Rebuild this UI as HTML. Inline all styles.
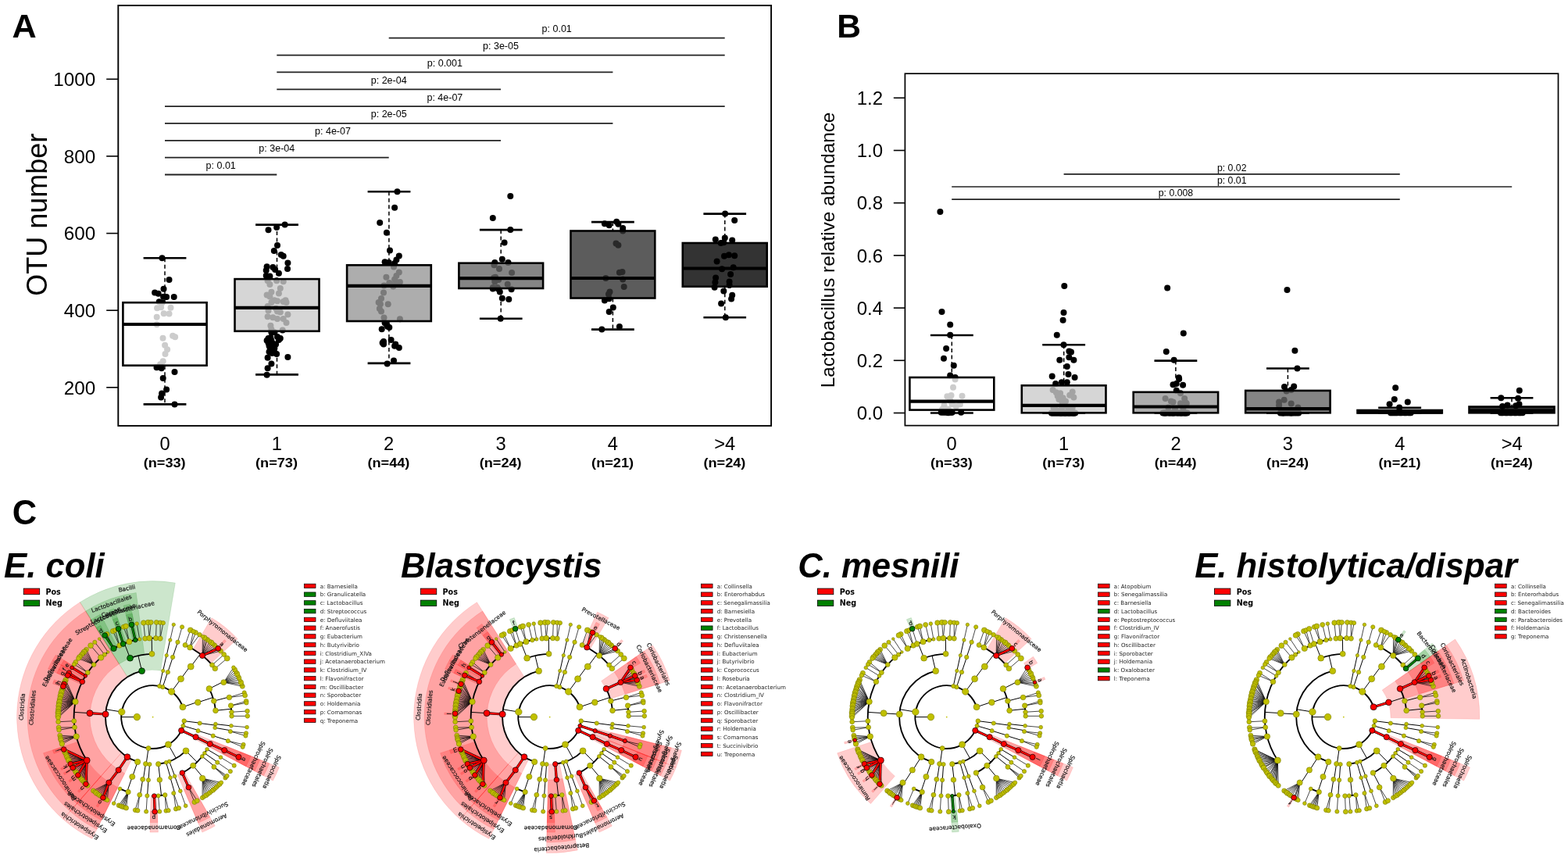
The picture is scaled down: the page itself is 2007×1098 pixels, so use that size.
<!DOCTYPE html>
<html><head><meta charset="utf-8"><title>Figure</title>
<style>
html,body{margin:0;padding:0;background:#fff;width:2007px;height:1098px;overflow:hidden}
svg{display:block}
svg text{font-family:"Liberation Sans",Arial,sans-serif}
svg text.dv{font-family:"DejaVu Sans",sans-serif}
</style></head><body>
<svg width="2007" height="1098" viewBox="0 0 2007 1098">
<rect width="2007" height="1098" fill="#fff"/>
<rect x="151.3" y="7" width="835.8" height="537.9" fill="none" stroke="#000" stroke-width="1.9"/>
<line x1="136.2" y1="495.8" x2="151.3" y2="495.8" stroke="#000" stroke-width="1.6"/>
<text x="122.3" y="504.5" font-size="24.3" text-anchor="end">200</text>
<line x1="136.2" y1="397.2" x2="151.3" y2="397.2" stroke="#000" stroke-width="1.6"/>
<text x="122.3" y="405.9" font-size="24.3" text-anchor="end">400</text>
<line x1="136.2" y1="298.6" x2="151.3" y2="298.6" stroke="#000" stroke-width="1.6"/>
<text x="122.3" y="307.3" font-size="24.3" text-anchor="end">600</text>
<line x1="136.2" y1="199.9" x2="151.3" y2="199.9" stroke="#000" stroke-width="1.6"/>
<text x="122.3" y="208.6" font-size="24.3" text-anchor="end">800</text>
<line x1="136.2" y1="101.3" x2="151.3" y2="101.3" stroke="#000" stroke-width="1.6"/>
<text x="122.3" y="110" font-size="24.3" text-anchor="end">1000</text>
<text transform="translate(59.8,274.8) rotate(-90)" font-size="36" text-anchor="middle">OTU number</text>
<text x="211" y="575.9" font-size="23.7" text-anchor="middle">0</text>
<text x="183.7" y="597.6" font-size="16.2" font-weight="bold" textLength="54" lengthAdjust="spacingAndGlyphs">(n=33)</text>
<text x="354.3" y="575.9" font-size="23.7" text-anchor="middle">1</text>
<text x="327" y="597.6" font-size="16.2" font-weight="bold" textLength="54" lengthAdjust="spacingAndGlyphs">(n=73)</text>
<text x="497.7" y="575.9" font-size="23.7" text-anchor="middle">2</text>
<text x="470.4" y="597.6" font-size="16.2" font-weight="bold" textLength="54" lengthAdjust="spacingAndGlyphs">(n=44)</text>
<text x="641" y="575.9" font-size="23.7" text-anchor="middle">3</text>
<text x="613.7" y="597.6" font-size="16.2" font-weight="bold" textLength="54" lengthAdjust="spacingAndGlyphs">(n=24)</text>
<text x="784.4" y="575.9" font-size="23.7" text-anchor="middle">4</text>
<text x="757.1" y="597.6" font-size="16.2" font-weight="bold" textLength="54" lengthAdjust="spacingAndGlyphs">(n=21)</text>
<text x="927.7" y="575.9" font-size="23.7" text-anchor="middle">&gt;4</text>
<text x="900.4" y="597.6" font-size="16.2" font-weight="bold" textLength="54" lengthAdjust="spacingAndGlyphs">(n=24)</text>
<circle cx="207.5" cy="330.2" r="4.0"/>
<circle cx="216.5" cy="358.1" r="4.0"/>
<circle cx="209.5" cy="369.7" r="4.0"/>
<circle cx="198.1" cy="374.5" r="4.0"/>
<circle cx="202.7" cy="375.7" r="4.0"/>
<circle cx="209.1" cy="379.7" r="4.0"/>
<circle cx="213.1" cy="380.1" r="4.0"/>
<circle cx="222.7" cy="380.1" r="4.0"/>
<circle cx="203.7" cy="386.2" r="4.0"/>
<circle cx="207.7" cy="387.2" r="4.0"/>
<circle cx="201.1" cy="394.2" r="4.0"/>
<circle cx="206.1" cy="393.2" r="4.0"/>
<circle cx="218.5" cy="393.8" r="4.0"/>
<circle cx="209.7" cy="401.2" r="4.0"/>
<circle cx="216.5" cy="401.6" r="4.0"/>
<circle cx="200.7" cy="405.8" r="4.0"/>
<circle cx="200.7" cy="415.2" r="4.0"/>
<circle cx="208.5" cy="432.8" r="4.0"/>
<circle cx="221.1" cy="429.8" r="4.0"/>
<circle cx="224.1" cy="431.2" r="4.0"/>
<circle cx="211.1" cy="441.7" r="4.0"/>
<circle cx="214.1" cy="447.3" r="4.0"/>
<circle cx="211.5" cy="452.9" r="4.0"/>
<circle cx="208.7" cy="462.3" r="4.0"/>
<circle cx="205.1" cy="466.3" r="4.0"/>
<circle cx="200.5" cy="470.3" r="4.0"/>
<circle cx="206.7" cy="471.3" r="4.0"/>
<circle cx="223.5" cy="475.9" r="4.0"/>
<circle cx="208.7" cy="483.9" r="4.0"/>
<circle cx="213.1" cy="498.4" r="4.0"/>
<circle cx="207.1" cy="503.4" r="4.0"/>
<circle cx="206.1" cy="508.4" r="4.0"/>
<circle cx="223.5" cy="517.4" r="4.0"/>
<circle cx="364.6" cy="287.6" r="4.0"/>
<circle cx="354.1" cy="291.1" r="4.0"/>
<circle cx="343.5" cy="294.3" r="4.0"/>
<circle cx="355" cy="314" r="4.0"/>
<circle cx="350.8" cy="321.1" r="4.0"/>
<circle cx="359.8" cy="325.9" r="4.0"/>
<circle cx="362.7" cy="327.8" r="4.0"/>
<circle cx="368.4" cy="336.4" r="4.0"/>
<circle cx="368" cy="344.1" r="4.0"/>
<circle cx="341.6" cy="341.2" r="4.0"/>
<circle cx="340.7" cy="346" r="4.0"/>
<circle cx="349.3" cy="342.1" r="4.0"/>
<circle cx="352.1" cy="345" r="4.0"/>
<circle cx="356.9" cy="349.8" r="4.0"/>
<circle cx="340.7" cy="352.7" r="4.0"/>
<circle cx="345.4" cy="353.6" r="4.0"/>
<circle cx="342.6" cy="359.3" r="4.0"/>
<circle cx="354.1" cy="359.3" r="4.0"/>
<circle cx="362.7" cy="360.3" r="4.0"/>
<circle cx="345.4" cy="364.1" r="4.0"/>
<circle cx="358.8" cy="368.9" r="4.0"/>
<circle cx="341.6" cy="377.5" r="4.0"/>
<circle cx="347.4" cy="373.7" r="4.0"/>
<circle cx="345.4" cy="379.4" r="4.0"/>
<circle cx="351.2" cy="384.2" r="4.0"/>
<circle cx="355" cy="385.2" r="4.0"/>
<circle cx="365.5" cy="384.2" r="4.0"/>
<circle cx="366.5" cy="387.1" r="4.0"/>
<circle cx="362.7" cy="386.1" r="4.0"/>
<circle cx="342.6" cy="391.9" r="4.0"/>
<circle cx="343.5" cy="397.6" r="4.0"/>
<circle cx="355" cy="398.5" r="4.0"/>
<circle cx="358.8" cy="399.5" r="4.0"/>
<circle cx="368.4" cy="402.4" r="4.0"/>
<circle cx="342.6" cy="405.2" r="4.0"/>
<circle cx="349.3" cy="406.2" r="4.0"/>
<circle cx="355" cy="408.1" r="4.0"/>
<circle cx="362.7" cy="408.1" r="4.0"/>
<circle cx="366.5" cy="412.9" r="4.0"/>
<circle cx="346.4" cy="416.7" r="4.0"/>
<circle cx="361.7" cy="422.4" r="4.0"/>
<circle cx="347.4" cy="421.5" r="4.0"/>
<circle cx="353.1" cy="394.7" r="4.0"/>
<circle cx="347.4" cy="387.1" r="4.0"/>
<circle cx="356.9" cy="375.6" r="4.0"/>
<circle cx="347.4" cy="425.3" r="4.0"/>
<circle cx="351.2" cy="425.3" r="4.0"/>
<circle cx="343.5" cy="433" r="4.0"/>
<circle cx="358.8" cy="433" r="4.0"/>
<circle cx="347.4" cy="435.8" r="4.0"/>
<circle cx="356.9" cy="434.9" r="4.0"/>
<circle cx="343.5" cy="438.7" r="4.0"/>
<circle cx="349.3" cy="439.7" r="4.0"/>
<circle cx="345.4" cy="444.4" r="4.0"/>
<circle cx="351.2" cy="446.3" r="4.0"/>
<circle cx="344.5" cy="450.2" r="4.0"/>
<circle cx="354.1" cy="453" r="4.0"/>
<circle cx="342.6" cy="457.8" r="4.0"/>
<circle cx="368.4" cy="456.9" r="4.0"/>
<circle cx="347.4" cy="465.5" r="4.0"/>
<circle cx="342.6" cy="471.2" r="4.0"/>
<circle cx="341.6" cy="479.8" r="4.0"/>
<circle cx="353.1" cy="440.6" r="4.0"/>
<circle cx="346.4" cy="432" r="4.0"/>
<circle cx="350.2" cy="448.3" r="4.0"/>
<circle cx="341.6" cy="435.8" r="4.0"/>
<circle cx="348.3" cy="452.1" r="4.0"/>
<circle cx="344.5" cy="442.5" r="4.0"/>
<circle cx="355" cy="431.1" r="4.0"/>
<circle cx="508.5" cy="245.3" r="4.0"/>
<circle cx="505.1" cy="265.7" r="4.0"/>
<circle cx="486.2" cy="285.1" r="4.0"/>
<circle cx="494.9" cy="297.8" r="4.0"/>
<circle cx="499" cy="320.6" r="4.0"/>
<circle cx="510.8" cy="327.4" r="4.0"/>
<circle cx="507.4" cy="332.4" r="4.0"/>
<circle cx="492.6" cy="335.2" r="4.0"/>
<circle cx="497.8" cy="335.9" r="4.0"/>
<circle cx="505.1" cy="337" r="4.0"/>
<circle cx="504" cy="341.5" r="4.0"/>
<circle cx="510.8" cy="348.4" r="4.0"/>
<circle cx="507.4" cy="352.9" r="4.0"/>
<circle cx="494.4" cy="354.7" r="4.0"/>
<circle cx="498.3" cy="362" r="4.0"/>
<circle cx="507.4" cy="360.9" r="4.0"/>
<circle cx="511.9" cy="360.9" r="4.0"/>
<circle cx="503.3" cy="366.6" r="4.0"/>
<circle cx="491.5" cy="365.4" r="4.0"/>
<circle cx="491" cy="374.5" r="4.0"/>
<circle cx="488" cy="382.1" r="4.0"/>
<circle cx="484.6" cy="387.1" r="4.0"/>
<circle cx="496.7" cy="389.3" r="4.0"/>
<circle cx="485.8" cy="395" r="4.0"/>
<circle cx="488" cy="398.4" r="4.0"/>
<circle cx="491.5" cy="406.4" r="4.0"/>
<circle cx="511.9" cy="408.2" r="4.0"/>
<circle cx="505.1" cy="357.5" r="4.0"/>
<circle cx="486.9" cy="389.3" r="4.0"/>
<circle cx="500.6" cy="364.3" r="4.0"/>
<circle cx="492.6" cy="413.2" r="4.0"/>
<circle cx="496" cy="417.8" r="4.0"/>
<circle cx="488.7" cy="421.2" r="4.0"/>
<circle cx="491" cy="437.1" r="4.0"/>
<circle cx="491" cy="440.6" r="4.0"/>
<circle cx="500.6" cy="434.9" r="4.0"/>
<circle cx="506.3" cy="440.6" r="4.0"/>
<circle cx="510.8" cy="445.1" r="4.0"/>
<circle cx="495.6" cy="465.6" r="4.0"/>
<circle cx="504" cy="461.5" r="4.0"/>
<circle cx="494.9" cy="415.5" r="4.0"/>
<circle cx="498.3" cy="418.9" r="4.0"/>
<circle cx="505.1" cy="442.8" r="4.0"/>
<circle cx="489.6" cy="438.7" r="4.0"/>
<circle cx="653.3" cy="251" r="4.0"/>
<circle cx="630.8" cy="279" r="4.0"/>
<circle cx="653.3" cy="294.1" r="4.0"/>
<circle cx="645.6" cy="310.5" r="4.0"/>
<circle cx="642.8" cy="331.8" r="4.0"/>
<circle cx="633.3" cy="335.9" r="4.0"/>
<circle cx="650.5" cy="335.9" r="4.0"/>
<circle cx="632.5" cy="339.2" r="4.0"/>
<circle cx="639" cy="344.1" r="4.0"/>
<circle cx="655.1" cy="349" r="4.0"/>
<circle cx="632.1" cy="355.6" r="4.0"/>
<circle cx="638.2" cy="358" r="4.0"/>
<circle cx="633.3" cy="360.5" r="4.0"/>
<circle cx="649.7" cy="363.8" r="4.0"/>
<circle cx="630.8" cy="367.9" r="4.0"/>
<circle cx="636.6" cy="367.9" r="4.0"/>
<circle cx="634.1" cy="354.8" r="4.0"/>
<circle cx="654.6" cy="370.3" r="4.0"/>
<circle cx="639.8" cy="373.6" r="4.0"/>
<circle cx="642.8" cy="381.8" r="4.0"/>
<circle cx="651.3" cy="383" r="4.0"/>
<circle cx="640.7" cy="407.7" r="4.0"/>
<circle cx="630.8" cy="369.5" r="4.0"/>
<circle cx="637.4" cy="369.5" r="4.0"/>
<circle cx="773.9" cy="286.3" r="4.0"/>
<circle cx="779.7" cy="288.2" r="4.0"/>
<circle cx="789.2" cy="283.8" r="4.0"/>
<circle cx="791.4" cy="286.8" r="4.0"/>
<circle cx="797.2" cy="291.9" r="4.0"/>
<circle cx="797.2" cy="295.5" r="4.0"/>
<circle cx="788.5" cy="311.5" r="4.0"/>
<circle cx="791.4" cy="313.7" r="4.0"/>
<circle cx="792.9" cy="348.7" r="4.0"/>
<circle cx="796.5" cy="348" r="4.0"/>
<circle cx="775.4" cy="356" r="4.0"/>
<circle cx="797.2" cy="357.4" r="4.0"/>
<circle cx="798.7" cy="366.9" r="4.0"/>
<circle cx="780.5" cy="373.5" r="4.0"/>
<circle cx="779" cy="376.4" r="4.0"/>
<circle cx="773.9" cy="384.4" r="4.0"/>
<circle cx="779.7" cy="382.2" r="4.0"/>
<circle cx="784.8" cy="393.6" r="4.0"/>
<circle cx="779.7" cy="399" r="4.0"/>
<circle cx="770.3" cy="421.6" r="4.0"/>
<circle cx="792.9" cy="417.9" r="4.0"/>
<circle cx="928.1" cy="273.6" r="4.0"/>
<circle cx="940.2" cy="281.9" r="4.0"/>
<circle cx="915.8" cy="306.6" r="4.0"/>
<circle cx="927.8" cy="304.4" r="4.0"/>
<circle cx="937.2" cy="307.4" r="4.0"/>
<circle cx="922.7" cy="311" r="4.0"/>
<circle cx="926.3" cy="310.3" r="4.0"/>
<circle cx="927" cy="327.8" r="4.0"/>
<circle cx="932.9" cy="326.3" r="4.0"/>
<circle cx="940.2" cy="327.3" r="4.0"/>
<circle cx="917.6" cy="334.6" r="4.0"/>
<circle cx="924.1" cy="344.2" r="4.0"/>
<circle cx="938.7" cy="342.3" r="4.0"/>
<circle cx="935.1" cy="351.1" r="4.0"/>
<circle cx="916.1" cy="355.5" r="4.0"/>
<circle cx="915.4" cy="361.3" r="4.0"/>
<circle cx="933.6" cy="360.6" r="4.0"/>
<circle cx="933.6" cy="364.9" r="4.0"/>
<circle cx="914.6" cy="367.8" r="4.0"/>
<circle cx="926.3" cy="372.6" r="4.0"/>
<circle cx="937.2" cy="377.7" r="4.0"/>
<circle cx="936.1" cy="382.4" r="4.0"/>
<circle cx="923.1" cy="388.5" r="4.0"/>
<circle cx="928.8" cy="406.2" r="4.0"/>
<line x1="211" y1="330.2" x2="211" y2="387.2" stroke="#000" stroke-width="1.5" stroke-dasharray="5,3.5"/>
<line x1="211" y1="467.7" x2="211" y2="517.4" stroke="#000" stroke-width="1.5" stroke-dasharray="5,3.5"/>
<line x1="183.6" y1="330.2" x2="238.4" y2="330.2" stroke="#000" stroke-width="2.6"/>
<line x1="183.6" y1="517.4" x2="238.4" y2="517.4" stroke="#000" stroke-width="2.6"/>
<rect x="157.4" y="387.2" width="107.2" height="80.5" fill="#ffffff" fill-opacity="0.8" stroke="#000" stroke-width="2.6"/>
<line x1="157.4" y1="415" x2="264.6" y2="415" stroke="#000" stroke-width="4.2"/>
<line x1="354.5" y1="287.6" x2="354.5" y2="357.1" stroke="#000" stroke-width="1.5" stroke-dasharray="5,3.5"/>
<line x1="354.5" y1="423.8" x2="354.5" y2="479.4" stroke="#000" stroke-width="1.5" stroke-dasharray="5,3.5"/>
<line x1="327.1" y1="287.6" x2="381.9" y2="287.6" stroke="#000" stroke-width="2.6"/>
<line x1="327.1" y1="479.4" x2="381.9" y2="479.4" stroke="#000" stroke-width="2.6"/>
<rect x="300.5" y="357.1" width="108" height="66.7" fill="#cccccc" fill-opacity="0.8" stroke="#000" stroke-width="2.6"/>
<line x1="300.5" y1="393.8" x2="408.5" y2="393.8" stroke="#000" stroke-width="4.2"/>
<line x1="497.9" y1="245.3" x2="497.9" y2="339.3" stroke="#000" stroke-width="1.5" stroke-dasharray="5,3.5"/>
<line x1="497.9" y1="411" x2="497.9" y2="464.9" stroke="#000" stroke-width="1.5" stroke-dasharray="5,3.5"/>
<line x1="470.6" y1="245.3" x2="525.4" y2="245.3" stroke="#000" stroke-width="2.6"/>
<line x1="470.6" y1="464.9" x2="525.4" y2="464.9" stroke="#000" stroke-width="2.6"/>
<rect x="444.1" y="339.3" width="107.7" height="71.7" fill="#999999" fill-opacity="0.8" stroke="#000" stroke-width="2.6"/>
<line x1="444.1" y1="365.9" x2="551.8" y2="365.9" stroke="#000" stroke-width="4.2"/>
<line x1="641.2" y1="294.1" x2="641.2" y2="336.7" stroke="#000" stroke-width="1.5" stroke-dasharray="5,3.5"/>
<line x1="641.2" y1="369" x2="641.2" y2="407.7" stroke="#000" stroke-width="1.5" stroke-dasharray="5,3.5"/>
<line x1="613.9" y1="294.1" x2="668.6" y2="294.1" stroke="#000" stroke-width="2.6"/>
<line x1="613.9" y1="407.7" x2="668.6" y2="407.7" stroke="#000" stroke-width="2.6"/>
<rect x="587.4" y="336.7" width="107.7" height="32.3" fill="#666666" fill-opacity="0.8" stroke="#000" stroke-width="2.6"/>
<line x1="587.4" y1="356.1" x2="695.1" y2="356.1" stroke="#000" stroke-width="4.2"/>
<line x1="784.4" y1="284.1" x2="784.4" y2="295.5" stroke="#000" stroke-width="1.5" stroke-dasharray="5,3.5"/>
<line x1="784.4" y1="381.5" x2="784.4" y2="421.6" stroke="#000" stroke-width="1.5" stroke-dasharray="5,3.5"/>
<line x1="757" y1="284.1" x2="811.8" y2="284.1" stroke="#000" stroke-width="2.6"/>
<line x1="757" y1="421.6" x2="811.8" y2="421.6" stroke="#000" stroke-width="2.6"/>
<rect x="730.5" y="295.5" width="107.8" height="86" fill="#333333" fill-opacity="0.8" stroke="#000" stroke-width="2.6"/>
<line x1="730.5" y1="356" x2="838.3" y2="356" stroke="#000" stroke-width="4.2"/>
<line x1="927.8" y1="273.6" x2="927.8" y2="311" stroke="#000" stroke-width="1.5" stroke-dasharray="5,3.5"/>
<line x1="927.8" y1="366.7" x2="927.8" y2="406.2" stroke="#000" stroke-width="1.5" stroke-dasharray="5,3.5"/>
<line x1="900.4" y1="273.6" x2="955.1" y2="273.6" stroke="#000" stroke-width="2.6"/>
<line x1="900.4" y1="406.2" x2="955.1" y2="406.2" stroke="#000" stroke-width="2.6"/>
<rect x="873.8" y="311" width="107.9" height="55.7" fill="#000000" fill-opacity="0.8" stroke="#000" stroke-width="2.6"/>
<line x1="873.8" y1="343.5" x2="981.7" y2="343.5" stroke="#000" stroke-width="4.2"/>
<line x1="497.7" y1="48.7" x2="927.7" y2="48.7" stroke="#222" stroke-width="1.8"/>
<text x="712.7" y="41.2" font-size="12.5" text-anchor="middle">p: 0.01</text>
<line x1="354.3" y1="70.6" x2="927.7" y2="70.6" stroke="#222" stroke-width="1.8"/>
<text x="641" y="63.1" font-size="12.5" text-anchor="middle">p: 3e-05</text>
<line x1="354.3" y1="92.4" x2="784.4" y2="92.4" stroke="#222" stroke-width="1.8"/>
<text x="569.4" y="84.9" font-size="12.5" text-anchor="middle">p: 0.001</text>
<line x1="354.3" y1="114.3" x2="641" y2="114.3" stroke="#222" stroke-width="1.8"/>
<text x="497.7" y="106.8" font-size="12.5" text-anchor="middle">p: 2e-04</text>
<line x1="211" y1="136.1" x2="927.7" y2="136.1" stroke="#222" stroke-width="1.8"/>
<text x="569.4" y="128.6" font-size="12.5" text-anchor="middle">p: 4e-07</text>
<line x1="211" y1="157.9" x2="784.4" y2="157.9" stroke="#222" stroke-width="1.8"/>
<text x="497.7" y="150.4" font-size="12.5" text-anchor="middle">p: 2e-05</text>
<line x1="211" y1="179.8" x2="641" y2="179.8" stroke="#222" stroke-width="1.8"/>
<text x="426" y="172.3" font-size="12.5" text-anchor="middle">p: 4e-07</text>
<line x1="211" y1="201.7" x2="497.7" y2="201.7" stroke="#222" stroke-width="1.8"/>
<text x="354.3" y="194.2" font-size="12.5" text-anchor="middle">p: 3e-04</text>
<line x1="211" y1="223.5" x2="354.3" y2="223.5" stroke="#222" stroke-width="1.8"/>
<text x="282.7" y="216" font-size="12.5" text-anchor="middle">p: 0.01</text>
<text x="15.4" y="47.9" font-size="42.5" font-weight="bold" textLength="31.2" lengthAdjust="spacingAndGlyphs">A</text>
<rect x="1158.4" y="94.2" width="836.1" height="450.4" fill="none" stroke="#000" stroke-width="1.7"/>
<line x1="1143.8" y1="528.5" x2="1158.4" y2="528.5" stroke="#000" stroke-width="1.6"/>
<text x="1130" y="537.1" font-size="24" text-anchor="end">0.0</text>
<line x1="1143.8" y1="461.3" x2="1158.4" y2="461.3" stroke="#000" stroke-width="1.6"/>
<text x="1130" y="469.9" font-size="24" text-anchor="end">0.2</text>
<line x1="1143.8" y1="394.1" x2="1158.4" y2="394.1" stroke="#000" stroke-width="1.6"/>
<text x="1130" y="402.7" font-size="24" text-anchor="end">0.4</text>
<line x1="1143.8" y1="326.9" x2="1158.4" y2="326.9" stroke="#000" stroke-width="1.6"/>
<text x="1130" y="335.5" font-size="24" text-anchor="end">0.6</text>
<line x1="1143.8" y1="259.7" x2="1158.4" y2="259.7" stroke="#000" stroke-width="1.6"/>
<text x="1130" y="268.3" font-size="24" text-anchor="end">0.8</text>
<line x1="1143.8" y1="192.5" x2="1158.4" y2="192.5" stroke="#000" stroke-width="1.6"/>
<text x="1130" y="201.1" font-size="24" text-anchor="end">1.0</text>
<line x1="1143.8" y1="125.3" x2="1158.4" y2="125.3" stroke="#000" stroke-width="1.6"/>
<text x="1130" y="133.9" font-size="24" text-anchor="end">1.2</text>
<text transform="translate(1068,319.9) rotate(-90)" font-size="24.3" text-anchor="middle">Lactobacillus relative abundance</text>
<text x="1218.2" y="575.9" font-size="23.7" text-anchor="middle">0</text>
<text x="1190.9" y="597.6" font-size="16.2" font-weight="bold" textLength="54" lengthAdjust="spacingAndGlyphs">(n=33)</text>
<text x="1361.6" y="575.9" font-size="23.7" text-anchor="middle">1</text>
<text x="1334.3" y="597.6" font-size="16.2" font-weight="bold" textLength="54" lengthAdjust="spacingAndGlyphs">(n=73)</text>
<text x="1505" y="575.9" font-size="23.7" text-anchor="middle">2</text>
<text x="1477.7" y="597.6" font-size="16.2" font-weight="bold" textLength="54" lengthAdjust="spacingAndGlyphs">(n=44)</text>
<text x="1648.4" y="575.9" font-size="23.7" text-anchor="middle">3</text>
<text x="1621.1" y="597.6" font-size="16.2" font-weight="bold" textLength="54" lengthAdjust="spacingAndGlyphs">(n=24)</text>
<text x="1791.8" y="575.9" font-size="23.7" text-anchor="middle">4</text>
<text x="1764.5" y="597.6" font-size="16.2" font-weight="bold" textLength="54" lengthAdjust="spacingAndGlyphs">(n=21)</text>
<text x="1935.2" y="575.9" font-size="23.7" text-anchor="middle">&gt;4</text>
<text x="1907.9" y="597.6" font-size="16.2" font-weight="bold" textLength="54" lengthAdjust="spacingAndGlyphs">(n=24)</text>
<circle cx="1203.4" cy="271" r="4.0"/>
<circle cx="1205.5" cy="398.9" r="4.0"/>
<circle cx="1216.2" cy="415.5" r="4.0"/>
<circle cx="1216.2" cy="428.7" r="4.0"/>
<circle cx="1211.1" cy="446.1" r="4.0"/>
<circle cx="1208" cy="458.8" r="4.0"/>
<circle cx="1220.8" cy="467.7" r="4.0"/>
<circle cx="1216.2" cy="480.5" r="4.0"/>
<circle cx="1222.6" cy="483" r="4.0"/>
<circle cx="1222.6" cy="485.6" r="4.0"/>
<circle cx="1220" cy="495.8" r="4.0"/>
<circle cx="1212.4" cy="507.3" r="4.0"/>
<circle cx="1217.5" cy="506" r="4.0"/>
<circle cx="1231.5" cy="506.7" r="4.0"/>
<circle cx="1208.5" cy="518.7" r="4.0"/>
<circle cx="1218.7" cy="517.5" r="4.0"/>
<circle cx="1228.9" cy="517.5" r="4.0"/>
<circle cx="1206" cy="523.8" r="4.0"/>
<circle cx="1213.6" cy="523.8" r="4.0"/>
<circle cx="1223.8" cy="520" r="4.0"/>
<circle cx="1216.2" cy="512.4" r="4.0"/>
<circle cx="1204.7" cy="527.7" r="4.0"/>
<circle cx="1207.3" cy="527.7" r="4.0"/>
<circle cx="1209.8" cy="527.7" r="4.0"/>
<circle cx="1212.4" cy="527.7" r="4.0"/>
<circle cx="1214.9" cy="527.7" r="4.0"/>
<circle cx="1217.5" cy="527.7" r="4.0"/>
<circle cx="1218.7" cy="527.7" r="4.0"/>
<circle cx="1230.2" cy="527.7" r="4.0"/>
<circle cx="1208.5" cy="526.4" r="4.0"/>
<circle cx="1216.2" cy="526.4" r="4.0"/>
<circle cx="1213.6" cy="528.2" r="4.0"/>
<circle cx="1211.1" cy="526.6" r="4.0"/>
<circle cx="1362.3" cy="366.1" r="4.0"/>
<circle cx="1361.5" cy="399.9" r="4.0"/>
<circle cx="1360.6" cy="409.7" r="4.0"/>
<circle cx="1352.8" cy="428.8" r="4.0"/>
<circle cx="1361.5" cy="441.2" r="4.0"/>
<circle cx="1368.4" cy="449.5" r="4.0"/>
<circle cx="1371" cy="450.4" r="4.0"/>
<circle cx="1368.4" cy="457.3" r="4.0"/>
<circle cx="1374.4" cy="460.8" r="4.0"/>
<circle cx="1356.3" cy="460.8" r="4.0"/>
<circle cx="1365.8" cy="469.1" r="4.0"/>
<circle cx="1367.5" cy="479" r="4.0"/>
<circle cx="1346.7" cy="481.6" r="4.0"/>
<circle cx="1375.6" cy="482.9" r="4.0"/>
<circle cx="1351.1" cy="491.1" r="4.0"/>
<circle cx="1358.9" cy="489.3" r="4.0"/>
<circle cx="1365.8" cy="489.3" r="4.0"/>
<circle cx="1347.6" cy="498.9" r="4.0"/>
<circle cx="1351.9" cy="502.3" r="4.0"/>
<circle cx="1357.1" cy="503.2" r="4.0"/>
<circle cx="1372.7" cy="501.5" r="4.0"/>
<circle cx="1360.6" cy="509.3" r="4.0"/>
<circle cx="1374.4" cy="508.4" r="4.0"/>
<circle cx="1355.4" cy="511" r="4.0"/>
<circle cx="1359.7" cy="515.3" r="4.0"/>
<circle cx="1364" cy="513.6" r="4.0"/>
<circle cx="1348.5" cy="521.4" r="4.0"/>
<circle cx="1358.9" cy="523.1" r="4.0"/>
<circle cx="1372.7" cy="521.4" r="4.0"/>
<circle cx="1353.7" cy="506.7" r="4.0"/>
<circle cx="1369.2" cy="505.8" r="4.0"/>
<circle cx="1362.3" cy="519.6" r="4.0"/>
<circle cx="1351.9" cy="524.8" r="4.0"/>
<circle cx="1367.5" cy="524.8" r="4.0"/>
<circle cx="1345.9" cy="528.5" r="4.0"/>
<circle cx="1348.5" cy="528.5" r="4.0"/>
<circle cx="1351.1" cy="528.5" r="4.0"/>
<circle cx="1353.7" cy="528.5" r="4.0"/>
<circle cx="1356.3" cy="528.5" r="4.0"/>
<circle cx="1358.9" cy="528.5" r="4.0"/>
<circle cx="1361.5" cy="528.5" r="4.0"/>
<circle cx="1364" cy="528.5" r="4.0"/>
<circle cx="1366.6" cy="528.5" r="4.0"/>
<circle cx="1369.2" cy="528.5" r="4.0"/>
<circle cx="1371.8" cy="528.5" r="4.0"/>
<circle cx="1374.4" cy="528.5" r="4.0"/>
<circle cx="1376.2" cy="528.5" r="4.0"/>
<circle cx="1346.7" cy="528.5" r="4.0"/>
<circle cx="1351.9" cy="528.5" r="4.0"/>
<circle cx="1357.1" cy="528.5" r="4.0"/>
<circle cx="1362.3" cy="528.5" r="4.0"/>
<circle cx="1367.5" cy="528.5" r="4.0"/>
<circle cx="1372.7" cy="528.5" r="4.0"/>
<circle cx="1375.3" cy="528.5" r="4.0"/>
<circle cx="1349.3" cy="528.5" r="4.0"/>
<circle cx="1354.5" cy="528.5" r="4.0"/>
<circle cx="1359.7" cy="528.5" r="4.0"/>
<circle cx="1364.9" cy="528.5" r="4.0"/>
<circle cx="1370.1" cy="528.5" r="4.0"/>
<circle cx="1373.6" cy="528.5" r="4.0"/>
<circle cx="1358" cy="528.5" r="4.0"/>
<circle cx="1363.2" cy="528.5" r="4.0"/>
<circle cx="1368.4" cy="528.5" r="4.0"/>
<circle cx="1494.2" cy="368.5" r="4.0"/>
<circle cx="1514.8" cy="426.5" r="4.0"/>
<circle cx="1492.8" cy="449.9" r="4.0"/>
<circle cx="1502.7" cy="460.8" r="4.0"/>
<circle cx="1508.9" cy="483.3" r="4.0"/>
<circle cx="1509.2" cy="485" r="4.0"/>
<circle cx="1501.5" cy="492.3" r="4.0"/>
<circle cx="1505.8" cy="491.1" r="4.0"/>
<circle cx="1514.1" cy="492.8" r="4.0"/>
<circle cx="1505.8" cy="499.7" r="4.0"/>
<circle cx="1511" cy="503.2" r="4.0"/>
<circle cx="1491.6" cy="510.1" r="4.0"/>
<circle cx="1498.9" cy="513.6" r="4.0"/>
<circle cx="1501.5" cy="514.4" r="4.0"/>
<circle cx="1516.2" cy="510.1" r="4.0"/>
<circle cx="1517" cy="514.4" r="4.0"/>
<circle cx="1518.8" cy="516.2" r="4.0"/>
<circle cx="1511" cy="516.2" r="4.0"/>
<circle cx="1495.4" cy="521.4" r="4.0"/>
<circle cx="1514.4" cy="522.2" r="4.0"/>
<circle cx="1504" cy="523.1" r="4.0"/>
<circle cx="1488.5" cy="528.5" r="4.0"/>
<circle cx="1491.1" cy="528.5" r="4.0"/>
<circle cx="1493.7" cy="528.5" r="4.0"/>
<circle cx="1496.3" cy="528.5" r="4.0"/>
<circle cx="1498.9" cy="528.5" r="4.0"/>
<circle cx="1501.5" cy="528.5" r="4.0"/>
<circle cx="1504" cy="528.5" r="4.0"/>
<circle cx="1506.6" cy="528.5" r="4.0"/>
<circle cx="1509.2" cy="528.5" r="4.0"/>
<circle cx="1511.8" cy="528.5" r="4.0"/>
<circle cx="1514.4" cy="528.5" r="4.0"/>
<circle cx="1517" cy="528.5" r="4.0"/>
<circle cx="1519.6" cy="528.5" r="4.0"/>
<circle cx="1491.9" cy="528.5" r="4.0"/>
<circle cx="1497.1" cy="528.5" r="4.0"/>
<circle cx="1502.3" cy="528.5" r="4.0"/>
<circle cx="1507.5" cy="528.5" r="4.0"/>
<circle cx="1512.7" cy="528.5" r="4.0"/>
<circle cx="1517.9" cy="528.5" r="4.0"/>
<circle cx="1490.2" cy="528.5" r="4.0"/>
<circle cx="1500.6" cy="528.5" r="4.0"/>
<circle cx="1511" cy="528.5" r="4.0"/>
<circle cx="1516.2" cy="528.5" r="4.0"/>
<circle cx="1647.5" cy="371.1" r="4.0"/>
<circle cx="1657.4" cy="448.7" r="4.0"/>
<circle cx="1660.5" cy="471.5" r="4.0"/>
<circle cx="1644" cy="495.1" r="4.0"/>
<circle cx="1656.2" cy="494.5" r="4.0"/>
<circle cx="1646.6" cy="500.6" r="4.0"/>
<circle cx="1652.7" cy="498.9" r="4.0"/>
<circle cx="1637.1" cy="514.4" r="4.0"/>
<circle cx="1643.7" cy="511.8" r="4.0"/>
<circle cx="1652.7" cy="516.5" r="4.0"/>
<circle cx="1661.4" cy="521.4" r="4.0"/>
<circle cx="1637.1" cy="518.8" r="4.0"/>
<circle cx="1638.9" cy="528.5" r="4.0"/>
<circle cx="1641.5" cy="528.5" r="4.0"/>
<circle cx="1644" cy="528.5" r="4.0"/>
<circle cx="1646.6" cy="528.5" r="4.0"/>
<circle cx="1649.2" cy="528.5" r="4.0"/>
<circle cx="1651.8" cy="528.5" r="4.0"/>
<circle cx="1654.4" cy="528.5" r="4.0"/>
<circle cx="1657" cy="528.5" r="4.0"/>
<circle cx="1659.6" cy="528.5" r="4.0"/>
<circle cx="1662.2" cy="528.5" r="4.0"/>
<circle cx="1642.3" cy="528.5" r="4.0"/>
<circle cx="1652.7" cy="528.5" r="4.0"/>
<circle cx="1786.2" cy="496.2" r="4.0"/>
<circle cx="1784.8" cy="511" r="4.0"/>
<circle cx="1778.6" cy="517.2" r="4.0"/>
<circle cx="1801.8" cy="514.6" r="4.0"/>
<circle cx="1791.1" cy="521.5" r="4.0"/>
<circle cx="1780.1" cy="528.3" r="4.0"/>
<circle cx="1782.9" cy="528.3" r="4.0"/>
<circle cx="1785.8" cy="528.3" r="4.0"/>
<circle cx="1788.6" cy="528.3" r="4.0"/>
<circle cx="1791.5" cy="528.3" r="4.0"/>
<circle cx="1794.4" cy="528.3" r="4.0"/>
<circle cx="1797.2" cy="528.3" r="4.0"/>
<circle cx="1800.1" cy="528.3" r="4.0"/>
<circle cx="1802.9" cy="528.3" r="4.0"/>
<circle cx="1805.8" cy="528.3" r="4.0"/>
<circle cx="1781.5" cy="528.3" r="4.0"/>
<circle cx="1787.2" cy="528.3" r="4.0"/>
<circle cx="1792.9" cy="528.3" r="4.0"/>
<circle cx="1798.7" cy="528.3" r="4.0"/>
<circle cx="1804.4" cy="528.3" r="4.0"/>
<circle cx="1784.4" cy="528.3" r="4.0"/>
<circle cx="1944.8" cy="499.7" r="4.0"/>
<circle cx="1921.3" cy="509.3" r="4.0"/>
<circle cx="1943.1" cy="509.8" r="4.0"/>
<circle cx="1923.1" cy="520.1" r="4.0"/>
<circle cx="1929.5" cy="518.6" r="4.0"/>
<circle cx="1940.2" cy="519.3" r="4.0"/>
<circle cx="1944.5" cy="517.2" r="4.0"/>
<circle cx="1920.9" cy="528.3" r="4.0"/>
<circle cx="1923.8" cy="528.3" r="4.0"/>
<circle cx="1926.6" cy="528.3" r="4.0"/>
<circle cx="1929.5" cy="528.3" r="4.0"/>
<circle cx="1932.4" cy="528.3" r="4.0"/>
<circle cx="1935.2" cy="528.3" r="4.0"/>
<circle cx="1938.1" cy="528.3" r="4.0"/>
<circle cx="1940.9" cy="528.3" r="4.0"/>
<circle cx="1943.8" cy="528.3" r="4.0"/>
<circle cx="1946.7" cy="528.3" r="4.0"/>
<circle cx="1948.8" cy="528.3" r="4.0"/>
<circle cx="1922.3" cy="528.3" r="4.0"/>
<circle cx="1928.1" cy="528.3" r="4.0"/>
<circle cx="1933.8" cy="528.3" r="4.0"/>
<circle cx="1939.5" cy="528.3" r="4.0"/>
<circle cx="1945.2" cy="528.3" r="4.0"/>
<line x1="1218.3" y1="429" x2="1218.3" y2="483" stroke="#000" stroke-width="1.5" stroke-dasharray="5,3.5"/>
<line x1="1218.3" y1="524.6" x2="1218.3" y2="528.5" stroke="#000" stroke-width="1.5" stroke-dasharray="5,3.5"/>
<line x1="1190.9" y1="429" x2="1245.8" y2="429" stroke="#000" stroke-width="2.6"/>
<line x1="1190.9" y1="528.5" x2="1245.8" y2="528.5" stroke="#000" stroke-width="2.6"/>
<rect x="1164.4" y="483" width="107.9" height="41.6" fill="#ffffff" fill-opacity="0.8" stroke="#000" stroke-width="2.6"/>
<line x1="1164.4" y1="513.6" x2="1272.3" y2="513.6" stroke="#000" stroke-width="4.2"/>
<line x1="1361.7" y1="441.2" x2="1361.7" y2="493.3" stroke="#000" stroke-width="1.5" stroke-dasharray="5,3.5"/>
<line x1="1361.7" y1="528.3" x2="1361.7" y2="528.5" stroke="#000" stroke-width="1.5" stroke-dasharray="5,3.5"/>
<line x1="1334.2" y1="441.2" x2="1389.1" y2="441.2" stroke="#000" stroke-width="2.6"/>
<line x1="1334.2" y1="528.5" x2="1389.1" y2="528.5" stroke="#000" stroke-width="2.6"/>
<rect x="1307.8" y="493.3" width="107.7" height="35" fill="#cccccc" fill-opacity="0.8" stroke="#000" stroke-width="2.6"/>
<line x1="1307.8" y1="518.8" x2="1415.5" y2="518.8" stroke="#000" stroke-width="4.2"/>
<line x1="1504.9" y1="461.6" x2="1504.9" y2="501.8" stroke="#000" stroke-width="1.5" stroke-dasharray="5,3.5"/>
<line x1="1504.9" y1="528.3" x2="1504.9" y2="528.5" stroke="#000" stroke-width="1.5" stroke-dasharray="5,3.5"/>
<line x1="1477.5" y1="461.6" x2="1532.3" y2="461.6" stroke="#000" stroke-width="2.6"/>
<line x1="1477.5" y1="528.5" x2="1532.3" y2="528.5" stroke="#000" stroke-width="2.6"/>
<rect x="1450.7" y="501.8" width="108.4" height="26.5" fill="#999999" fill-opacity="0.8" stroke="#000" stroke-width="2.6"/>
<line x1="1450.7" y1="520.5" x2="1559.1" y2="520.5" stroke="#000" stroke-width="4.2"/>
<line x1="1648.4" y1="471.5" x2="1648.4" y2="499.9" stroke="#000" stroke-width="1.5" stroke-dasharray="5,3.5"/>
<line x1="1648.4" y1="528.3" x2="1648.4" y2="528.5" stroke="#000" stroke-width="1.5" stroke-dasharray="5,3.5"/>
<line x1="1621" y1="471.5" x2="1675.8" y2="471.5" stroke="#000" stroke-width="2.6"/>
<line x1="1621" y1="528.5" x2="1675.8" y2="528.5" stroke="#000" stroke-width="2.6"/>
<rect x="1594.2" y="499.9" width="108.4" height="28.4" fill="#666666" fill-opacity="0.8" stroke="#000" stroke-width="2.6"/>
<line x1="1594.2" y1="523.1" x2="1702.6" y2="523.1" stroke="#000" stroke-width="4.2"/>
<line x1="1791.7" y1="521.8" x2="1791.7" y2="525" stroke="#000" stroke-width="1.5" stroke-dasharray="5,3.5"/>
<line x1="1791.7" y1="528.5" x2="1791.7" y2="528.5" stroke="#000" stroke-width="1.5" stroke-dasharray="5,3.5"/>
<line x1="1764.2" y1="521.8" x2="1819.1" y2="521.8" stroke="#000" stroke-width="2.6"/>
<line x1="1764.2" y1="528.5" x2="1819.1" y2="528.5" stroke="#000" stroke-width="2.6"/>
<rect x="1737.5" y="525" width="108.3" height="3.5" fill="#333333" fill-opacity="0.8" stroke="#000" stroke-width="2.6"/>
<line x1="1737.5" y1="527.5" x2="1845.8" y2="527.5" stroke="#000" stroke-width="4.2"/>
<line x1="1935" y1="509.3" x2="1935" y2="520.5" stroke="#000" stroke-width="1.5" stroke-dasharray="5,3.5"/>
<line x1="1935" y1="528.3" x2="1935" y2="528.5" stroke="#000" stroke-width="1.5" stroke-dasharray="5,3.5"/>
<line x1="1907.6" y1="509.3" x2="1962.4" y2="509.3" stroke="#000" stroke-width="2.6"/>
<line x1="1907.6" y1="528.5" x2="1962.4" y2="528.5" stroke="#000" stroke-width="2.6"/>
<rect x="1880.5" y="520.5" width="109" height="7.8" fill="#000000" fill-opacity="0.8" stroke="#000" stroke-width="2.6"/>
<line x1="1880.5" y1="525.5" x2="1989.5" y2="525.5" stroke="#000" stroke-width="4.2"/>
<line x1="1361.6" y1="222.8" x2="1791.8" y2="222.8" stroke="#222" stroke-width="1.7"/>
<text x="1576.7" y="218.6" font-size="12.3" text-anchor="middle">p: 0.02</text>
<line x1="1218.2" y1="239" x2="1935.2" y2="239" stroke="#222" stroke-width="1.7"/>
<text x="1576.7" y="234.8" font-size="12.3" text-anchor="middle">p: 0.01</text>
<line x1="1218.2" y1="255.1" x2="1791.8" y2="255.1" stroke="#222" stroke-width="1.7"/>
<text x="1505" y="250.9" font-size="12.3" text-anchor="middle">p: 0.008</text>
<text x="1071.2" y="47.9" font-size="42.5" font-weight="bold">B</text>
<text x="15.8" y="670.7" font-size="43.5" font-weight="bold">C</text>
<path d="M224.32 745.99A174 174 0 0 0 102.37 770.69L163.29 866.69A60.3 60.3 0 0 1 205.55 858.13Z" fill="#008000" fill-opacity="0.2" stroke="#008000" stroke-opacity="0.15" stroke-width="0.8"/>
<path d="M102.37 770.69A174 174 0 0 0 80.87 1048.42L155.84 962.94A60.3 60.3 0 0 1 163.29 866.69Z" fill="#ff0000" fill-opacity="0.2" stroke="#ff0000" stroke-opacity="0.15" stroke-width="0.8"/>
<path d="M80.87 1048.42A174 174 0 0 0 117.96 1073.32L168.69 971.56A60.3 60.3 0 0 1 155.84 962.94Z" fill="#ff0000" fill-opacity="0.2" stroke="#ff0000" stroke-opacity="0.15" stroke-width="0.8"/>
<path d="M349.38 999.02A174 174 0 0 0 357.27 981.94L251.63 939.9A60.3 60.3 0 0 1 248.89 945.82Z" fill="#ff0000" fill-opacity="0.2" stroke="#ff0000" stroke-opacity="0.15" stroke-width="0.8"/>
<path d="M174.23 758.53A160.5 160.5 0 0 0 109.6 782.09L152.47 849.63A80.5 80.5 0 0 1 184.88 837.82Z" fill="#008000" fill-opacity="0.2" stroke="#008000" stroke-opacity="0.15" stroke-width="0.8"/>
<path d="M109.6 782.09A160.5 160.5 0 0 0 89.77 1038.27L142.52 978.12A80.5 80.5 0 0 1 152.47 849.63Z" fill="#ff0000" fill-opacity="0.2" stroke="#ff0000" stroke-opacity="0.15" stroke-width="0.8"/>
<path d="M89.77 1038.27A160.5 160.5 0 0 0 123.99 1061.24L159.68 989.64A80.5 80.5 0 0 1 142.52 978.12Z" fill="#ff0000" fill-opacity="0.2" stroke="#ff0000" stroke-opacity="0.15" stroke-width="0.8"/>
<path d="M258.83 1065.12A160.5 160.5 0 0 0 275.24 1056.95L235.55 987.49A80.5 80.5 0 0 1 227.31 991.59Z" fill="#ff0000" fill-opacity="0.2" stroke="#ff0000" stroke-opacity="0.15" stroke-width="0.8"/>
<path d="M337.44 992.7A160.5 160.5 0 0 0 344.73 976.94L270.4 947.36A80.5 80.5 0 0 1 266.74 955.27Z" fill="#ff0000" fill-opacity="0.2" stroke="#ff0000" stroke-opacity="0.15" stroke-width="0.8"/>
<path d="M303.91 817.48A147.5 147.5 0 0 0 270.91 790.77L247.01 831.01A100.7 100.7 0 0 1 269.55 849.24Z" fill="#ff0000" fill-opacity="0.2" stroke="#ff0000" stroke-opacity="0.15" stroke-width="0.8"/>
<path d="M128.75 786.12A147.5 147.5 0 0 0 116.57 793.06L141.64 832.58A100.7 100.7 0 0 1 149.96 827.84Z" fill="#008000" fill-opacity="0.2" stroke="#008000" stroke-opacity="0.15" stroke-width="0.8"/>
<path d="M146 778.69A147.5 147.5 0 0 0 139.51 781.18L157.31 824.46A100.7 100.7 0 0 1 161.74 822.76Z" fill="#008000" fill-opacity="0.2" stroke="#008000" stroke-opacity="0.15" stroke-width="0.8"/>
<path d="M166.7 772.96A147.5 147.5 0 0 0 158.17 774.93L170.05 820.2A100.7 100.7 0 0 1 175.87 818.85Z" fill="#008000" fill-opacity="0.2" stroke="#008000" stroke-opacity="0.15" stroke-width="0.8"/>
<path d="M71.34 838.13A147.5 147.5 0 0 0 67.29 844.86L108 867.94A100.7 100.7 0 0 1 110.77 863.35Z" fill="#ff0000" fill-opacity="0.2" stroke="#ff0000" stroke-opacity="0.15" stroke-width="0.8"/>
<path d="M67.29 844.86A147.5 147.5 0 0 0 61.49 856.2L104.04 875.68A100.7 100.7 0 0 1 108 867.94Z" fill="#ff0000" fill-opacity="0.2" stroke="#ff0000" stroke-opacity="0.15" stroke-width="0.8"/>
<path d="M55.52 963.79A147.5 147.5 0 0 0 98.35 1028.5L129.2 993.31A100.7 100.7 0 0 1 99.97 949.14Z" fill="#ff0000" fill-opacity="0.2" stroke="#ff0000" stroke-opacity="0.15" stroke-width="0.8"/>
<path d="M98.35 1028.5A147.5 147.5 0 0 0 129.79 1049.6L150.67 1007.72A100.7 100.7 0 0 1 129.2 993.31Z" fill="#ff0000" fill-opacity="0.2" stroke="#ff0000" stroke-opacity="0.15" stroke-width="0.8"/>
<path d="M253.71 1053.17A147.5 147.5 0 0 0 268.79 1045.66L245.57 1005.03A100.7 100.7 0 0 1 235.27 1010.16Z" fill="#ff0000" fill-opacity="0.2" stroke="#ff0000" stroke-opacity="0.15" stroke-width="0.8"/>
<path d="M192 1065.06A147.5 147.5 0 0 0 202.42 1064.94L200.26 1018.19A100.7 100.7 0 0 1 193.14 1018.27Z" fill="#ff0000" fill-opacity="0.2" stroke="#ff0000" stroke-opacity="0.15" stroke-width="0.8"/>
<path d="M325.96 986.62A147.5 147.5 0 0 0 332.65 972.14L289.16 954.83A100.7 100.7 0 0 1 284.6 964.72Z" fill="#ff0000" fill-opacity="0.2" stroke="#ff0000" stroke-opacity="0.15" stroke-width="0.8"/>
<path d="M289.49 820.59A135 135 0 0 0 287.31 818.53L277.46 829.17A120.5 120.5 0 0 1 279.4 831.01Z" fill="#ff0000" fill-opacity="0.2" stroke="#ff0000" stroke-opacity="0.15" stroke-width="0.8"/>
<path d="M128.71 800.33A135 135 0 0 0 123.26 803.62L131.03 815.86A120.5 120.5 0 0 1 135.9 812.93Z" fill="#008000" fill-opacity="0.2" stroke="#008000" stroke-opacity="0.15" stroke-width="0.8"/>
<path d="M150.2 790.46A135 135 0 0 0 144.26 792.74L149.78 806.15A120.5 120.5 0 0 1 155.08 804.12Z" fill="#008000" fill-opacity="0.2" stroke="#008000" stroke-opacity="0.15" stroke-width="0.8"/>
<path d="M169.15 785.22A135 135 0 0 0 161.34 787.02L165.02 801.04A120.5 120.5 0 0 1 171.99 799.44Z" fill="#008000" fill-opacity="0.2" stroke="#008000" stroke-opacity="0.15" stroke-width="0.8"/>
<path d="M81.87 844.87A135 135 0 0 0 78.16 851.02L90.77 858.17A120.5 120.5 0 0 1 94.08 852.68Z" fill="#ff0000" fill-opacity="0.2" stroke="#ff0000" stroke-opacity="0.15" stroke-width="0.8"/>
<path d="M78.16 851.02A135 135 0 0 0 75.21 856.52L88.14 863.08A120.5 120.5 0 0 1 90.77 858.17Z" fill="#ff0000" fill-opacity="0.2" stroke="#ff0000" stroke-opacity="0.15" stroke-width="0.8"/>
<path d="M75.21 856.52A135 135 0 0 0 72.85 861.4L86.04 867.44A120.5 120.5 0 0 1 88.14 863.08Z" fill="#ff0000" fill-opacity="0.2" stroke="#ff0000" stroke-opacity="0.15" stroke-width="0.8"/>
<path d="M69.34 869.82A135 135 0 0 0 68.46 872.2L82.12 877.08A120.5 120.5 0 0 1 82.9 874.95Z" fill="#ff0000" fill-opacity="0.2" stroke="#ff0000" stroke-opacity="0.15" stroke-width="0.8"/>
<path d="M68.46 872.2A135 135 0 0 0 67.54 874.89L81.29 879.47A120.5 120.5 0 0 1 82.12 877.08Z" fill="#ff0000" fill-opacity="0.2" stroke="#ff0000" stroke-opacity="0.15" stroke-width="0.8"/>
<path d="M67.39 959.88A135 135 0 0 0 68.99 964.46L82.59 959.43A120.5 120.5 0 0 1 81.16 955.34Z" fill="#ff0000" fill-opacity="0.2" stroke="#ff0000" stroke-opacity="0.15" stroke-width="0.8"/>
<path d="M77.62 983.22A135 135 0 0 0 78.93 985.52L91.46 978.22A120.5 120.5 0 0 1 90.29 976.17Z" fill="#ff0000" fill-opacity="0.2" stroke="#ff0000" stroke-opacity="0.15" stroke-width="0.8"/>
<path d="M81.26 989.37A135 135 0 0 0 82.68 991.59L94.81 983.64A120.5 120.5 0 0 1 93.54 981.66Z" fill="#ff0000" fill-opacity="0.2" stroke="#ff0000" stroke-opacity="0.15" stroke-width="0.8"/>
<path d="M87.86 998.95A135 135 0 0 0 89.48 1001.04L100.87 992.08A120.5 120.5 0 0 1 99.44 990.21Z" fill="#ff0000" fill-opacity="0.2" stroke="#ff0000" stroke-opacity="0.15" stroke-width="0.8"/>
<path d="M99.44 1012.36A135 135 0 0 0 101.31 1014.22L111.44 1003.84A120.5 120.5 0 0 1 109.77 1002.18Z" fill="#ff0000" fill-opacity="0.2" stroke="#ff0000" stroke-opacity="0.15" stroke-width="0.8"/>
<path d="M123.13 1031.5A135 135 0 0 0 125.4 1032.91L132.94 1020.53A120.5 120.5 0 0 1 130.91 1019.27Z" fill="#ff0000" fill-opacity="0.2" stroke="#ff0000" stroke-opacity="0.15" stroke-width="0.8"/>
<path d="M192.3 1052.56A135 135 0 0 0 201.84 1052.46L201.17 1037.97A120.5 120.5 0 0 1 192.66 1038.06Z" fill="#ff0000" fill-opacity="0.2" stroke="#ff0000" stroke-opacity="0.15" stroke-width="0.8"/>
<path d="M314.91 980.77A135 135 0 0 0 321.03 967.52L307.56 962.15A120.5 120.5 0 0 1 302.09 973.99Z" fill="#ff0000" fill-opacity="0.2" stroke="#ff0000" stroke-opacity="0.15" stroke-width="0.8"/>
<path d="M286.3 873.17L310.27 878.34M286.3 873.17L309.28 875.57M286.3 873.17L308.37 873.18M286.3 873.17L307.17 870.24M286.3 873.17L305.93 867.42M286.3 873.17L304.72 864.85M286.3 873.17L303.37 862.14M286.3 873.17L301.99 859.54M286.3 873.17L300.55 856.98M286.3 873.17L298.94 854.27M293.43 892.48L312.72 886.44M293.43 892.48L313.6 889.92M295.54 903.02L315.1 897.39M295.54 903.02L315.44 899.48M296.4 911.26L316.56 909.99M296.59 916.37L316.79 916.33M237 825.48L243.73 806.37M243.17 828.51L255.47 812.22M243.17 828.51L250.44 809.51M243.17 828.51L247.4 808.03M259.02 839L282.49 833.1M259.02 839L280.59 831.19M259.02 839L276.67 827.51M259.02 839L274.65 825.73M259.02 839L272.59 823.99M259.02 839L270.49 822.31M259.02 839L268.36 820.67M259.02 839L265.64 818.68M259.02 839L263.98 817.53M259.02 839L261.74 816.04M259.02 839L259.47 814.59M271.59 851.07L286.65 837.61M275.3 855.56L290.71 842.48M227.48 821.76L233.05 802.33M217.8 819.07L222.25 799.37M145.56 829.87L136.84 811.6M152.92 826.06L144.57 807.67M152.92 826.06L147.47 806.37M165.4 821.22L158.15 802.33M165.4 821.22L161.18 801.39M178.76 818.01L175.18 798.13M185.74 817.08L183.77 796.98M191.19 816.7L189.47 796.56M191.19 816.7L193.27 796.42M199.48 816.67L200.25 796.49M205.1 817.05L205.11 796.77M205.1 817.05L208.9 797.13M138.25 834.46L127.13 817.6M133.84 837.69L121.32 821.83M129.21 841.49L116.09 826.13M120.07 850.54L110.5 831.3M120.07 850.54L108.96 832.84M120.07 850.54L107.46 834.41M120.07 850.54L105.98 836.01M120.07 850.54L104.53 837.63M120.07 850.54L103.11 839.28M120.07 850.54L101.71 840.95M120.07 850.54L100.35 842.65M112.16 860.68L96.81 847.39M112.16 860.68L94.88 850.18M96.52 897.98L84.12 870.05M96.52 897.98L83.29 872.04M96.52 897.98L82.49 874.05M96.52 897.98L82 875.35M96.52 897.98L80.93 878.34M96.52 897.98L80.33 880.16M96.52 897.98L79.68 882.23M96.52 897.98L79.1 884.19M96.52 897.98L78.49 886.38M96.52 897.98L77.95 888.48M96.52 897.98L77.45 890.58M96.52 897.98L76.99 892.69M96.52 897.98L76.56 894.81M96.52 897.98L76.17 896.93M96.52 897.98L75.83 899.07M96.52 897.98L75.51 901.21M96.52 897.98L75.24 903.35M96.52 897.98L75.01 905.5M96.52 897.98L74.81 907.65M96.52 897.98L74.65 909.81M96.52 897.98L74.53 911.96M96.52 897.98L74.48 913.16M96.52 897.98L74.41 916.28M96.52 897.98L74.4 918.45M94.73 922.71L74.56 923.73M95.46 930.78L75.16 931.11M95.46 930.78L75.55 934.26M97.73 942.55L76.71 941.14M97.73 942.55L77.16 943.34M97.73 942.55L77.66 945.52M97.73 942.55L78.05 947.13M97.73 942.55L78.77 949.87M97.73 942.55L79.39 952.02M111.18 973.05L82.17 960.28M111.18 973.05L83.02 962.5M111.18 973.05L83.92 964.69M111.18 973.05L84.86 966.86M111.18 973.05L85.85 969.02M111.18 973.05L86.88 971.16M111.18 973.05L87.94 973.27M111.18 973.05L89.05 975.37M111.18 973.05L91.39 979.49M111.18 973.05L92.63 981.52M111.18 973.05L95.2 985.5M111.18 973.05L96.55 987.45M111.18 973.05L97.94 989.37M111.18 973.05L100.82 993.14M111.18 973.05L102.32 994.98M111.18 973.05L103.85 996.79M111.18 973.05L105.41 998.57M111.18 973.05L107.01 1000.32M111.18 973.05L108.65 1002.03M111.18 973.05L112.02 1005.37M139.41 1001.53L119.49 1011.92M139.41 1001.53L121.37 1013.41M139.41 1001.53L123.28 1014.86M139.41 1001.53L125.22 1016.27M139.41 1001.53L127.18 1017.64M139.41 1001.53L129.18 1018.98M139.41 1001.53L133.24 1021.52M139.41 1001.53L135.31 1022.74M139.41 1001.53L137.4 1023.91M153.56 1009.43L145.72 1028.06M164.05 1013.55L151.97 1030.67M164.05 1013.55L153.87 1031.39M164.05 1013.55L155.78 1032.07M164.05 1013.55L157.7 1032.72M164.05 1013.55L159.64 1033.34M164.05 1013.55L161.58 1033.93M178.76 1017.19L173.1 1036.69M178.76 1017.19L176.22 1037.24M188.38 1018.34L187.15 1038.5M282.45 969.16L299.71 979.66M278.23 975.68L294.88 987.12M273.87 981.43L288.44 995.51M273.87 981.43L289.52 994.2M273.87 981.43L290.58 992.88M259.16 996.09L259.11 1020.83M259.16 996.09L261.48 1019.33M259.16 996.09L263.82 1017.78M259.16 996.09L266.12 1016.17M259.16 996.09L268.39 1014.51M259.16 996.09L270.61 1012.8M259.16 996.09L272.8 1011.04M259.16 996.09L274.94 1009.22M259.16 996.09L277.04 1007.36M259.16 996.09L279.1 1005.45M259.16 996.09L281.11 1003.49M259.16 996.09L283.08 1001.49M241.45 1007.59L248.92 1026.44M241.45 1007.59L252.31 1024.71M230.81 1012.27L237.65 1031.27M222.25 1015.02L225.13 1035.15M222.25 1015.02L228.8 1034.16M202.65 1018.35L204.27 1038.49M211.23 1017.38L212.47 1037.62M211.23 1017.38L215.6 1037.14M291.87 948.14L311.57 952.83M291.87 948.14L310.6 955.86M295.97 928.86L316.09 930.69M294.91 936.01L315.03 938.23M294.91 936.01L314.41 941.56" fill="none" stroke="#000" stroke-width="0.72"/>
<path d="M175.3 917.6L155.2 917.6M233.91 904.78L253.07 898.37M253.23 898.87L272.45 892.63M267.85 881.42L285.91 872.38M273.76 897.1L293.29 891.97M275.97 909.29L296.06 907.22M219.57 885.08L231.56 868.82M231.48 868.76L243.43 852.48M244.23 853.07L256.38 836.94M208.29 879.24L214.63 860.06M214.83 860.13L221.24 840.98M221.1 840.93L227.48 821.76M204.14 878.11L208.41 858.37M208.72 858.44L213.09 838.72M213.23 838.75L217.63 819.03M155.73 911.07L135.8 907.81M181.56 858.65L176.87 839M166.51 842.22L159.24 823.37M194.47 836.81L194.19 816.61M114.95 912.67L94.79 911.43M176.07 974.97L169.56 994.09M169.29 994L162.72 1013.1M189.98 957.61L187.17 977.61M186.43 977.5L183.38 997.47M182.68 997.36L179.45 1017.3M191.48 978.06L190.1 998.21M189.96 998.2L188.55 1018.35M215.43 952.8L225.35 970.4M238 960.9L252.13 975.33M265.08 958.85L282.45 969.16M261.87 963.83L278.44 975.39M258.75 968.01L274.53 980.61M247.21 979.77L260.12 995.31M216.72 974.4L223.76 993.33M223.63 993.38L230.64 1012.33M212.61 975.76L218.28 995.15M218.01 995.23L223.61 1014.64M202.67 977.79L205.03 997.85M204.33 997.93L206.51 1018.01M234.4 928.87L253.79 934.51M253.58 935.22L272.91 941.09M272.74 941.63L292.03 947.63M235.68 922.66L255.72 925.2M255.68 925.51L275.71 928.15M275.9 926.61L295.97 928.86M275.22 931.35L295.13 934.79" fill="none" stroke="#000" stroke-width="1.0"/>
<path d="M233.91 904.78A40.4 40.4 0 1 0 235.68 922.66M253.23 898.87A60.6 60.6 0 0 0 253.07 898.37M275.97 909.29A80.8 80.8 0 0 0 267.85 881.42M286.3 873.17A101 101 0 0 0 285.91 872.38M293.43 892.48A101 101 0 0 0 293.29 891.97M296.59 916.37A101 101 0 0 0 295.54 903.02M231.56 868.82A60.6 60.6 0 0 0 231.48 868.76M244.23 853.07A80.8 80.8 0 0 0 243.43 852.48M275.3 855.56A101 101 0 0 0 237 825.48M214.83 860.13A60.6 60.6 0 0 0 214.63 860.06M221.24 840.98A80.8 80.8 0 0 0 221.1 840.93M208.72 858.44A60.6 60.6 0 0 0 208.41 858.37M213.23 838.75A80.8 80.8 0 0 0 213.09 838.72M217.8 819.07A101 101 0 0 0 217.63 819.03M181.56 858.65A60.6 60.6 0 0 0 176.07 974.97M194.47 836.81A80.8 80.8 0 0 0 166.51 842.22M178.76 818.01A101 101 0 0 0 145.56 829.87M205.1 817.05A101 101 0 0 0 185.74 817.08M138.25 834.46A101 101 0 0 0 111.18 973.05M169.29 994A80.8 80.8 0 0 0 169.56 994.09M153.56 1009.43A101 101 0 0 0 164.05 1013.55M186.43 977.5A60.6 60.6 0 0 0 191.48 978.06M182.68 997.36A80.8 80.8 0 0 0 183.38 997.47M178.76 1017.19A101 101 0 0 0 179.45 1017.3M189.96 998.2A80.8 80.8 0 0 0 190.1 998.21M188.38 1018.34A101 101 0 0 0 188.55 1018.35M202.67 977.79A60.6 60.6 0 0 0 238 960.9M233.28 989.07A80.8 80.8 0 0 0 265.08 958.85M278.23 975.68A101 101 0 0 0 278.44 975.39M273.87 981.43A101 101 0 0 0 274.53 980.61M259.16 996.09A101 101 0 0 0 260.12 995.31M223.63 993.38A80.8 80.8 0 0 0 223.76 993.33M230.64 1012.33A101 101 0 0 0 230.81 1012.27M218.01 995.23A80.8 80.8 0 0 0 218.28 995.15M222.25 1015.02A101 101 0 0 0 223.61 1014.64M204.33 997.93A80.8 80.8 0 0 0 205.03 997.85M197.36 1018.58A101 101 0 0 0 211.23 1017.38M253.58 935.22A60.6 60.6 0 0 0 253.79 934.51M272.74 941.63A80.8 80.8 0 0 0 272.91 941.09M291.87 948.14A101 101 0 0 0 292.03 947.63M255.68 925.51A60.6 60.6 0 0 0 255.72 925.2M275.22 931.35A80.8 80.8 0 0 0 275.9 926.61M294.91 936.01A101 101 0 0 0 295.13 934.79" fill="none" stroke="#000" stroke-width="1.85"/>
<line x1="259.02" y1="839" x2="279.18" y2="829.83" stroke="#000" stroke-width="3.2"/>
<line x1="259.02" y1="839" x2="279.18" y2="829.83" stroke="#ff0000" stroke-width="2.2"/>
<line x1="145.56" y1="829.87" x2="134.27" y2="813.06" stroke="#000" stroke-width="3.2"/>
<line x1="145.56" y1="829.87" x2="134.27" y2="813.06" stroke="#008000" stroke-width="2.2"/>
<line x1="157.6" y1="824.02" x2="151.57" y2="804.68" stroke="#000" stroke-width="3.2"/>
<line x1="157.6" y1="824.02" x2="151.57" y2="804.68" stroke="#008000" stroke-width="2.2"/>
<line x1="173.22" y1="819.11" x2="168.54" y2="799.46" stroke="#000" stroke-width="3.2"/>
<line x1="173.22" y1="819.11" x2="168.54" y2="799.46" stroke="#008000" stroke-width="2.2"/>
<line x1="135.11" y1="914.01" x2="114.95" y2="912.67" stroke="#000" stroke-width="3.2"/>
<line x1="135.11" y1="914.01" x2="114.95" y2="912.67" stroke="#ff0000" stroke-width="2.2"/>
<line x1="109.39" y1="864.98" x2="92.15" y2="854.45" stroke="#000" stroke-width="3.2"/>
<line x1="109.39" y1="864.98" x2="92.15" y2="854.45" stroke="#ff0000" stroke-width="2.2"/>
<line x1="105.29" y1="872.38" x2="88.29" y2="861.26" stroke="#000" stroke-width="3.2"/>
<line x1="105.29" y1="872.38" x2="88.29" y2="861.26" stroke="#ff0000" stroke-width="2.2"/>
<line x1="105.29" y1="872.38" x2="86.76" y2="864.28" stroke="#000" stroke-width="3.2"/>
<line x1="105.29" y1="872.38" x2="86.76" y2="864.28" stroke="#ff0000" stroke-width="2.2"/>
<line x1="111.18" y1="973.05" x2="81.71" y2="959.05" stroke="#000" stroke-width="3.2"/>
<line x1="111.18" y1="973.05" x2="81.71" y2="959.05" stroke="#ff0000" stroke-width="2.2"/>
<line x1="111.18" y1="973.05" x2="90.32" y2="977.65" stroke="#000" stroke-width="3.2"/>
<line x1="111.18" y1="973.05" x2="90.32" y2="977.65" stroke="#ff0000" stroke-width="2.2"/>
<line x1="111.18" y1="973.05" x2="93.27" y2="982.54" stroke="#000" stroke-width="3.2"/>
<line x1="111.18" y1="973.05" x2="93.27" y2="982.54" stroke="#ff0000" stroke-width="2.2"/>
<line x1="111.18" y1="973.05" x2="99.83" y2="991.88" stroke="#000" stroke-width="3.2"/>
<line x1="111.18" y1="973.05" x2="99.83" y2="991.88" stroke="#ff0000" stroke-width="2.2"/>
<line x1="111.18" y1="973.05" x2="109.9" y2="1003.3" stroke="#000" stroke-width="3.2"/>
<line x1="111.18" y1="973.05" x2="109.9" y2="1003.3" stroke="#ff0000" stroke-width="2.2"/>
<line x1="162.95" y1="968.65" x2="151.71" y2="985.44" stroke="#000" stroke-width="3.2"/>
<line x1="162.95" y1="968.65" x2="151.71" y2="985.44" stroke="#ff0000" stroke-width="2.2"/>
<line x1="151.71" y1="985.44" x2="139.41" y2="1001.53" stroke="#000" stroke-width="3.2"/>
<line x1="151.71" y1="985.44" x2="139.41" y2="1001.53" stroke="#ff0000" stroke-width="2.2"/>
<line x1="139.41" y1="1001.53" x2="131.91" y2="1020.72" stroke="#000" stroke-width="3.2"/>
<line x1="139.41" y1="1001.53" x2="131.91" y2="1020.72" stroke="#ff0000" stroke-width="2.2"/>
<line x1="233.28" y1="989.07" x2="241.45" y2="1007.59" stroke="#000" stroke-width="3.2"/>
<line x1="233.28" y1="989.07" x2="241.45" y2="1007.59" stroke="#ff0000" stroke-width="2.2"/>
<line x1="197.36" y1="1018.58" x2="198.14" y2="1038.77" stroke="#000" stroke-width="3.2"/>
<line x1="197.36" y1="1018.58" x2="198.14" y2="1038.77" stroke="#ff0000" stroke-width="2.2"/>
<line x1="232.16" y1="934.8" x2="250.52" y2="943.21" stroke="#000" stroke-width="3.2"/>
<line x1="232.16" y1="934.8" x2="250.52" y2="943.21" stroke="#ff0000" stroke-width="2.2"/>
<line x1="250.52" y1="943.21" x2="268.71" y2="952" stroke="#000" stroke-width="3.2"/>
<line x1="250.52" y1="943.21" x2="268.71" y2="952" stroke="#ff0000" stroke-width="2.2"/>
<line x1="268.71" y1="952" x2="287.21" y2="960.12" stroke="#000" stroke-width="3.2"/>
<line x1="268.71" y1="952" x2="287.21" y2="960.12" stroke="#ff0000" stroke-width="2.2"/>
<line x1="287.21" y1="960.12" x2="305.44" y2="968.82" stroke="#000" stroke-width="3.2"/>
<line x1="287.21" y1="960.12" x2="305.44" y2="968.82" stroke="#ff0000" stroke-width="2.2"/>
<circle cx="195.6" cy="917.6" r="0.9" fill="#c0c000"/>
<circle cx="310.27" cy="878.34" r="3" fill="#c0c000" stroke="#747400" stroke-width="0.55"/>
<circle cx="309.28" cy="875.57" r="2.4" fill="#c0c000" stroke="#747400" stroke-width="0.55"/>
<circle cx="308.37" cy="873.18" r="3.2" fill="#c0c000" stroke="#747400" stroke-width="0.55"/>
<circle cx="307.17" cy="870.24" r="2.2" fill="#c0c000" stroke="#747400" stroke-width="0.55"/>
<circle cx="305.93" cy="867.42" r="2.9" fill="#c0c000" stroke="#747400" stroke-width="0.55"/>
<circle cx="304.72" cy="864.85" r="2.6" fill="#c0c000" stroke="#747400" stroke-width="0.55"/>
<circle cx="303.37" cy="862.14" r="3.3" fill="#c0c000" stroke="#747400" stroke-width="0.55"/>
<circle cx="301.99" cy="859.54" r="2.5" fill="#c0c000" stroke="#747400" stroke-width="0.55"/>
<circle cx="300.55" cy="856.98" r="3" fill="#c0c000" stroke="#747400" stroke-width="0.55"/>
<circle cx="298.94" cy="854.27" r="2.4" fill="#c0c000" stroke="#747400" stroke-width="0.55"/>
<circle cx="312.72" cy="886.44" r="2.6" fill="#c0c000" stroke="#747400" stroke-width="0.55"/>
<circle cx="313.6" cy="889.92" r="3" fill="#c0c000" stroke="#747400" stroke-width="0.55"/>
<circle cx="315.1" cy="897.39" r="3" fill="#c0c000" stroke="#747400" stroke-width="0.55"/>
<circle cx="315.44" cy="899.48" r="2.6" fill="#c0c000" stroke="#747400" stroke-width="0.55"/>
<circle cx="316.56" cy="909.99" r="2.8" fill="#c0c000" stroke="#747400" stroke-width="0.55"/>
<circle cx="316.79" cy="916.33" r="2.8" fill="#c0c000" stroke="#747400" stroke-width="0.55"/>
<circle cx="243.73" cy="806.37" r="3.4" fill="#c0c000" stroke="#747400" stroke-width="0.55"/>
<circle cx="255.47" cy="812.22" r="2.8" fill="#c0c000" stroke="#747400" stroke-width="0.55"/>
<circle cx="250.44" cy="809.51" r="3" fill="#c0c000" stroke="#747400" stroke-width="0.55"/>
<circle cx="247.4" cy="808.03" r="2.8" fill="#c0c000" stroke="#747400" stroke-width="0.55"/>
<circle cx="282.49" cy="833.1" r="3" fill="#c0c000" stroke="#747400" stroke-width="0.55"/>
<circle cx="280.59" cy="831.19" r="2.4" fill="#c0c000" stroke="#747400" stroke-width="0.55"/>
<circle cx="276.67" cy="827.51" r="2.2" fill="#c0c000" stroke="#747400" stroke-width="0.55"/>
<circle cx="274.65" cy="825.73" r="2.9" fill="#c0c000" stroke="#747400" stroke-width="0.55"/>
<circle cx="272.59" cy="823.99" r="2.6" fill="#c0c000" stroke="#747400" stroke-width="0.55"/>
<circle cx="270.49" cy="822.31" r="3.3" fill="#c0c000" stroke="#747400" stroke-width="0.55"/>
<circle cx="268.36" cy="820.67" r="2.5" fill="#c0c000" stroke="#747400" stroke-width="0.55"/>
<circle cx="265.64" cy="818.68" r="3" fill="#c0c000" stroke="#747400" stroke-width="0.55"/>
<circle cx="263.98" cy="817.53" r="2.4" fill="#c0c000" stroke="#747400" stroke-width="0.55"/>
<circle cx="261.74" cy="816.04" r="3.2" fill="#c0c000" stroke="#747400" stroke-width="0.55"/>
<circle cx="259.47" cy="814.59" r="2.2" fill="#c0c000" stroke="#747400" stroke-width="0.55"/>
<circle cx="286.65" cy="837.61" r="3" fill="#c0c000" stroke="#747400" stroke-width="0.55"/>
<circle cx="290.71" cy="842.48" r="3.5" fill="#c0c000" stroke="#747400" stroke-width="0.55"/>
<circle cx="233.05" cy="802.33" r="2.6" fill="#c0c000" stroke="#747400" stroke-width="0.55"/>
<circle cx="222.25" cy="799.37" r="2.2" fill="#c0c000" stroke="#747400" stroke-width="0.55"/>
<circle cx="136.84" cy="811.6" r="3.2" fill="#c0c000" stroke="#747400" stroke-width="0.55"/>
<circle cx="144.57" cy="807.67" r="3.2" fill="#c0c000" stroke="#747400" stroke-width="0.55"/>
<circle cx="147.47" cy="806.37" r="2.8" fill="#c0c000" stroke="#747400" stroke-width="0.55"/>
<circle cx="158.15" cy="802.33" r="3" fill="#c0c000" stroke="#747400" stroke-width="0.55"/>
<circle cx="161.18" cy="801.39" r="3.3" fill="#c0c000" stroke="#747400" stroke-width="0.55"/>
<circle cx="175.18" cy="798.13" r="2.3" fill="#c0c000" stroke="#747400" stroke-width="0.55"/>
<circle cx="183.77" cy="796.98" r="3.2" fill="#c0c000" stroke="#747400" stroke-width="0.55"/>
<circle cx="189.47" cy="796.56" r="3.3" fill="#c0c000" stroke="#747400" stroke-width="0.55"/>
<circle cx="193.27" cy="796.42" r="3" fill="#c0c000" stroke="#747400" stroke-width="0.55"/>
<circle cx="200.25" cy="796.49" r="3" fill="#c0c000" stroke="#747400" stroke-width="0.55"/>
<circle cx="205.11" cy="796.77" r="2.8" fill="#c0c000" stroke="#747400" stroke-width="0.55"/>
<circle cx="208.9" cy="797.13" r="2.6" fill="#c0c000" stroke="#747400" stroke-width="0.55"/>
<circle cx="127.13" cy="817.6" r="1.8" fill="#c0c000" stroke="#747400" stroke-width="0.55"/>
<circle cx="121.32" cy="821.83" r="2.6" fill="#c0c000" stroke="#747400" stroke-width="0.55"/>
<circle cx="116.09" cy="826.13" r="3.4" fill="#c0c000" stroke="#747400" stroke-width="0.55"/>
<circle cx="110.5" cy="831.3" r="3" fill="#c0c000" stroke="#747400" stroke-width="0.55"/>
<circle cx="108.96" cy="832.84" r="2.6" fill="#c0c000" stroke="#747400" stroke-width="0.55"/>
<circle cx="107.46" cy="834.41" r="3.3" fill="#c0c000" stroke="#747400" stroke-width="0.55"/>
<circle cx="105.98" cy="836.01" r="2.8" fill="#c0c000" stroke="#747400" stroke-width="0.55"/>
<circle cx="104.53" cy="837.63" r="3" fill="#c0c000" stroke="#747400" stroke-width="0.55"/>
<circle cx="103.11" cy="839.28" r="2.6" fill="#c0c000" stroke="#747400" stroke-width="0.55"/>
<circle cx="101.71" cy="840.95" r="3.3" fill="#c0c000" stroke="#747400" stroke-width="0.55"/>
<circle cx="100.35" cy="842.65" r="2.8" fill="#c0c000" stroke="#747400" stroke-width="0.55"/>
<circle cx="96.81" cy="847.39" r="2.9" fill="#c0c000" stroke="#747400" stroke-width="0.55"/>
<circle cx="94.88" cy="850.18" r="2.6" fill="#c0c000" stroke="#747400" stroke-width="0.55"/>
<circle cx="84.12" cy="870.05" r="3.3" fill="#c0c000" stroke="#747400" stroke-width="0.55"/>
<circle cx="83.29" cy="872.04" r="2.9" fill="#c0c000" stroke="#747400" stroke-width="0.55"/>
<circle cx="82.49" cy="874.05" r="3.6" fill="#c0c000" stroke="#747400" stroke-width="0.55"/>
<circle cx="80.33" cy="880.16" r="2.8" fill="#c0c000" stroke="#747400" stroke-width="0.55"/>
<circle cx="79.68" cy="882.23" r="3.3" fill="#c0c000" stroke="#747400" stroke-width="0.55"/>
<circle cx="79.1" cy="884.19" r="2.9" fill="#c0c000" stroke="#747400" stroke-width="0.55"/>
<circle cx="78.49" cy="886.38" r="3.6" fill="#c0c000" stroke="#747400" stroke-width="0.55"/>
<circle cx="77.95" cy="888.48" r="3" fill="#c0c000" stroke="#747400" stroke-width="0.55"/>
<circle cx="77.45" cy="890.58" r="3.5" fill="#c0c000" stroke="#747400" stroke-width="0.55"/>
<circle cx="76.99" cy="892.69" r="2.8" fill="#c0c000" stroke="#747400" stroke-width="0.55"/>
<circle cx="76.56" cy="894.81" r="3.3" fill="#c0c000" stroke="#747400" stroke-width="0.55"/>
<circle cx="76.17" cy="896.93" r="2.9" fill="#c0c000" stroke="#747400" stroke-width="0.55"/>
<circle cx="75.83" cy="899.07" r="3.6" fill="#c0c000" stroke="#747400" stroke-width="0.55"/>
<circle cx="75.51" cy="901.21" r="3" fill="#c0c000" stroke="#747400" stroke-width="0.55"/>
<circle cx="75.24" cy="903.35" r="3.5" fill="#c0c000" stroke="#747400" stroke-width="0.55"/>
<circle cx="75.01" cy="905.5" r="2.8" fill="#c0c000" stroke="#747400" stroke-width="0.55"/>
<circle cx="74.81" cy="907.65" r="3.3" fill="#c0c000" stroke="#747400" stroke-width="0.55"/>
<circle cx="74.65" cy="909.81" r="2.9" fill="#c0c000" stroke="#747400" stroke-width="0.55"/>
<circle cx="74.53" cy="911.96" r="3.6" fill="#c0c000" stroke="#747400" stroke-width="0.55"/>
<circle cx="74.48" cy="913.16" r="3" fill="#c0c000" stroke="#747400" stroke-width="0.55"/>
<circle cx="74.41" cy="916.28" r="3.5" fill="#c0c000" stroke="#747400" stroke-width="0.55"/>
<circle cx="74.4" cy="918.45" r="2.8" fill="#c0c000" stroke="#747400" stroke-width="0.55"/>
<circle cx="74.56" cy="923.73" r="2.9" fill="#c0c000" stroke="#747400" stroke-width="0.55"/>
<circle cx="75.16" cy="931.11" r="3" fill="#c0c000" stroke="#747400" stroke-width="0.55"/>
<circle cx="75.55" cy="934.26" r="2.8" fill="#c0c000" stroke="#747400" stroke-width="0.55"/>
<circle cx="76.71" cy="941.14" r="3" fill="#c0c000" stroke="#747400" stroke-width="0.55"/>
<circle cx="77.16" cy="943.34" r="2.6" fill="#c0c000" stroke="#747400" stroke-width="0.55"/>
<circle cx="77.66" cy="945.52" r="3.2" fill="#c0c000" stroke="#747400" stroke-width="0.55"/>
<circle cx="78.05" cy="947.13" r="3" fill="#c0c000" stroke="#747400" stroke-width="0.55"/>
<circle cx="78.77" cy="949.87" r="2.6" fill="#c0c000" stroke="#747400" stroke-width="0.55"/>
<circle cx="79.39" cy="952.02" r="3.2" fill="#c0c000" stroke="#747400" stroke-width="0.55"/>
<circle cx="82.17" cy="960.28" r="2.8" fill="#c0c000" stroke="#747400" stroke-width="0.55"/>
<circle cx="83.02" cy="962.5" r="3.4" fill="#c0c000" stroke="#747400" stroke-width="0.55"/>
<circle cx="83.92" cy="964.69" r="2.6" fill="#c0c000" stroke="#747400" stroke-width="0.55"/>
<circle cx="84.86" cy="966.86" r="3" fill="#c0c000" stroke="#747400" stroke-width="0.55"/>
<circle cx="85.85" cy="969.02" r="3.2" fill="#c0c000" stroke="#747400" stroke-width="0.55"/>
<circle cx="86.88" cy="971.16" r="2.8" fill="#c0c000" stroke="#747400" stroke-width="0.55"/>
<circle cx="87.94" cy="973.27" r="3.4" fill="#c0c000" stroke="#747400" stroke-width="0.55"/>
<circle cx="89.05" cy="975.37" r="2.6" fill="#c0c000" stroke="#747400" stroke-width="0.55"/>
<circle cx="91.39" cy="979.49" r="3.2" fill="#c0c000" stroke="#747400" stroke-width="0.55"/>
<circle cx="92.63" cy="981.52" r="2.8" fill="#c0c000" stroke="#747400" stroke-width="0.55"/>
<circle cx="95.2" cy="985.5" r="2.6" fill="#c0c000" stroke="#747400" stroke-width="0.55"/>
<circle cx="96.55" cy="987.45" r="3" fill="#c0c000" stroke="#747400" stroke-width="0.55"/>
<circle cx="97.94" cy="989.37" r="3.2" fill="#c0c000" stroke="#747400" stroke-width="0.55"/>
<circle cx="100.82" cy="993.14" r="3.4" fill="#c0c000" stroke="#747400" stroke-width="0.55"/>
<circle cx="102.32" cy="994.98" r="2.6" fill="#c0c000" stroke="#747400" stroke-width="0.55"/>
<circle cx="103.85" cy="996.79" r="3" fill="#c0c000" stroke="#747400" stroke-width="0.55"/>
<circle cx="105.41" cy="998.57" r="3.2" fill="#c0c000" stroke="#747400" stroke-width="0.55"/>
<circle cx="107.01" cy="1000.32" r="2.8" fill="#c0c000" stroke="#747400" stroke-width="0.55"/>
<circle cx="108.65" cy="1002.03" r="3.4" fill="#c0c000" stroke="#747400" stroke-width="0.55"/>
<circle cx="112.02" cy="1005.37" r="3" fill="#c0c000" stroke="#747400" stroke-width="0.55"/>
<circle cx="119.49" cy="1011.92" r="3" fill="#c0c000" stroke="#747400" stroke-width="0.55"/>
<circle cx="121.37" cy="1013.41" r="2.6" fill="#c0c000" stroke="#747400" stroke-width="0.55"/>
<circle cx="123.28" cy="1014.86" r="3.3" fill="#c0c000" stroke="#747400" stroke-width="0.55"/>
<circle cx="125.22" cy="1016.27" r="2.8" fill="#c0c000" stroke="#747400" stroke-width="0.55"/>
<circle cx="127.18" cy="1017.64" r="3" fill="#c0c000" stroke="#747400" stroke-width="0.55"/>
<circle cx="129.18" cy="1018.98" r="2.6" fill="#c0c000" stroke="#747400" stroke-width="0.55"/>
<circle cx="133.24" cy="1021.52" r="2.8" fill="#c0c000" stroke="#747400" stroke-width="0.55"/>
<circle cx="135.31" cy="1022.74" r="3" fill="#c0c000" stroke="#747400" stroke-width="0.55"/>
<circle cx="137.4" cy="1023.91" r="2.6" fill="#c0c000" stroke="#747400" stroke-width="0.55"/>
<circle cx="145.72" cy="1028.06" r="2.4" fill="#c0c000" stroke="#747400" stroke-width="0.55"/>
<circle cx="151.97" cy="1030.67" r="2.8" fill="#c0c000" stroke="#747400" stroke-width="0.55"/>
<circle cx="153.87" cy="1031.39" r="2.5" fill="#c0c000" stroke="#747400" stroke-width="0.55"/>
<circle cx="155.78" cy="1032.07" r="3" fill="#c0c000" stroke="#747400" stroke-width="0.55"/>
<circle cx="157.7" cy="1032.72" r="2.8" fill="#c0c000" stroke="#747400" stroke-width="0.55"/>
<circle cx="159.64" cy="1033.34" r="2.5" fill="#c0c000" stroke="#747400" stroke-width="0.55"/>
<circle cx="161.58" cy="1033.93" r="3" fill="#c0c000" stroke="#747400" stroke-width="0.55"/>
<circle cx="173.1" cy="1036.69" r="2.8" fill="#c0c000" stroke="#747400" stroke-width="0.55"/>
<circle cx="176.22" cy="1037.24" r="2.8" fill="#c0c000" stroke="#747400" stroke-width="0.55"/>
<circle cx="187.15" cy="1038.5" r="2.6" fill="#c0c000" stroke="#747400" stroke-width="0.55"/>
<circle cx="299.71" cy="979.66" r="2.6" fill="#c0c000" stroke="#747400" stroke-width="0.55"/>
<circle cx="294.88" cy="987.12" r="2.6" fill="#c0c000" stroke="#747400" stroke-width="0.55"/>
<circle cx="288.44" cy="995.51" r="2.6" fill="#c0c000" stroke="#747400" stroke-width="0.55"/>
<circle cx="289.52" cy="994.2" r="2.4" fill="#c0c000" stroke="#747400" stroke-width="0.55"/>
<circle cx="290.58" cy="992.88" r="2.6" fill="#c0c000" stroke="#747400" stroke-width="0.55"/>
<circle cx="259.11" cy="1020.83" r="2.8" fill="#c0c000" stroke="#747400" stroke-width="0.55"/>
<circle cx="261.48" cy="1019.33" r="2.5" fill="#c0c000" stroke="#747400" stroke-width="0.55"/>
<circle cx="263.82" cy="1017.78" r="3" fill="#c0c000" stroke="#747400" stroke-width="0.55"/>
<circle cx="266.12" cy="1016.17" r="2.6" fill="#c0c000" stroke="#747400" stroke-width="0.55"/>
<circle cx="268.39" cy="1014.51" r="2.8" fill="#c0c000" stroke="#747400" stroke-width="0.55"/>
<circle cx="270.61" cy="1012.8" r="2.5" fill="#c0c000" stroke="#747400" stroke-width="0.55"/>
<circle cx="272.8" cy="1011.04" r="3" fill="#c0c000" stroke="#747400" stroke-width="0.55"/>
<circle cx="274.94" cy="1009.22" r="2.6" fill="#c0c000" stroke="#747400" stroke-width="0.55"/>
<circle cx="277.04" cy="1007.36" r="2.8" fill="#c0c000" stroke="#747400" stroke-width="0.55"/>
<circle cx="279.1" cy="1005.45" r="2.5" fill="#c0c000" stroke="#747400" stroke-width="0.55"/>
<circle cx="281.11" cy="1003.49" r="3" fill="#c0c000" stroke="#747400" stroke-width="0.55"/>
<circle cx="283.08" cy="1001.49" r="2.6" fill="#c0c000" stroke="#747400" stroke-width="0.55"/>
<circle cx="248.92" cy="1026.44" r="3" fill="#c0c000" stroke="#747400" stroke-width="0.55"/>
<circle cx="252.31" cy="1024.71" r="3" fill="#c0c000" stroke="#747400" stroke-width="0.55"/>
<circle cx="237.65" cy="1031.27" r="2.4" fill="#c0c000" stroke="#747400" stroke-width="0.55"/>
<circle cx="225.13" cy="1035.15" r="2.8" fill="#c0c000" stroke="#747400" stroke-width="0.55"/>
<circle cx="228.8" cy="1034.16" r="2.8" fill="#c0c000" stroke="#747400" stroke-width="0.55"/>
<circle cx="204.27" cy="1038.49" r="2.6" fill="#c0c000" stroke="#747400" stroke-width="0.55"/>
<circle cx="212.47" cy="1037.62" r="2.6" fill="#c0c000" stroke="#747400" stroke-width="0.55"/>
<circle cx="215.6" cy="1037.14" r="2.6" fill="#c0c000" stroke="#747400" stroke-width="0.55"/>
<circle cx="311.57" cy="952.83" r="2.6" fill="#c0c000" stroke="#747400" stroke-width="0.55"/>
<circle cx="310.6" cy="955.86" r="2.6" fill="#c0c000" stroke="#747400" stroke-width="0.55"/>
<circle cx="316.09" cy="930.69" r="2.4" fill="#c0c000" stroke="#747400" stroke-width="0.55"/>
<circle cx="315.03" cy="938.23" r="2.6" fill="#c0c000" stroke="#747400" stroke-width="0.55"/>
<circle cx="314.41" cy="941.56" r="2.6" fill="#c0c000" stroke="#747400" stroke-width="0.55"/>
<circle cx="279.18" cy="829.83" r="3.35" fill="#ff0000" stroke="#000" stroke-width="0.7"/>
<circle cx="134.27" cy="813.06" r="3.35" fill="#008000" stroke="#000" stroke-width="0.7"/>
<circle cx="151.57" cy="804.68" r="3.35" fill="#008000" stroke="#000" stroke-width="0.7"/>
<circle cx="168.54" cy="799.46" r="3.35" fill="#008000" stroke="#000" stroke-width="0.7"/>
<circle cx="92.15" cy="854.45" r="2.4" fill="#ff0000" stroke="#000" stroke-width="0.7"/>
<circle cx="88.29" cy="861.26" r="3.35" fill="#ff0000" stroke="#000" stroke-width="0.7"/>
<circle cx="86.76" cy="864.28" r="3.35" fill="#ff0000" stroke="#000" stroke-width="0.7"/>
<circle cx="82" cy="875.35" r="3.35" fill="#ff0000" stroke="#000" stroke-width="0.7"/>
<circle cx="80.93" cy="878.34" r="3.5" fill="#ff0000" stroke="#000" stroke-width="0.7"/>
<circle cx="81.71" cy="959.05" r="3.35" fill="#ff0000" stroke="#000" stroke-width="0.7"/>
<circle cx="90.32" cy="977.65" r="3.35" fill="#ff0000" stroke="#000" stroke-width="0.7"/>
<circle cx="93.27" cy="982.54" r="3.4" fill="#ff0000" stroke="#000" stroke-width="0.7"/>
<circle cx="99.83" cy="991.88" r="3.35" fill="#ff0000" stroke="#000" stroke-width="0.7"/>
<circle cx="109.9" cy="1003.3" r="3.35" fill="#ff0000" stroke="#000" stroke-width="0.7"/>
<circle cx="131.91" cy="1020.72" r="3.35" fill="#ff0000" stroke="#000" stroke-width="0.7"/>
<circle cx="198.14" cy="1038.77" r="3.35" fill="#ff0000" stroke="#000" stroke-width="0.7"/>
<circle cx="305.44" cy="968.82" r="3.6" fill="#ff0000" stroke="#000" stroke-width="0.7"/>
<circle cx="286.3" cy="873.17" r="3.5" fill="#c0c000" stroke="#747400" stroke-width="0.55"/>
<circle cx="293.43" cy="892.48" r="3.3" fill="#c0c000" stroke="#747400" stroke-width="0.55"/>
<circle cx="295.54" cy="903.02" r="3.2" fill="#c0c000" stroke="#747400" stroke-width="0.55"/>
<circle cx="296.4" cy="911.26" r="2.8" fill="#c0c000" stroke="#747400" stroke-width="0.55"/>
<circle cx="296.59" cy="916.37" r="2.8" fill="#c0c000" stroke="#747400" stroke-width="0.55"/>
<circle cx="237" cy="825.48" r="3" fill="#c0c000" stroke="#747400" stroke-width="0.55"/>
<circle cx="243.17" cy="828.51" r="3.5" fill="#c0c000" stroke="#747400" stroke-width="0.55"/>
<circle cx="271.59" cy="851.07" r="3" fill="#c0c000" stroke="#747400" stroke-width="0.55"/>
<circle cx="275.3" cy="855.56" r="3.3" fill="#c0c000" stroke="#747400" stroke-width="0.55"/>
<circle cx="227.48" cy="821.76" r="2.7" fill="#c0c000" stroke="#747400" stroke-width="0.55"/>
<circle cx="217.8" cy="819.07" r="2.2" fill="#c0c000" stroke="#747400" stroke-width="0.55"/>
<circle cx="152.92" cy="826.06" r="3.2" fill="#c0c000" stroke="#747400" stroke-width="0.55"/>
<circle cx="165.4" cy="821.22" r="3.6" fill="#c0c000" stroke="#747400" stroke-width="0.55"/>
<circle cx="178.76" cy="818.01" r="2.2" fill="#c0c000" stroke="#747400" stroke-width="0.55"/>
<circle cx="185.74" cy="817.08" r="3.1" fill="#c0c000" stroke="#747400" stroke-width="0.55"/>
<circle cx="191.19" cy="816.7" r="3.4" fill="#c0c000" stroke="#747400" stroke-width="0.55"/>
<circle cx="199.48" cy="816.67" r="3.1" fill="#c0c000" stroke="#747400" stroke-width="0.55"/>
<circle cx="205.1" cy="817.05" r="3.1" fill="#c0c000" stroke="#747400" stroke-width="0.55"/>
<circle cx="138.25" cy="834.46" r="1.8" fill="#c0c000" stroke="#747400" stroke-width="0.55"/>
<circle cx="133.84" cy="837.69" r="2.6" fill="#c0c000" stroke="#747400" stroke-width="0.55"/>
<circle cx="129.21" cy="841.49" r="3.7" fill="#c0c000" stroke="#747400" stroke-width="0.55"/>
<circle cx="120.07" cy="850.54" r="2.9" fill="#c0c000" stroke="#747400" stroke-width="0.55"/>
<circle cx="112.16" cy="860.68" r="3" fill="#c0c000" stroke="#747400" stroke-width="0.55"/>
<circle cx="96.52" cy="897.98" r="3.7" fill="#c0c000" stroke="#747400" stroke-width="0.55"/>
<circle cx="94.73" cy="922.71" r="3" fill="#c0c000" stroke="#747400" stroke-width="0.55"/>
<circle cx="95.46" cy="930.78" r="3" fill="#c0c000" stroke="#747400" stroke-width="0.55"/>
<circle cx="97.73" cy="942.55" r="3.7" fill="#c0c000" stroke="#747400" stroke-width="0.55"/>
<circle cx="153.56" cy="1009.43" r="2.4" fill="#c0c000" stroke="#747400" stroke-width="0.55"/>
<circle cx="164.05" cy="1013.55" r="3.2" fill="#c0c000" stroke="#747400" stroke-width="0.55"/>
<circle cx="178.76" cy="1017.19" r="3" fill="#c0c000" stroke="#747400" stroke-width="0.55"/>
<circle cx="188.38" cy="1018.34" r="2.6" fill="#c0c000" stroke="#747400" stroke-width="0.55"/>
<circle cx="282.45" cy="969.16" r="2.4" fill="#c0c000" stroke="#747400" stroke-width="0.55"/>
<circle cx="278.23" cy="975.68" r="2.6" fill="#c0c000" stroke="#747400" stroke-width="0.55"/>
<circle cx="273.87" cy="981.43" r="3" fill="#c0c000" stroke="#747400" stroke-width="0.55"/>
<circle cx="259.16" cy="996.09" r="3.8" fill="#c0c000" stroke="#747400" stroke-width="0.55"/>
<circle cx="230.81" cy="1012.27" r="2.4" fill="#c0c000" stroke="#747400" stroke-width="0.55"/>
<circle cx="222.25" cy="1015.02" r="2.6" fill="#c0c000" stroke="#747400" stroke-width="0.55"/>
<circle cx="202.65" cy="1018.35" r="2.6" fill="#c0c000" stroke="#747400" stroke-width="0.55"/>
<circle cx="211.23" cy="1017.38" r="2.8" fill="#c0c000" stroke="#747400" stroke-width="0.55"/>
<circle cx="291.87" cy="948.14" r="2.6" fill="#c0c000" stroke="#747400" stroke-width="0.55"/>
<circle cx="295.97" cy="928.86" r="2.4" fill="#c0c000" stroke="#747400" stroke-width="0.55"/>
<circle cx="294.91" cy="936.01" r="2.6" fill="#c0c000" stroke="#747400" stroke-width="0.55"/>
<circle cx="259.02" cy="839" r="3.6" fill="#ff0000" stroke="#000" stroke-width="0.7"/>
<circle cx="145.56" cy="829.87" r="3.7" fill="#008000" stroke="#000" stroke-width="0.7"/>
<circle cx="157.6" cy="824.02" r="3.4" fill="#008000" stroke="#000" stroke-width="0.7"/>
<circle cx="173.22" cy="819.11" r="2.8" fill="#008000" stroke="#000" stroke-width="0.7"/>
<circle cx="109.39" cy="864.98" r="2.2" fill="#ff0000" stroke="#000" stroke-width="0.7"/>
<circle cx="105.29" cy="872.38" r="3.3" fill="#ff0000" stroke="#000" stroke-width="0.7"/>
<circle cx="111.18" cy="973.05" r="4" fill="#ff0000" stroke="#000" stroke-width="0.7"/>
<circle cx="139.41" cy="1001.53" r="3.6" fill="#ff0000" stroke="#000" stroke-width="0.7"/>
<circle cx="241.45" cy="1007.59" r="3.4" fill="#ff0000" stroke="#000" stroke-width="0.7"/>
<circle cx="197.36" cy="1018.58" r="2.9" fill="#ff0000" stroke="#000" stroke-width="0.7"/>
<circle cx="287.21" cy="960.12" r="3.6" fill="#ff0000" stroke="#000" stroke-width="0.7"/>
<circle cx="267.85" cy="881.42" r="3.8" fill="#c0c000" stroke="#747400" stroke-width="0.55"/>
<circle cx="273.76" cy="897.1" r="3.3" fill="#c0c000" stroke="#747400" stroke-width="0.55"/>
<circle cx="275.97" cy="909.29" r="3.4" fill="#c0c000" stroke="#747400" stroke-width="0.55"/>
<circle cx="244.23" cy="853.07" r="4" fill="#c0c000" stroke="#747400" stroke-width="0.55"/>
<circle cx="221.1" cy="840.93" r="2.7" fill="#c0c000" stroke="#747400" stroke-width="0.55"/>
<circle cx="213.23" cy="838.75" r="2.2" fill="#c0c000" stroke="#747400" stroke-width="0.55"/>
<circle cx="194.47" cy="836.81" r="3.5" fill="#c0c000" stroke="#747400" stroke-width="0.55"/>
<circle cx="169.29" cy="994" r="3.6" fill="#c0c000" stroke="#747400" stroke-width="0.55"/>
<circle cx="182.68" cy="997.36" r="3" fill="#c0c000" stroke="#747400" stroke-width="0.55"/>
<circle cx="189.96" cy="998.2" r="2.6" fill="#c0c000" stroke="#747400" stroke-width="0.55"/>
<circle cx="265.08" cy="958.85" r="2.4" fill="#c0c000" stroke="#747400" stroke-width="0.55"/>
<circle cx="261.87" cy="963.83" r="2.4" fill="#c0c000" stroke="#747400" stroke-width="0.55"/>
<circle cx="258.75" cy="968.01" r="2.4" fill="#c0c000" stroke="#747400" stroke-width="0.55"/>
<circle cx="247.21" cy="979.77" r="3.6" fill="#c0c000" stroke="#747400" stroke-width="0.55"/>
<circle cx="223.63" cy="993.38" r="2.4" fill="#c0c000" stroke="#747400" stroke-width="0.55"/>
<circle cx="218.01" cy="995.23" r="2.4" fill="#c0c000" stroke="#747400" stroke-width="0.55"/>
<circle cx="204.33" cy="997.93" r="3.3" fill="#c0c000" stroke="#747400" stroke-width="0.55"/>
<circle cx="272.74" cy="941.63" r="2.6" fill="#c0c000" stroke="#747400" stroke-width="0.55"/>
<circle cx="275.9" cy="926.61" r="2.4" fill="#c0c000" stroke="#747400" stroke-width="0.55"/>
<circle cx="275.22" cy="931.35" r="2.4" fill="#c0c000" stroke="#747400" stroke-width="0.55"/>
<circle cx="166.51" cy="842.22" r="3.9" fill="#008000" stroke="#000" stroke-width="0.7"/>
<circle cx="114.95" cy="912.67" r="4" fill="#ff0000" stroke="#000" stroke-width="0.7"/>
<circle cx="151.71" cy="985.44" r="3.6" fill="#ff0000" stroke="#000" stroke-width="0.7"/>
<circle cx="233.28" cy="989.07" r="3.3" fill="#ff0000" stroke="#000" stroke-width="0.7"/>
<circle cx="268.71" cy="952" r="3.6" fill="#ff0000" stroke="#000" stroke-width="0.7"/>
<circle cx="253.23" cy="898.87" r="3.8" fill="#c0c000" stroke="#747400" stroke-width="0.55"/>
<circle cx="231.48" cy="868.76" r="4" fill="#c0c000" stroke="#747400" stroke-width="0.55"/>
<circle cx="214.83" cy="860.13" r="2.7" fill="#c0c000" stroke="#747400" stroke-width="0.55"/>
<circle cx="208.72" cy="858.44" r="2.2" fill="#c0c000" stroke="#747400" stroke-width="0.55"/>
<circle cx="176.07" cy="974.97" r="3.7" fill="#c0c000" stroke="#747400" stroke-width="0.55"/>
<circle cx="186.43" cy="977.5" r="3" fill="#c0c000" stroke="#747400" stroke-width="0.55"/>
<circle cx="191.48" cy="978.06" r="2.6" fill="#c0c000" stroke="#747400" stroke-width="0.55"/>
<circle cx="238" cy="960.9" r="4" fill="#c0c000" stroke="#747400" stroke-width="0.55"/>
<circle cx="216.72" cy="974.4" r="2.4" fill="#c0c000" stroke="#747400" stroke-width="0.55"/>
<circle cx="212.61" cy="975.76" r="2.4" fill="#c0c000" stroke="#747400" stroke-width="0.55"/>
<circle cx="202.67" cy="977.79" r="3.2" fill="#c0c000" stroke="#747400" stroke-width="0.55"/>
<circle cx="253.58" cy="935.22" r="2.6" fill="#c0c000" stroke="#747400" stroke-width="0.55"/>
<circle cx="255.68" cy="925.51" r="2.6" fill="#c0c000" stroke="#747400" stroke-width="0.55"/>
<circle cx="181.56" cy="858.65" r="3.9" fill="#008000" stroke="#000" stroke-width="0.7"/>
<circle cx="135.11" cy="914.01" r="4" fill="#ff0000" stroke="#000" stroke-width="0.7"/>
<circle cx="162.95" cy="968.65" r="3.9" fill="#ff0000" stroke="#000" stroke-width="0.7"/>
<circle cx="250.52" cy="943.21" r="3.6" fill="#ff0000" stroke="#000" stroke-width="0.7"/>
<circle cx="233.91" cy="904.78" r="4" fill="#c0c000" stroke="#747400" stroke-width="0.55"/>
<circle cx="219.57" cy="885.08" r="4.2" fill="#c0c000" stroke="#747400" stroke-width="0.55"/>
<circle cx="208.29" cy="879.24" r="2.7" fill="#c0c000" stroke="#747400" stroke-width="0.55"/>
<circle cx="204.14" cy="878.11" r="2.6" fill="#c0c000" stroke="#747400" stroke-width="0.55"/>
<circle cx="155.73" cy="911.07" r="4.3" fill="#c0c000" stroke="#747400" stroke-width="0.55"/>
<circle cx="189.98" cy="957.61" r="3" fill="#c0c000" stroke="#747400" stroke-width="0.55"/>
<circle cx="215.43" cy="952.8" r="4" fill="#c0c000" stroke="#747400" stroke-width="0.55"/>
<circle cx="234.4" cy="928.87" r="2.6" fill="#c0c000" stroke="#747400" stroke-width="0.55"/>
<circle cx="235.68" cy="922.66" r="2.8" fill="#c0c000" stroke="#747400" stroke-width="0.55"/>
<circle cx="232.16" cy="934.8" r="3.6" fill="#ff0000" stroke="#000" stroke-width="0.7"/>
<circle cx="175.3" cy="917.6" r="4.3" fill="#c0c000" stroke="#747400" stroke-width="0.55"/>
<text transform="translate(162.29,753.14) rotate(-11.45)" class="dv" font-size="7.35" fill="#111" stroke="#111" stroke-width="0.18" text-anchor="middle" dominant-baseline="central">Bacilli</text>
<text transform="translate(28.3,904.65) rotate(-85.57)" class="dv" font-size="7.35" fill="#111" stroke="#111" stroke-width="0.18" text-anchor="middle" dominant-baseline="central">Clostridia</text>
<text transform="translate(102.07,1056.92) rotate(-146.12)" class="dv" font-size="7.35" fill="#111" stroke="#111" stroke-width="0.18" text-anchor="middle" dominant-baseline="central">Erysipelotrichia</text>
<text transform="translate(347.93,987.98) rotate(-245.2)" class="dv" font-size="7.35" fill="#111" stroke="#111" stroke-width="0.18" text-anchor="middle" dominant-baseline="central">Spirochaetia</text>
<text transform="translate(142.66,772.35) rotate(-20.03)" class="dv" font-size="7.35" fill="#111" stroke="#111" stroke-width="0.18" text-anchor="middle" dominant-baseline="central">Lactobacillales</text>
<text transform="translate(41.46,905.67) rotate(-85.57)" class="dv" font-size="7.35" fill="#111" stroke="#111" stroke-width="0.18" text-anchor="middle" dominant-baseline="central">Clostridiales</text>
<text transform="translate(109.43,1045.96) rotate(-146.12)" class="dv" font-size="7.35" fill="#111" stroke="#111" stroke-width="0.18" text-anchor="middle" dominant-baseline="central">Erysipelotrichales</text>
<text transform="translate(264.52,1055.99) rotate(-206.48)" class="dv" font-size="7.35" fill="#111" stroke="#111" stroke-width="0.18" text-anchor="middle" dominant-baseline="central">Aeromonadales</text>
<text transform="translate(335.94,982.45) rotate(-245.2)" class="dv" font-size="7.35" fill="#111" stroke="#111" stroke-width="0.18" text-anchor="middle" dominant-baseline="central">Spirochaetales</text>
<text transform="translate(284.79,807.36) rotate(38.98)" class="dv" font-size="7.35" fill="#111" stroke="#111" stroke-width="0.18" text-anchor="middle" dominant-baseline="central">Porphyromonadaceae</text>
<text transform="translate(125.4,794.4) rotate(-29.68)" class="dv" font-size="7.35" fill="#111" stroke="#111" stroke-width="0.18" text-anchor="middle" dominant-baseline="central">Streptococcaceae</text>
<text transform="translate(144.78,785.22) rotate(-21)" class="dv" font-size="7.35" fill="#111" stroke="#111" stroke-width="0.18" text-anchor="middle" dominant-baseline="central">Lactobacillaceae</text>
<text transform="translate(163.7,779.43) rotate(-13)" class="dv" font-size="7.35" fill="#111" stroke="#111" stroke-width="0.18" text-anchor="middle" dominant-baseline="central">Carnobacteriaceae</text>
<text transform="translate(74.15,844.41) rotate(-58.92)" class="dv" font-size="7.35" fill="#111" stroke="#111" stroke-width="0.18" text-anchor="middle" dominant-baseline="central">Defluviitaleaceae</text>
<text transform="translate(69.34,853.06) rotate(-62.93)" class="dv" font-size="7.35" fill="#111" stroke="#111" stroke-width="0.18" text-anchor="middle" dominant-baseline="central">Eubacteriaceae</text>
<text transform="translate(77.35,995.86) rotate(-123.5)" class="dv" font-size="7.35" fill="#111" stroke="#111" stroke-width="0.18" text-anchor="middle" dominant-baseline="central">Ruminococcaceae</text>
<text transform="translate(116.56,1035.33) rotate(-146.12)" class="dv" font-size="7.35" fill="#111" stroke="#111" stroke-width="0.18" text-anchor="middle" dominant-baseline="central">Erysipelotrichaceae</text>
<text transform="translate(258.82,1044.53) rotate(-206.48)" class="dv" font-size="7.35" fill="#111" stroke="#111" stroke-width="0.18" text-anchor="middle" dominant-baseline="central">Succinivibrionaceae</text>
<text transform="translate(197.15,1059.39) rotate(-180.62)" class="dv" font-size="7.35" fill="#111" stroke="#111" stroke-width="0.18" text-anchor="middle" dominant-baseline="central">Comamonadaceae</text>
<text transform="translate(324.32,977.08) rotate(-245.2)" class="dv" font-size="7.35" fill="#111" stroke="#111" stroke-width="0.18" text-anchor="middle" dominant-baseline="central">Spirochaetaceae</text>
<text transform="translate(284,824.2) rotate(43.43)" class="dv" font-size="7.35" fill="#111" stroke="#111" stroke-width="0.18" text-anchor="middle" dominant-baseline="central">a</text>
<text transform="translate(129.27,807.43) rotate(-31.05)" class="dv" font-size="7.35" fill="#111" stroke="#111" stroke-width="0.18" text-anchor="middle" dominant-baseline="central">d</text>
<text transform="translate(149.51,797.54) rotate(-21)" class="dv" font-size="7.35" fill="#111" stroke="#111" stroke-width="0.18" text-anchor="middle" dominant-baseline="central">c</text>
<text transform="translate(166.67,792.3) rotate(-13)" class="dv" font-size="7.35" fill="#111" stroke="#111" stroke-width="0.18" text-anchor="middle" dominant-baseline="central">b</text>
<text transform="translate(85.46,851.22) rotate(-58.92)" class="dv" font-size="7.35" fill="#111" stroke="#111" stroke-width="0.18" text-anchor="middle" dominant-baseline="central">e</text>
<text transform="translate(82.29,856.78) rotate(-61.78)" class="dv" font-size="7.35" fill="#111" stroke="#111" stroke-width="0.18" text-anchor="middle" dominant-baseline="central">f</text>
<text transform="translate(79.77,861.73) rotate(-64.25)" class="dv" font-size="7.35" fill="#111" stroke="#111" stroke-width="0.18" text-anchor="middle" dominant-baseline="central">g</text>
<text transform="translate(74.9,873.22) rotate(-69.81)" class="dv" font-size="7.35" fill="#111" stroke="#111" stroke-width="0.18" text-anchor="middle" dominant-baseline="central">h</text>
<text transform="translate(74.04,875.63) rotate(-70.95)" class="dv" font-size="7.35" fill="#111" stroke="#111" stroke-width="0.18" text-anchor="middle" dominant-baseline="central">i</text>
<text transform="translate(74.21,960.06) rotate(-109.28)" class="dv" font-size="7.35" fill="#111" stroke="#111" stroke-width="0.18" text-anchor="middle" dominant-baseline="central">j</text>
<text transform="translate(83.83,981.21) rotate(-119.64)" class="dv" font-size="7.35" fill="#111" stroke="#111" stroke-width="0.18" text-anchor="middle" dominant-baseline="central">k</text>
<text transform="translate(87.35,987.03) rotate(-122.68)" class="dv" font-size="7.35" fill="#111" stroke="#111" stroke-width="0.18" text-anchor="middle" dominant-baseline="central">l</text>
<text transform="translate(93.73,996.09) rotate(-127.62)" class="dv" font-size="7.35" fill="#111" stroke="#111" stroke-width="0.18" text-anchor="middle" dominant-baseline="central">m</text>
<text transform="translate(104.89,1008.76) rotate(-135.14)" class="dv" font-size="7.35" fill="#111" stroke="#111" stroke-width="0.18" text-anchor="middle" dominant-baseline="central">n</text>
<text transform="translate(127.64,1026.78) rotate(-148.1)" class="dv" font-size="7.35" fill="#111" stroke="#111" stroke-width="0.18" text-anchor="middle" dominant-baseline="central">o</text>
<text transform="translate(197,1046.19) rotate(-180.62)" class="dv" font-size="7.35" fill="#111" stroke="#111" stroke-width="0.18" text-anchor="middle" dominant-baseline="central">p</text>
<text transform="translate(312.34,971.54) rotate(-245.2)" class="dv" font-size="7.35" fill="#111" stroke="#111" stroke-width="0.18" text-anchor="middle" dominant-baseline="central">q</text>
<text x="5" y="739.3" font-size="43.7" font-weight="bold" font-style="italic">E. coli</text>
<rect x="30.2" y="753.1" width="20.5" height="7.6" fill="#ff0000" stroke="#000" stroke-width="0.8"/>
<rect x="30.2" y="768.1" width="20.5" height="7.4" fill="#008000" stroke="#000" stroke-width="0.8"/>
<text x="58.5" y="760.7" class="dv" font-size="9.6" font-weight="bold">Pos</text>
<text x="58.5" y="775.3" class="dv" font-size="9.6" font-weight="bold">Neg</text>
<rect x="389.3" y="747.2" width="14.7" height="5.4" fill="#ff0000" stroke="#000" stroke-width="0.7"/>
<text x="409.7" y="752.6" class="dv" font-size="7.1" fill="#1a1a1a">a: Barnesiella</text>
<rect x="389.3" y="757.95" width="14.7" height="5.4" fill="#008000" stroke="#000" stroke-width="0.7"/>
<text x="409.7" y="763.35" class="dv" font-size="7.1" fill="#1a1a1a">b: Granulicatella</text>
<rect x="389.3" y="768.7" width="14.7" height="5.4" fill="#008000" stroke="#000" stroke-width="0.7"/>
<text x="409.7" y="774.1" class="dv" font-size="7.1" fill="#1a1a1a">c: Lactobacillus</text>
<rect x="389.3" y="779.45" width="14.7" height="5.4" fill="#008000" stroke="#000" stroke-width="0.7"/>
<text x="409.7" y="784.85" class="dv" font-size="7.1" fill="#1a1a1a">d: Streptococcus</text>
<rect x="389.3" y="790.2" width="14.7" height="5.4" fill="#ff0000" stroke="#000" stroke-width="0.7"/>
<text x="409.7" y="795.6" class="dv" font-size="7.1" fill="#1a1a1a">e: Defluviitalea</text>
<rect x="389.3" y="800.95" width="14.7" height="5.4" fill="#ff0000" stroke="#000" stroke-width="0.7"/>
<text x="409.7" y="806.35" class="dv" font-size="7.1" fill="#1a1a1a">f: Anaerofustis</text>
<rect x="389.3" y="811.7" width="14.7" height="5.4" fill="#ff0000" stroke="#000" stroke-width="0.7"/>
<text x="409.7" y="817.1" class="dv" font-size="7.1" fill="#1a1a1a">g: Eubacterium</text>
<rect x="389.3" y="822.45" width="14.7" height="5.4" fill="#ff0000" stroke="#000" stroke-width="0.7"/>
<text x="409.7" y="827.85" class="dv" font-size="7.1" fill="#1a1a1a">h: Butyrivibrio</text>
<rect x="389.3" y="833.2" width="14.7" height="5.4" fill="#ff0000" stroke="#000" stroke-width="0.7"/>
<text x="409.7" y="838.6" class="dv" font-size="7.1" fill="#1a1a1a">i: Clostridium_XlVa</text>
<rect x="389.3" y="843.95" width="14.7" height="5.4" fill="#ff0000" stroke="#000" stroke-width="0.7"/>
<text x="409.7" y="849.35" class="dv" font-size="7.1" fill="#1a1a1a">j: Acetanaerobacterium</text>
<rect x="389.3" y="854.7" width="14.7" height="5.4" fill="#ff0000" stroke="#000" stroke-width="0.7"/>
<text x="409.7" y="860.1" class="dv" font-size="7.1" fill="#1a1a1a">k: Clostridium_IV</text>
<rect x="389.3" y="865.45" width="14.7" height="5.4" fill="#ff0000" stroke="#000" stroke-width="0.7"/>
<text x="409.7" y="870.85" class="dv" font-size="7.1" fill="#1a1a1a">l: Flavonifractor</text>
<rect x="389.3" y="876.2" width="14.7" height="5.4" fill="#ff0000" stroke="#000" stroke-width="0.7"/>
<text x="409.7" y="881.6" class="dv" font-size="7.1" fill="#1a1a1a">m: Oscillibacter</text>
<rect x="389.3" y="886.95" width="14.7" height="5.4" fill="#ff0000" stroke="#000" stroke-width="0.7"/>
<text x="409.7" y="892.35" class="dv" font-size="7.1" fill="#1a1a1a">n: Sporobacter</text>
<rect x="389.3" y="897.7" width="14.7" height="5.4" fill="#ff0000" stroke="#000" stroke-width="0.7"/>
<text x="409.7" y="903.1" class="dv" font-size="7.1" fill="#1a1a1a">o: Holdemania</text>
<rect x="389.3" y="908.45" width="14.7" height="5.4" fill="#ff0000" stroke="#000" stroke-width="0.7"/>
<text x="409.7" y="913.85" class="dv" font-size="7.1" fill="#1a1a1a">p: Comamonas</text>
<rect x="389.3" y="919.2" width="14.7" height="5.4" fill="#ff0000" stroke="#000" stroke-width="0.7"/>
<text x="409.7" y="924.6" class="dv" font-size="7.1" fill="#1a1a1a">q: Treponema</text>
<path d="M610.44 770.69A174 174 0 0 0 588.94 1048.42L663.91 962.94A60.3 60.3 0 0 1 671.36 866.69Z" fill="#ff0000" fill-opacity="0.2" stroke="#ff0000" stroke-opacity="0.15" stroke-width="0.8"/>
<path d="M588.94 1048.42A174 174 0 0 0 626.03 1073.32L676.76 971.56A60.3 60.3 0 0 1 663.91 962.94Z" fill="#ff0000" fill-opacity="0.2" stroke="#ff0000" stroke-opacity="0.15" stroke-width="0.8"/>
<path d="M699.42 1091.55A174 174 0 0 0 739.25 1087.92L716 976.63A60.3 60.3 0 0 1 702.2 977.88Z" fill="#ff0000" fill-opacity="0.2" stroke="#ff0000" stroke-opacity="0.15" stroke-width="0.8"/>
<path d="M857.45 999.02A174 174 0 0 0 865.34 981.94L759.7 939.9A60.3 60.3 0 0 1 756.96 945.82Z" fill="#ff0000" fill-opacity="0.2" stroke="#ff0000" stroke-opacity="0.15" stroke-width="0.8"/>
<path d="M865.34 981.94A174 174 0 0 0 872.39 960.14L762.14 932.34A60.3 60.3 0 0 1 759.7 939.9Z" fill="#ff0000" fill-opacity="0.2" stroke="#ff0000" stroke-opacity="0.15" stroke-width="0.8"/>
<path d="M857.24 870.94A160.5 160.5 0 0 0 835.3 825.77L769.69 871.54A80.5 80.5 0 0 1 780.69 894.2Z" fill="#ff0000" fill-opacity="0.2" stroke="#ff0000" stroke-opacity="0.15" stroke-width="0.8"/>
<path d="M617.67 782.09A160.5 160.5 0 0 0 597.84 1038.27L650.59 978.12A80.5 80.5 0 0 1 660.54 849.63Z" fill="#ff0000" fill-opacity="0.2" stroke="#ff0000" stroke-opacity="0.15" stroke-width="0.8"/>
<path d="M597.84 1038.27A160.5 160.5 0 0 0 632.06 1061.24L667.75 989.64A80.5 80.5 0 0 1 650.59 978.12Z" fill="#ff0000" fill-opacity="0.2" stroke="#ff0000" stroke-opacity="0.15" stroke-width="0.8"/>
<path d="M766.9 1065.12A160.5 160.5 0 0 0 783.31 1056.95L743.62 987.49A80.5 80.5 0 0 1 735.38 991.59Z" fill="#ff0000" fill-opacity="0.2" stroke="#ff0000" stroke-opacity="0.15" stroke-width="0.8"/>
<path d="M699.75 1078.05A160.5 160.5 0 0 0 736.49 1074.71L720.13 996.4A80.5 80.5 0 0 1 701.7 998.08Z" fill="#ff0000" fill-opacity="0.2" stroke="#ff0000" stroke-opacity="0.15" stroke-width="0.8"/>
<path d="M845.51 992.7A160.5 160.5 0 0 0 852.8 976.94L778.47 947.36A80.5 80.5 0 0 1 774.81 955.27Z" fill="#ff0000" fill-opacity="0.2" stroke="#ff0000" stroke-opacity="0.15" stroke-width="0.8"/>
<path d="M852.8 976.94A160.5 160.5 0 0 0 859.3 956.84L781.73 937.28A80.5 80.5 0 0 1 778.47 947.36Z" fill="#ff0000" fill-opacity="0.2" stroke="#ff0000" stroke-opacity="0.15" stroke-width="0.8"/>
<path d="M844.8 874.72A147.5 147.5 0 0 0 824.64 833.21L786.26 859.98A100.7 100.7 0 0 1 800.02 888.33Z" fill="#ff0000" fill-opacity="0.2" stroke="#ff0000" stroke-opacity="0.15" stroke-width="0.8"/>
<path d="M778.98 790.77A147.5 147.5 0 0 0 764.49 783.22L745.19 825.86A100.7 100.7 0 0 1 755.08 831.01Z" fill="#ff0000" fill-opacity="0.2" stroke="#ff0000" stroke-opacity="0.15" stroke-width="0.8"/>
<path d="M616.76 798.42A147.5 147.5 0 0 0 610.05 803.62L639.75 839.79A100.7 100.7 0 0 1 644.34 836.24Z" fill="#ff0000" fill-opacity="0.2" stroke="#ff0000" stroke-opacity="0.15" stroke-width="0.8"/>
<path d="M579.41 838.13A147.5 147.5 0 0 0 575.36 844.86L616.07 867.94A100.7 100.7 0 0 1 618.84 863.35Z" fill="#ff0000" fill-opacity="0.2" stroke="#ff0000" stroke-opacity="0.15" stroke-width="0.8"/>
<path d="M575.36 844.86A147.5 147.5 0 0 0 569.56 856.2L612.11 875.68A100.7 100.7 0 0 1 616.07 867.94Z" fill="#ff0000" fill-opacity="0.2" stroke="#ff0000" stroke-opacity="0.15" stroke-width="0.8"/>
<path d="M563.59 963.79A147.5 147.5 0 0 0 606.42 1028.5L637.27 993.31A100.7 100.7 0 0 1 608.04 949.14Z" fill="#ff0000" fill-opacity="0.2" stroke="#ff0000" stroke-opacity="0.15" stroke-width="0.8"/>
<path d="M606.42 1028.5A147.5 147.5 0 0 0 637.86 1049.6L658.74 1007.72A100.7 100.7 0 0 1 637.27 993.31Z" fill="#ff0000" fill-opacity="0.2" stroke="#ff0000" stroke-opacity="0.15" stroke-width="0.8"/>
<path d="M761.78 1053.17A147.5 147.5 0 0 0 776.86 1045.66L753.64 1005.03A100.7 100.7 0 0 1 743.34 1010.16Z" fill="#ff0000" fill-opacity="0.2" stroke="#ff0000" stroke-opacity="0.15" stroke-width="0.8"/>
<path d="M700.07 1065.06A147.5 147.5 0 0 0 710.49 1064.94L708.33 1018.19A100.7 100.7 0 0 1 701.21 1018.27Z" fill="#ff0000" fill-opacity="0.2" stroke="#ff0000" stroke-opacity="0.15" stroke-width="0.8"/>
<path d="M834.03 986.62A147.5 147.5 0 0 0 840.72 972.14L797.23 954.83A100.7 100.7 0 0 1 792.67 964.72Z" fill="#ff0000" fill-opacity="0.2" stroke="#ff0000" stroke-opacity="0.15" stroke-width="0.8"/>
<path d="M840.72 972.14A147.5 147.5 0 0 0 846.69 953.66L801.31 942.22A100.7 100.7 0 0 1 797.23 954.83Z" fill="#ff0000" fill-opacity="0.2" stroke="#ff0000" stroke-opacity="0.15" stroke-width="0.8"/>
<path d="M828.62 866.48A135 135 0 0 0 827.26 863.28L813.98 869.11A120.5 120.5 0 0 1 815.2 871.97Z" fill="#ff0000" fill-opacity="0.2" stroke="#ff0000" stroke-opacity="0.15" stroke-width="0.8"/>
<path d="M825.89 860.27A135 135 0 0 0 824.47 857.33L811.49 863.8A120.5 120.5 0 0 1 812.77 866.43Z" fill="#ff0000" fill-opacity="0.2" stroke="#ff0000" stroke-opacity="0.15" stroke-width="0.8"/>
<path d="M819.68 848.56A135 135 0 0 0 814.39 840.36L802.5 848.66A120.5 120.5 0 0 1 807.22 855.98Z" fill="#ff0000" fill-opacity="0.2" stroke="#ff0000" stroke-opacity="0.15" stroke-width="0.8"/>
<path d="M767.57 798.68A135 135 0 0 0 763.06 796.37L756.68 809.39A120.5 120.5 0 0 1 760.71 811.45Z" fill="#ff0000" fill-opacity="0.2" stroke="#ff0000" stroke-opacity="0.15" stroke-width="0.8"/>
<path d="M797.56 820.59A135 135 0 0 0 795.38 818.53L785.53 829.17A120.5 120.5 0 0 1 787.47 831.01Z" fill="#ff0000" fill-opacity="0.2" stroke="#ff0000" stroke-opacity="0.15" stroke-width="0.8"/>
<path d="M658.27 790.46A135 135 0 0 0 652.33 792.74L657.85 806.15A120.5 120.5 0 0 1 663.15 804.12Z" fill="#008000" fill-opacity="0.2" stroke="#008000" stroke-opacity="0.15" stroke-width="0.8"/>
<path d="M624.13 808.52A135 135 0 0 0 617.98 813.28L627.18 824.49A120.5 120.5 0 0 1 632.67 820.24Z" fill="#ff0000" fill-opacity="0.2" stroke="#ff0000" stroke-opacity="0.15" stroke-width="0.8"/>
<path d="M589.94 844.87A135 135 0 0 0 586.23 851.02L598.84 858.17A120.5 120.5 0 0 1 602.15 852.68Z" fill="#ff0000" fill-opacity="0.2" stroke="#ff0000" stroke-opacity="0.15" stroke-width="0.8"/>
<path d="M583.28 856.52A135 135 0 0 0 580.92 861.4L594.11 867.44A120.5 120.5 0 0 1 596.21 863.08Z" fill="#ff0000" fill-opacity="0.2" stroke="#ff0000" stroke-opacity="0.15" stroke-width="0.8"/>
<path d="M577.41 869.82A135 135 0 0 0 576.53 872.2L590.19 877.08A120.5 120.5 0 0 1 590.97 874.95Z" fill="#ff0000" fill-opacity="0.2" stroke="#ff0000" stroke-opacity="0.15" stroke-width="0.8"/>
<path d="M574.22 879.29A135 135 0 0 0 573.56 881.61L587.53 885.47A120.5 120.5 0 0 1 588.12 883.41Z" fill="#ff0000" fill-opacity="0.2" stroke="#ff0000" stroke-opacity="0.15" stroke-width="0.8"/>
<path d="M568.79 911.99A135 135 0 0 0 568.71 914.39L583.2 914.74A120.5 120.5 0 0 1 583.27 912.59Z" fill="#ff0000" fill-opacity="0.2" stroke="#ff0000" stroke-opacity="0.15" stroke-width="0.8"/>
<path d="M575.46 959.88A135 135 0 0 0 577.06 964.46L590.66 959.43A120.5 120.5 0 0 1 589.23 955.34Z" fill="#ff0000" fill-opacity="0.2" stroke="#ff0000" stroke-opacity="0.15" stroke-width="0.8"/>
<path d="M585.69 983.22A135 135 0 0 0 587 985.52L599.53 978.22A120.5 120.5 0 0 1 598.36 976.17Z" fill="#ff0000" fill-opacity="0.2" stroke="#ff0000" stroke-opacity="0.15" stroke-width="0.8"/>
<path d="M589.33 989.37A135 135 0 0 0 590.75 991.59L602.88 983.64A120.5 120.5 0 0 1 601.61 981.66Z" fill="#ff0000" fill-opacity="0.2" stroke="#ff0000" stroke-opacity="0.15" stroke-width="0.8"/>
<path d="M595.93 998.95A135 135 0 0 0 597.55 1001.04L608.94 992.08A120.5 120.5 0 0 1 607.51 990.21Z" fill="#ff0000" fill-opacity="0.2" stroke="#ff0000" stroke-opacity="0.15" stroke-width="0.8"/>
<path d="M607.51 1012.36A135 135 0 0 0 609.38 1014.22L619.51 1003.84A120.5 120.5 0 0 1 617.84 1002.18Z" fill="#ff0000" fill-opacity="0.2" stroke="#ff0000" stroke-opacity="0.15" stroke-width="0.8"/>
<path d="M631.2 1031.5A135 135 0 0 0 633.47 1032.91L641.01 1020.53A120.5 120.5 0 0 1 638.98 1019.27Z" fill="#ff0000" fill-opacity="0.2" stroke="#ff0000" stroke-opacity="0.15" stroke-width="0.8"/>
<path d="M764.96 1037.89A135 135 0 0 0 770.66 1034.81L763.46 1022.22A120.5 120.5 0 0 1 758.38 1024.97Z" fill="#ff0000" fill-opacity="0.2" stroke="#ff0000" stroke-opacity="0.15" stroke-width="0.8"/>
<path d="M700.37 1052.56A135 135 0 0 0 709.91 1052.46L709.24 1037.97A120.5 120.5 0 0 1 700.73 1038.06Z" fill="#ff0000" fill-opacity="0.2" stroke="#ff0000" stroke-opacity="0.15" stroke-width="0.8"/>
<path d="M822.98 980.77A135 135 0 0 0 829.1 967.52L815.63 962.15A120.5 120.5 0 0 1 810.16 973.99Z" fill="#ff0000" fill-opacity="0.2" stroke="#ff0000" stroke-opacity="0.15" stroke-width="0.8"/>
<path d="M794.37 873.17L818.34 878.34M794.37 873.17L817.35 875.57M794.37 873.17L816.44 873.18M794.37 873.17L814 867.42M794.37 873.17L811.44 862.14M794.37 873.17L810.06 859.54M794.37 873.17L808.62 856.98M801.5 892.48L820.79 886.44M801.5 892.48L821.67 889.92M803.61 903.02L823.17 897.39M803.61 903.02L823.51 899.48M804.47 911.26L824.63 909.99M804.66 916.37L824.86 916.33M745.07 825.48L751.8 806.37M751.24 828.51L763.54 812.22M751.24 828.51L755.47 808.03M767.09 839L790.56 833.1M767.09 839L788.66 831.19M767.09 839L787.25 829.83M767.09 839L784.74 827.51M767.09 839L782.72 825.73M767.09 839L780.66 823.99M767.09 839L778.56 822.31M767.09 839L776.43 820.67M767.09 839L773.71 818.68M767.09 839L772.05 817.53M767.09 839L769.81 816.04M767.09 839L767.54 814.59M779.66 851.07L794.72 837.61M783.37 855.56L798.78 842.48M735.55 821.76L741.12 802.33M725.87 819.07L730.32 799.37M653.63 829.87L644.91 811.6M653.63 829.87L642.34 813.06M660.99 826.06L652.64 807.67M660.99 826.06L655.54 806.37M665.67 824.02L659.64 804.68M673.47 821.22L666.22 802.33M673.47 821.22L669.25 801.39M681.29 819.11L676.61 799.46M686.83 818.01L683.25 798.13M693.81 817.08L691.84 796.98M699.26 816.7L697.54 796.56M699.26 816.7L701.34 796.42M707.55 816.67L708.32 796.49M713.17 817.05L713.18 796.77M713.17 817.05L716.97 797.13M646.32 834.46L635.2 817.6M637.28 841.49L624.16 826.13M628.14 850.54L618.57 831.3M628.14 850.54L617.03 832.84M628.14 850.54L615.53 834.41M628.14 850.54L614.05 836.01M628.14 850.54L612.6 837.63M628.14 850.54L611.18 839.28M628.14 850.54L609.78 840.95M628.14 850.54L608.42 842.65M620.23 860.68L604.88 847.39M620.23 860.68L602.95 850.18M613.36 872.38L596.36 861.26M604.59 897.98L592.19 870.05M604.59 897.98L591.36 872.04M604.59 897.98L590.56 874.05M604.59 897.98L590.07 875.35M604.59 897.98L589 878.34M604.59 897.98L588.4 880.16M604.59 897.98L587.75 882.23M604.59 897.98L587.17 884.19M604.59 897.98L586.56 886.38M604.59 897.98L586.02 888.48M604.59 897.98L585.52 890.58M604.59 897.98L585.06 892.69M604.59 897.98L584.63 894.81M604.59 897.98L584.24 896.93M604.59 897.98L583.9 899.07M604.59 897.98L583.58 901.21M604.59 897.98L583.31 903.35M604.59 897.98L583.08 905.5M604.59 897.98L582.88 907.65M604.59 897.98L582.72 909.81M604.59 897.98L582.6 911.96M604.59 897.98L582.55 913.16M604.59 897.98L582.48 916.28M604.59 897.98L582.47 918.45M602.8 922.71L582.63 923.73M603.53 930.78L583.23 931.11M603.53 930.78L583.62 934.26M605.8 942.55L584.78 941.14M605.8 942.55L585.23 943.34M605.8 942.55L585.73 945.52M605.8 942.55L586.12 947.13M605.8 942.55L586.84 949.87M605.8 942.55L587.46 952.02M619.25 973.05L590.24 960.28M619.25 973.05L591.09 962.5M619.25 973.05L591.99 964.69M619.25 973.05L592.93 966.86M619.25 973.05L593.92 969.02M619.25 973.05L594.95 971.16M619.25 973.05L596.01 973.27M619.25 973.05L597.12 975.37M619.25 973.05L599.46 979.49M619.25 973.05L600.7 981.52M619.25 973.05L603.27 985.5M619.25 973.05L604.62 987.45M619.25 973.05L606.01 989.37M619.25 973.05L608.89 993.14M619.25 973.05L610.39 994.98M619.25 973.05L611.92 996.79M619.25 973.05L613.48 998.57M619.25 973.05L615.08 1000.32M619.25 973.05L616.72 1002.03M619.25 973.05L620.09 1005.37M647.48 1001.53L627.56 1011.92M647.48 1001.53L629.44 1013.41M647.48 1001.53L631.35 1014.86M647.48 1001.53L633.29 1016.27M647.48 1001.53L635.25 1017.64M647.48 1001.53L637.25 1018.98M647.48 1001.53L641.31 1021.52M647.48 1001.53L643.38 1022.74M647.48 1001.53L645.47 1023.91M661.63 1009.43L653.79 1028.06M672.12 1013.55L660.04 1030.67M672.12 1013.55L661.94 1031.39M672.12 1013.55L663.85 1032.07M672.12 1013.55L665.77 1032.72M672.12 1013.55L667.71 1033.34M672.12 1013.55L669.65 1033.93M686.83 1017.19L681.17 1036.69M686.83 1017.19L684.29 1037.24M696.45 1018.34L695.22 1038.5M790.52 969.16L807.78 979.66M786.3 975.68L802.95 987.12M781.94 981.43L796.51 995.51M781.94 981.43L797.59 994.2M781.94 981.43L798.65 992.88M767.23 996.09L767.18 1020.83M767.23 996.09L769.55 1019.33M767.23 996.09L771.89 1017.78M767.23 996.09L774.19 1016.17M767.23 996.09L776.46 1014.51M767.23 996.09L778.68 1012.8M767.23 996.09L780.87 1011.04M767.23 996.09L783.01 1009.22M767.23 996.09L785.11 1007.36M767.23 996.09L787.17 1005.45M767.23 996.09L789.18 1003.49M767.23 996.09L791.15 1001.49M749.52 1007.59L756.99 1026.44M738.88 1012.27L745.72 1031.27M730.32 1015.02L733.2 1035.15M730.32 1015.02L736.87 1034.16M710.72 1018.35L712.34 1038.49M719.3 1017.38L720.54 1037.62M719.3 1017.38L723.67 1037.14M799.94 948.14L819.64 952.83M799.94 948.14L818.67 955.86M804.04 928.86L824.16 930.69M802.98 936.01L823.1 938.23M802.98 936.01L822.48 941.56" fill="none" stroke="#000" stroke-width="0.72"/>
<path d="M683.37 917.6L663.27 917.6M741.98 904.78L761.14 898.37M761.3 898.87L780.52 892.63M781.83 897.1L801.36 891.97M784.04 909.29L804.13 907.22M727.64 885.08L739.63 868.82M739.55 868.76L751.5 852.48M752.3 853.07L764.45 836.94M716.36 879.24L722.7 860.06M722.9 860.13L729.31 840.98M729.17 840.93L735.55 821.76M712.21 878.11L716.48 858.37M716.79 858.44L721.16 838.72M721.3 838.75L725.7 819.03M663.8 911.07L643.87 907.81M689.63 858.65L684.94 839M674.58 842.22L667.31 823.37M702.54 836.81L702.26 816.61M623.02 912.67L602.86 911.43M684.14 974.97L677.63 994.09M677.36 994L670.79 1013.1M698.05 957.61L695.24 977.61M694.5 977.5L691.45 997.47M690.75 997.36L687.52 1017.3M699.55 978.06L698.17 998.21M698.03 998.2L696.62 1018.35M723.5 952.8L733.42 970.4M746.07 960.9L760.2 975.33M773.15 958.85L790.52 969.16M769.94 963.83L786.51 975.39M766.82 968.01L782.6 980.61M755.28 979.77L768.19 995.31M724.79 974.4L731.83 993.33M731.7 993.38L738.71 1012.33M720.68 975.76L726.35 995.15M726.08 995.23L731.68 1014.64M712.4 997.93L714.58 1018.01M743.75 922.66L763.79 925.2M763.75 925.51L783.78 928.15M783.97 926.61L804.04 928.86M783.29 931.35L803.2 934.79" fill="none" stroke="#000" stroke-width="1.0"/>
<path d="M741.98 904.78A40.4 40.4 0 1 0 743.75 922.66M761.3 898.87A60.6 60.6 0 0 0 761.14 898.37M784.04 909.29A80.8 80.8 0 0 0 775.92 881.42M801.5 892.48A101 101 0 0 0 801.36 891.97M804.66 916.37A101 101 0 0 0 803.61 903.02M739.63 868.82A60.6 60.6 0 0 0 739.55 868.76M752.3 853.07A80.8 80.8 0 0 0 751.5 852.48M783.37 855.56A101 101 0 0 0 745.07 825.48M722.9 860.13A60.6 60.6 0 0 0 722.7 860.06M729.31 840.98A80.8 80.8 0 0 0 729.17 840.93M716.79 858.44A60.6 60.6 0 0 0 716.48 858.37M721.3 838.75A80.8 80.8 0 0 0 721.16 838.72M725.87 819.07A101 101 0 0 0 725.7 819.03M689.63 858.65A60.6 60.6 0 0 0 684.14 974.97M702.54 836.81A80.8 80.8 0 0 0 674.58 842.22M686.83 818.01A101 101 0 0 0 653.63 829.87M713.17 817.05A101 101 0 0 0 693.81 817.08M646.32 834.46A101 101 0 0 0 619.25 973.05M677.36 994A80.8 80.8 0 0 0 677.63 994.09M661.63 1009.43A101 101 0 0 0 672.12 1013.55M694.5 977.5A60.6 60.6 0 0 0 699.55 978.06M690.75 997.36A80.8 80.8 0 0 0 691.45 997.47M686.83 1017.19A101 101 0 0 0 687.52 1017.3M698.03 998.2A80.8 80.8 0 0 0 698.17 998.21M696.45 1018.34A101 101 0 0 0 696.62 1018.35M710.74 977.79A60.6 60.6 0 0 0 746.07 960.9M741.35 989.07A80.8 80.8 0 0 0 773.15 958.85M786.3 975.68A101 101 0 0 0 786.51 975.39M781.94 981.43A101 101 0 0 0 782.6 980.61M767.23 996.09A101 101 0 0 0 768.19 995.31M731.7 993.38A80.8 80.8 0 0 0 731.83 993.33M738.71 1012.33A101 101 0 0 0 738.88 1012.27M726.08 995.23A80.8 80.8 0 0 0 726.35 995.15M730.32 1015.02A101 101 0 0 0 731.68 1014.64M705.43 1018.58A101 101 0 0 0 719.3 1017.38M763.75 925.51A60.6 60.6 0 0 0 763.79 925.2M783.29 931.35A80.8 80.8 0 0 0 783.97 926.61M802.98 936.01A101 101 0 0 0 803.2 934.79" fill="none" stroke="#000" stroke-width="1.85"/>
<line x1="775.92" y1="881.42" x2="794.37" y2="873.17" stroke="#000" stroke-width="3.2"/>
<line x1="775.92" y1="881.42" x2="794.37" y2="873.17" stroke="#ff0000" stroke-width="2.2"/>
<line x1="794.37" y1="873.17" x2="815.24" y2="870.24" stroke="#000" stroke-width="3.2"/>
<line x1="794.37" y1="873.17" x2="815.24" y2="870.24" stroke="#ff0000" stroke-width="2.2"/>
<line x1="794.37" y1="873.17" x2="812.79" y2="864.85" stroke="#000" stroke-width="3.2"/>
<line x1="794.37" y1="873.17" x2="812.79" y2="864.85" stroke="#ff0000" stroke-width="2.2"/>
<line x1="794.37" y1="873.17" x2="807.01" y2="854.27" stroke="#000" stroke-width="3.2"/>
<line x1="794.37" y1="873.17" x2="807.01" y2="854.27" stroke="#ff0000" stroke-width="2.2"/>
<line x1="751.24" y1="828.51" x2="758.51" y2="809.51" stroke="#000" stroke-width="3.2"/>
<line x1="751.24" y1="828.51" x2="758.51" y2="809.51" stroke="#ff0000" stroke-width="2.2"/>
<line x1="643.18" y1="914.01" x2="623.02" y2="912.67" stroke="#000" stroke-width="3.2"/>
<line x1="643.18" y1="914.01" x2="623.02" y2="912.67" stroke="#ff0000" stroke-width="2.2"/>
<line x1="641.91" y1="837.69" x2="629.39" y2="821.83" stroke="#000" stroke-width="3.2"/>
<line x1="641.91" y1="837.69" x2="629.39" y2="821.83" stroke="#ff0000" stroke-width="2.2"/>
<line x1="617.46" y1="864.98" x2="600.22" y2="854.45" stroke="#000" stroke-width="3.2"/>
<line x1="617.46" y1="864.98" x2="600.22" y2="854.45" stroke="#ff0000" stroke-width="2.2"/>
<line x1="613.36" y1="872.38" x2="594.83" y2="864.28" stroke="#000" stroke-width="3.2"/>
<line x1="613.36" y1="872.38" x2="594.83" y2="864.28" stroke="#ff0000" stroke-width="2.2"/>
<line x1="619.25" y1="973.05" x2="589.78" y2="959.05" stroke="#000" stroke-width="3.2"/>
<line x1="619.25" y1="973.05" x2="589.78" y2="959.05" stroke="#ff0000" stroke-width="2.2"/>
<line x1="619.25" y1="973.05" x2="598.39" y2="977.65" stroke="#000" stroke-width="3.2"/>
<line x1="619.25" y1="973.05" x2="598.39" y2="977.65" stroke="#ff0000" stroke-width="2.2"/>
<line x1="619.25" y1="973.05" x2="601.34" y2="982.54" stroke="#000" stroke-width="3.2"/>
<line x1="619.25" y1="973.05" x2="601.34" y2="982.54" stroke="#ff0000" stroke-width="2.2"/>
<line x1="619.25" y1="973.05" x2="607.9" y2="991.88" stroke="#000" stroke-width="3.2"/>
<line x1="619.25" y1="973.05" x2="607.9" y2="991.88" stroke="#ff0000" stroke-width="2.2"/>
<line x1="619.25" y1="973.05" x2="617.97" y2="1003.3" stroke="#000" stroke-width="3.2"/>
<line x1="619.25" y1="973.05" x2="617.97" y2="1003.3" stroke="#ff0000" stroke-width="2.2"/>
<line x1="671.02" y1="968.65" x2="659.78" y2="985.44" stroke="#000" stroke-width="3.2"/>
<line x1="671.02" y1="968.65" x2="659.78" y2="985.44" stroke="#ff0000" stroke-width="2.2"/>
<line x1="659.78" y1="985.44" x2="647.48" y2="1001.53" stroke="#000" stroke-width="3.2"/>
<line x1="659.78" y1="985.44" x2="647.48" y2="1001.53" stroke="#ff0000" stroke-width="2.2"/>
<line x1="647.48" y1="1001.53" x2="639.98" y2="1020.72" stroke="#000" stroke-width="3.2"/>
<line x1="647.48" y1="1001.53" x2="639.98" y2="1020.72" stroke="#ff0000" stroke-width="2.2"/>
<line x1="741.35" y1="989.07" x2="749.52" y2="1007.59" stroke="#000" stroke-width="3.2"/>
<line x1="741.35" y1="989.07" x2="749.52" y2="1007.59" stroke="#ff0000" stroke-width="2.2"/>
<line x1="749.52" y1="1007.59" x2="760.38" y2="1024.71" stroke="#000" stroke-width="3.2"/>
<line x1="749.52" y1="1007.59" x2="760.38" y2="1024.71" stroke="#ff0000" stroke-width="2.2"/>
<line x1="710.74" y1="977.79" x2="712.4" y2="997.93" stroke="#000" stroke-width="3.2"/>
<line x1="710.74" y1="977.79" x2="712.4" y2="997.93" stroke="#ff0000" stroke-width="2.2"/>
<line x1="705.43" y1="1018.58" x2="706.21" y2="1038.77" stroke="#000" stroke-width="3.2"/>
<line x1="705.43" y1="1018.58" x2="706.21" y2="1038.77" stroke="#ff0000" stroke-width="2.2"/>
<line x1="740.23" y1="934.8" x2="758.59" y2="943.21" stroke="#000" stroke-width="3.2"/>
<line x1="740.23" y1="934.8" x2="758.59" y2="943.21" stroke="#ff0000" stroke-width="2.2"/>
<line x1="758.59" y1="943.21" x2="776.78" y2="952" stroke="#000" stroke-width="3.2"/>
<line x1="758.59" y1="943.21" x2="776.78" y2="952" stroke="#ff0000" stroke-width="2.2"/>
<line x1="776.78" y1="952" x2="795.28" y2="960.12" stroke="#000" stroke-width="3.2"/>
<line x1="776.78" y1="952" x2="795.28" y2="960.12" stroke="#ff0000" stroke-width="2.2"/>
<line x1="795.28" y1="960.12" x2="813.51" y2="968.82" stroke="#000" stroke-width="3.2"/>
<line x1="795.28" y1="960.12" x2="813.51" y2="968.82" stroke="#ff0000" stroke-width="2.2"/>
<line x1="742.47" y1="928.87" x2="761.65" y2="935.22" stroke="#000" stroke-width="3.2"/>
<line x1="742.47" y1="928.87" x2="761.65" y2="935.22" stroke="#ff0000" stroke-width="2.2"/>
<line x1="761.65" y1="935.22" x2="780.81" y2="941.63" stroke="#000" stroke-width="3.2"/>
<line x1="761.65" y1="935.22" x2="780.81" y2="941.63" stroke="#ff0000" stroke-width="2.2"/>
<line x1="780.81" y1="941.63" x2="799.94" y2="948.14" stroke="#000" stroke-width="3.2"/>
<line x1="780.81" y1="941.63" x2="799.94" y2="948.14" stroke="#ff0000" stroke-width="2.2"/>
<circle cx="703.67" cy="917.6" r="0.9" fill="#c0c000"/>
<circle cx="818.34" cy="878.34" r="3" fill="#c0c000" stroke="#747400" stroke-width="0.55"/>
<circle cx="817.35" cy="875.57" r="2.4" fill="#c0c000" stroke="#747400" stroke-width="0.55"/>
<circle cx="816.44" cy="873.18" r="3.2" fill="#c0c000" stroke="#747400" stroke-width="0.55"/>
<circle cx="814" cy="867.42" r="2.9" fill="#c0c000" stroke="#747400" stroke-width="0.55"/>
<circle cx="811.44" cy="862.14" r="3.3" fill="#c0c000" stroke="#747400" stroke-width="0.55"/>
<circle cx="810.06" cy="859.54" r="2.5" fill="#c0c000" stroke="#747400" stroke-width="0.55"/>
<circle cx="808.62" cy="856.98" r="3" fill="#c0c000" stroke="#747400" stroke-width="0.55"/>
<circle cx="820.79" cy="886.44" r="2.6" fill="#c0c000" stroke="#747400" stroke-width="0.55"/>
<circle cx="821.67" cy="889.92" r="3" fill="#c0c000" stroke="#747400" stroke-width="0.55"/>
<circle cx="823.17" cy="897.39" r="3" fill="#c0c000" stroke="#747400" stroke-width="0.55"/>
<circle cx="823.51" cy="899.48" r="2.6" fill="#c0c000" stroke="#747400" stroke-width="0.55"/>
<circle cx="824.63" cy="909.99" r="2.8" fill="#c0c000" stroke="#747400" stroke-width="0.55"/>
<circle cx="824.86" cy="916.33" r="2.8" fill="#c0c000" stroke="#747400" stroke-width="0.55"/>
<circle cx="751.8" cy="806.37" r="3.4" fill="#c0c000" stroke="#747400" stroke-width="0.55"/>
<circle cx="763.54" cy="812.22" r="2.8" fill="#c0c000" stroke="#747400" stroke-width="0.55"/>
<circle cx="755.47" cy="808.03" r="2.8" fill="#c0c000" stroke="#747400" stroke-width="0.55"/>
<circle cx="790.56" cy="833.1" r="3" fill="#c0c000" stroke="#747400" stroke-width="0.55"/>
<circle cx="788.66" cy="831.19" r="2.4" fill="#c0c000" stroke="#747400" stroke-width="0.55"/>
<circle cx="784.74" cy="827.51" r="2.2" fill="#c0c000" stroke="#747400" stroke-width="0.55"/>
<circle cx="782.72" cy="825.73" r="2.9" fill="#c0c000" stroke="#747400" stroke-width="0.55"/>
<circle cx="780.66" cy="823.99" r="2.6" fill="#c0c000" stroke="#747400" stroke-width="0.55"/>
<circle cx="778.56" cy="822.31" r="3.3" fill="#c0c000" stroke="#747400" stroke-width="0.55"/>
<circle cx="776.43" cy="820.67" r="2.5" fill="#c0c000" stroke="#747400" stroke-width="0.55"/>
<circle cx="773.71" cy="818.68" r="3" fill="#c0c000" stroke="#747400" stroke-width="0.55"/>
<circle cx="772.05" cy="817.53" r="2.4" fill="#c0c000" stroke="#747400" stroke-width="0.55"/>
<circle cx="769.81" cy="816.04" r="3.2" fill="#c0c000" stroke="#747400" stroke-width="0.55"/>
<circle cx="767.54" cy="814.59" r="2.2" fill="#c0c000" stroke="#747400" stroke-width="0.55"/>
<circle cx="794.72" cy="837.61" r="3" fill="#c0c000" stroke="#747400" stroke-width="0.55"/>
<circle cx="798.78" cy="842.48" r="3.5" fill="#c0c000" stroke="#747400" stroke-width="0.55"/>
<circle cx="741.12" cy="802.33" r="2.6" fill="#c0c000" stroke="#747400" stroke-width="0.55"/>
<circle cx="730.32" cy="799.37" r="2.2" fill="#c0c000" stroke="#747400" stroke-width="0.55"/>
<circle cx="644.91" cy="811.6" r="3.2" fill="#c0c000" stroke="#747400" stroke-width="0.55"/>
<circle cx="642.34" cy="813.06" r="3.3" fill="#c0c000" stroke="#747400" stroke-width="0.55"/>
<circle cx="652.64" cy="807.67" r="3.2" fill="#c0c000" stroke="#747400" stroke-width="0.55"/>
<circle cx="655.54" cy="806.37" r="2.8" fill="#c0c000" stroke="#747400" stroke-width="0.55"/>
<circle cx="666.22" cy="802.33" r="3" fill="#c0c000" stroke="#747400" stroke-width="0.55"/>
<circle cx="669.25" cy="801.39" r="3.3" fill="#c0c000" stroke="#747400" stroke-width="0.55"/>
<circle cx="676.61" cy="799.46" r="3" fill="#c0c000" stroke="#747400" stroke-width="0.55"/>
<circle cx="683.25" cy="798.13" r="2.3" fill="#c0c000" stroke="#747400" stroke-width="0.55"/>
<circle cx="691.84" cy="796.98" r="3.2" fill="#c0c000" stroke="#747400" stroke-width="0.55"/>
<circle cx="697.54" cy="796.56" r="3.3" fill="#c0c000" stroke="#747400" stroke-width="0.55"/>
<circle cx="701.34" cy="796.42" r="3" fill="#c0c000" stroke="#747400" stroke-width="0.55"/>
<circle cx="708.32" cy="796.49" r="3" fill="#c0c000" stroke="#747400" stroke-width="0.55"/>
<circle cx="713.18" cy="796.77" r="2.8" fill="#c0c000" stroke="#747400" stroke-width="0.55"/>
<circle cx="716.97" cy="797.13" r="2.6" fill="#c0c000" stroke="#747400" stroke-width="0.55"/>
<circle cx="635.2" cy="817.6" r="1.8" fill="#c0c000" stroke="#747400" stroke-width="0.55"/>
<circle cx="624.16" cy="826.13" r="3.4" fill="#c0c000" stroke="#747400" stroke-width="0.55"/>
<circle cx="618.57" cy="831.3" r="3" fill="#c0c000" stroke="#747400" stroke-width="0.55"/>
<circle cx="617.03" cy="832.84" r="2.6" fill="#c0c000" stroke="#747400" stroke-width="0.55"/>
<circle cx="615.53" cy="834.41" r="3.3" fill="#c0c000" stroke="#747400" stroke-width="0.55"/>
<circle cx="614.05" cy="836.01" r="2.8" fill="#c0c000" stroke="#747400" stroke-width="0.55"/>
<circle cx="612.6" cy="837.63" r="3" fill="#c0c000" stroke="#747400" stroke-width="0.55"/>
<circle cx="611.18" cy="839.28" r="2.6" fill="#c0c000" stroke="#747400" stroke-width="0.55"/>
<circle cx="609.78" cy="840.95" r="3.3" fill="#c0c000" stroke="#747400" stroke-width="0.55"/>
<circle cx="608.42" cy="842.65" r="2.8" fill="#c0c000" stroke="#747400" stroke-width="0.55"/>
<circle cx="604.88" cy="847.39" r="2.9" fill="#c0c000" stroke="#747400" stroke-width="0.55"/>
<circle cx="602.95" cy="850.18" r="2.6" fill="#c0c000" stroke="#747400" stroke-width="0.55"/>
<circle cx="596.36" cy="861.26" r="3" fill="#c0c000" stroke="#747400" stroke-width="0.55"/>
<circle cx="592.19" cy="870.05" r="3.3" fill="#c0c000" stroke="#747400" stroke-width="0.55"/>
<circle cx="591.36" cy="872.04" r="2.9" fill="#c0c000" stroke="#747400" stroke-width="0.55"/>
<circle cx="590.56" cy="874.05" r="3.6" fill="#c0c000" stroke="#747400" stroke-width="0.55"/>
<circle cx="589" cy="878.34" r="3.5" fill="#c0c000" stroke="#747400" stroke-width="0.55"/>
<circle cx="588.4" cy="880.16" r="2.8" fill="#c0c000" stroke="#747400" stroke-width="0.55"/>
<circle cx="587.75" cy="882.23" r="3.3" fill="#c0c000" stroke="#747400" stroke-width="0.55"/>
<circle cx="586.56" cy="886.38" r="3.6" fill="#c0c000" stroke="#747400" stroke-width="0.55"/>
<circle cx="586.02" cy="888.48" r="3" fill="#c0c000" stroke="#747400" stroke-width="0.55"/>
<circle cx="585.52" cy="890.58" r="3.5" fill="#c0c000" stroke="#747400" stroke-width="0.55"/>
<circle cx="585.06" cy="892.69" r="2.8" fill="#c0c000" stroke="#747400" stroke-width="0.55"/>
<circle cx="584.63" cy="894.81" r="3.3" fill="#c0c000" stroke="#747400" stroke-width="0.55"/>
<circle cx="584.24" cy="896.93" r="2.9" fill="#c0c000" stroke="#747400" stroke-width="0.55"/>
<circle cx="583.9" cy="899.07" r="3.6" fill="#c0c000" stroke="#747400" stroke-width="0.55"/>
<circle cx="583.58" cy="901.21" r="3" fill="#c0c000" stroke="#747400" stroke-width="0.55"/>
<circle cx="583.31" cy="903.35" r="3.5" fill="#c0c000" stroke="#747400" stroke-width="0.55"/>
<circle cx="583.08" cy="905.5" r="2.8" fill="#c0c000" stroke="#747400" stroke-width="0.55"/>
<circle cx="582.88" cy="907.65" r="3.3" fill="#c0c000" stroke="#747400" stroke-width="0.55"/>
<circle cx="582.72" cy="909.81" r="2.9" fill="#c0c000" stroke="#747400" stroke-width="0.55"/>
<circle cx="582.6" cy="911.96" r="3.6" fill="#c0c000" stroke="#747400" stroke-width="0.55"/>
<circle cx="582.48" cy="916.28" r="3.5" fill="#c0c000" stroke="#747400" stroke-width="0.55"/>
<circle cx="582.47" cy="918.45" r="2.8" fill="#c0c000" stroke="#747400" stroke-width="0.55"/>
<circle cx="582.63" cy="923.73" r="2.9" fill="#c0c000" stroke="#747400" stroke-width="0.55"/>
<circle cx="583.23" cy="931.11" r="3" fill="#c0c000" stroke="#747400" stroke-width="0.55"/>
<circle cx="583.62" cy="934.26" r="2.8" fill="#c0c000" stroke="#747400" stroke-width="0.55"/>
<circle cx="584.78" cy="941.14" r="3" fill="#c0c000" stroke="#747400" stroke-width="0.55"/>
<circle cx="585.23" cy="943.34" r="2.6" fill="#c0c000" stroke="#747400" stroke-width="0.55"/>
<circle cx="585.73" cy="945.52" r="3.2" fill="#c0c000" stroke="#747400" stroke-width="0.55"/>
<circle cx="586.12" cy="947.13" r="3" fill="#c0c000" stroke="#747400" stroke-width="0.55"/>
<circle cx="586.84" cy="949.87" r="2.6" fill="#c0c000" stroke="#747400" stroke-width="0.55"/>
<circle cx="587.46" cy="952.02" r="3.2" fill="#c0c000" stroke="#747400" stroke-width="0.55"/>
<circle cx="590.24" cy="960.28" r="2.8" fill="#c0c000" stroke="#747400" stroke-width="0.55"/>
<circle cx="591.09" cy="962.5" r="3.4" fill="#c0c000" stroke="#747400" stroke-width="0.55"/>
<circle cx="591.99" cy="964.69" r="2.6" fill="#c0c000" stroke="#747400" stroke-width="0.55"/>
<circle cx="592.93" cy="966.86" r="3" fill="#c0c000" stroke="#747400" stroke-width="0.55"/>
<circle cx="593.92" cy="969.02" r="3.2" fill="#c0c000" stroke="#747400" stroke-width="0.55"/>
<circle cx="594.95" cy="971.16" r="2.8" fill="#c0c000" stroke="#747400" stroke-width="0.55"/>
<circle cx="596.01" cy="973.27" r="3.4" fill="#c0c000" stroke="#747400" stroke-width="0.55"/>
<circle cx="597.12" cy="975.37" r="2.6" fill="#c0c000" stroke="#747400" stroke-width="0.55"/>
<circle cx="599.46" cy="979.49" r="3.2" fill="#c0c000" stroke="#747400" stroke-width="0.55"/>
<circle cx="600.7" cy="981.52" r="2.8" fill="#c0c000" stroke="#747400" stroke-width="0.55"/>
<circle cx="603.27" cy="985.5" r="2.6" fill="#c0c000" stroke="#747400" stroke-width="0.55"/>
<circle cx="604.62" cy="987.45" r="3" fill="#c0c000" stroke="#747400" stroke-width="0.55"/>
<circle cx="606.01" cy="989.37" r="3.2" fill="#c0c000" stroke="#747400" stroke-width="0.55"/>
<circle cx="608.89" cy="993.14" r="3.4" fill="#c0c000" stroke="#747400" stroke-width="0.55"/>
<circle cx="610.39" cy="994.98" r="2.6" fill="#c0c000" stroke="#747400" stroke-width="0.55"/>
<circle cx="611.92" cy="996.79" r="3" fill="#c0c000" stroke="#747400" stroke-width="0.55"/>
<circle cx="613.48" cy="998.57" r="3.2" fill="#c0c000" stroke="#747400" stroke-width="0.55"/>
<circle cx="615.08" cy="1000.32" r="2.8" fill="#c0c000" stroke="#747400" stroke-width="0.55"/>
<circle cx="616.72" cy="1002.03" r="3.4" fill="#c0c000" stroke="#747400" stroke-width="0.55"/>
<circle cx="620.09" cy="1005.37" r="3" fill="#c0c000" stroke="#747400" stroke-width="0.55"/>
<circle cx="627.56" cy="1011.92" r="3" fill="#c0c000" stroke="#747400" stroke-width="0.55"/>
<circle cx="629.44" cy="1013.41" r="2.6" fill="#c0c000" stroke="#747400" stroke-width="0.55"/>
<circle cx="631.35" cy="1014.86" r="3.3" fill="#c0c000" stroke="#747400" stroke-width="0.55"/>
<circle cx="633.29" cy="1016.27" r="2.8" fill="#c0c000" stroke="#747400" stroke-width="0.55"/>
<circle cx="635.25" cy="1017.64" r="3" fill="#c0c000" stroke="#747400" stroke-width="0.55"/>
<circle cx="637.25" cy="1018.98" r="2.6" fill="#c0c000" stroke="#747400" stroke-width="0.55"/>
<circle cx="641.31" cy="1021.52" r="2.8" fill="#c0c000" stroke="#747400" stroke-width="0.55"/>
<circle cx="643.38" cy="1022.74" r="3" fill="#c0c000" stroke="#747400" stroke-width="0.55"/>
<circle cx="645.47" cy="1023.91" r="2.6" fill="#c0c000" stroke="#747400" stroke-width="0.55"/>
<circle cx="653.79" cy="1028.06" r="2.4" fill="#c0c000" stroke="#747400" stroke-width="0.55"/>
<circle cx="660.04" cy="1030.67" r="2.8" fill="#c0c000" stroke="#747400" stroke-width="0.55"/>
<circle cx="661.94" cy="1031.39" r="2.5" fill="#c0c000" stroke="#747400" stroke-width="0.55"/>
<circle cx="663.85" cy="1032.07" r="3" fill="#c0c000" stroke="#747400" stroke-width="0.55"/>
<circle cx="665.77" cy="1032.72" r="2.8" fill="#c0c000" stroke="#747400" stroke-width="0.55"/>
<circle cx="667.71" cy="1033.34" r="2.5" fill="#c0c000" stroke="#747400" stroke-width="0.55"/>
<circle cx="669.65" cy="1033.93" r="3" fill="#c0c000" stroke="#747400" stroke-width="0.55"/>
<circle cx="681.17" cy="1036.69" r="2.8" fill="#c0c000" stroke="#747400" stroke-width="0.55"/>
<circle cx="684.29" cy="1037.24" r="2.8" fill="#c0c000" stroke="#747400" stroke-width="0.55"/>
<circle cx="695.22" cy="1038.5" r="2.6" fill="#c0c000" stroke="#747400" stroke-width="0.55"/>
<circle cx="807.78" cy="979.66" r="2.6" fill="#c0c000" stroke="#747400" stroke-width="0.55"/>
<circle cx="802.95" cy="987.12" r="2.6" fill="#c0c000" stroke="#747400" stroke-width="0.55"/>
<circle cx="796.51" cy="995.51" r="2.6" fill="#c0c000" stroke="#747400" stroke-width="0.55"/>
<circle cx="797.59" cy="994.2" r="2.4" fill="#c0c000" stroke="#747400" stroke-width="0.55"/>
<circle cx="798.65" cy="992.88" r="2.6" fill="#c0c000" stroke="#747400" stroke-width="0.55"/>
<circle cx="767.18" cy="1020.83" r="2.8" fill="#c0c000" stroke="#747400" stroke-width="0.55"/>
<circle cx="769.55" cy="1019.33" r="2.5" fill="#c0c000" stroke="#747400" stroke-width="0.55"/>
<circle cx="771.89" cy="1017.78" r="3" fill="#c0c000" stroke="#747400" stroke-width="0.55"/>
<circle cx="774.19" cy="1016.17" r="2.6" fill="#c0c000" stroke="#747400" stroke-width="0.55"/>
<circle cx="776.46" cy="1014.51" r="2.8" fill="#c0c000" stroke="#747400" stroke-width="0.55"/>
<circle cx="778.68" cy="1012.8" r="2.5" fill="#c0c000" stroke="#747400" stroke-width="0.55"/>
<circle cx="780.87" cy="1011.04" r="3" fill="#c0c000" stroke="#747400" stroke-width="0.55"/>
<circle cx="783.01" cy="1009.22" r="2.6" fill="#c0c000" stroke="#747400" stroke-width="0.55"/>
<circle cx="785.11" cy="1007.36" r="2.8" fill="#c0c000" stroke="#747400" stroke-width="0.55"/>
<circle cx="787.17" cy="1005.45" r="2.5" fill="#c0c000" stroke="#747400" stroke-width="0.55"/>
<circle cx="789.18" cy="1003.49" r="3" fill="#c0c000" stroke="#747400" stroke-width="0.55"/>
<circle cx="791.15" cy="1001.49" r="2.6" fill="#c0c000" stroke="#747400" stroke-width="0.55"/>
<circle cx="756.99" cy="1026.44" r="3" fill="#c0c000" stroke="#747400" stroke-width="0.55"/>
<circle cx="745.72" cy="1031.27" r="2.4" fill="#c0c000" stroke="#747400" stroke-width="0.55"/>
<circle cx="733.2" cy="1035.15" r="2.8" fill="#c0c000" stroke="#747400" stroke-width="0.55"/>
<circle cx="736.87" cy="1034.16" r="2.8" fill="#c0c000" stroke="#747400" stroke-width="0.55"/>
<circle cx="712.34" cy="1038.49" r="2.6" fill="#c0c000" stroke="#747400" stroke-width="0.55"/>
<circle cx="720.54" cy="1037.62" r="2.6" fill="#c0c000" stroke="#747400" stroke-width="0.55"/>
<circle cx="723.67" cy="1037.14" r="2.6" fill="#c0c000" stroke="#747400" stroke-width="0.55"/>
<circle cx="819.64" cy="952.83" r="2.6" fill="#c0c000" stroke="#747400" stroke-width="0.55"/>
<circle cx="818.67" cy="955.86" r="2.6" fill="#c0c000" stroke="#747400" stroke-width="0.55"/>
<circle cx="824.16" cy="930.69" r="2.4" fill="#c0c000" stroke="#747400" stroke-width="0.55"/>
<circle cx="823.1" cy="938.23" r="2.6" fill="#c0c000" stroke="#747400" stroke-width="0.55"/>
<circle cx="822.48" cy="941.56" r="2.6" fill="#c0c000" stroke="#747400" stroke-width="0.55"/>
<circle cx="815.24" cy="870.24" r="3.35" fill="#ff0000" stroke="#000" stroke-width="0.7"/>
<circle cx="812.79" cy="864.85" r="3.35" fill="#ff0000" stroke="#000" stroke-width="0.7"/>
<circle cx="807.01" cy="854.27" r="3.35" fill="#ff0000" stroke="#000" stroke-width="0.7"/>
<circle cx="758.51" cy="809.51" r="3.35" fill="#ff0000" stroke="#000" stroke-width="0.7"/>
<circle cx="787.25" cy="829.83" r="3.35" fill="#ff0000" stroke="#000" stroke-width="0.7"/>
<circle cx="659.64" cy="804.68" r="3.35" fill="#008000" stroke="#000" stroke-width="0.7"/>
<circle cx="629.39" cy="821.83" r="3.35" fill="#ff0000" stroke="#000" stroke-width="0.7"/>
<circle cx="600.22" cy="854.45" r="2.4" fill="#ff0000" stroke="#000" stroke-width="0.7"/>
<circle cx="594.83" cy="864.28" r="3.35" fill="#ff0000" stroke="#000" stroke-width="0.7"/>
<circle cx="590.07" cy="875.35" r="3.35" fill="#ff0000" stroke="#000" stroke-width="0.7"/>
<circle cx="587.17" cy="884.19" r="3.35" fill="#ff0000" stroke="#000" stroke-width="0.7"/>
<circle cx="582.55" cy="913.16" r="3.35" fill="#ff0000" stroke="#000" stroke-width="0.7"/>
<circle cx="589.78" cy="959.05" r="3.35" fill="#ff0000" stroke="#000" stroke-width="0.7"/>
<circle cx="598.39" cy="977.65" r="3.35" fill="#ff0000" stroke="#000" stroke-width="0.7"/>
<circle cx="601.34" cy="982.54" r="3.4" fill="#ff0000" stroke="#000" stroke-width="0.7"/>
<circle cx="607.9" cy="991.88" r="3.35" fill="#ff0000" stroke="#000" stroke-width="0.7"/>
<circle cx="617.97" cy="1003.3" r="3.35" fill="#ff0000" stroke="#000" stroke-width="0.7"/>
<circle cx="639.98" cy="1020.72" r="3.35" fill="#ff0000" stroke="#000" stroke-width="0.7"/>
<circle cx="760.38" cy="1024.71" r="3.35" fill="#ff0000" stroke="#000" stroke-width="0.7"/>
<circle cx="706.21" cy="1038.77" r="3.35" fill="#ff0000" stroke="#000" stroke-width="0.7"/>
<circle cx="813.51" cy="968.82" r="3.6" fill="#ff0000" stroke="#000" stroke-width="0.7"/>
<circle cx="801.5" cy="892.48" r="3.3" fill="#c0c000" stroke="#747400" stroke-width="0.55"/>
<circle cx="803.61" cy="903.02" r="3.2" fill="#c0c000" stroke="#747400" stroke-width="0.55"/>
<circle cx="804.47" cy="911.26" r="2.8" fill="#c0c000" stroke="#747400" stroke-width="0.55"/>
<circle cx="804.66" cy="916.37" r="2.8" fill="#c0c000" stroke="#747400" stroke-width="0.55"/>
<circle cx="745.07" cy="825.48" r="3" fill="#c0c000" stroke="#747400" stroke-width="0.55"/>
<circle cx="767.09" cy="839" r="3.6" fill="#c0c000" stroke="#747400" stroke-width="0.55"/>
<circle cx="779.66" cy="851.07" r="3" fill="#c0c000" stroke="#747400" stroke-width="0.55"/>
<circle cx="783.37" cy="855.56" r="3.3" fill="#c0c000" stroke="#747400" stroke-width="0.55"/>
<circle cx="735.55" cy="821.76" r="2.7" fill="#c0c000" stroke="#747400" stroke-width="0.55"/>
<circle cx="725.87" cy="819.07" r="2.2" fill="#c0c000" stroke="#747400" stroke-width="0.55"/>
<circle cx="653.63" cy="829.87" r="3.7" fill="#c0c000" stroke="#747400" stroke-width="0.55"/>
<circle cx="660.99" cy="826.06" r="3.2" fill="#c0c000" stroke="#747400" stroke-width="0.55"/>
<circle cx="665.67" cy="824.02" r="3.4" fill="#c0c000" stroke="#747400" stroke-width="0.55"/>
<circle cx="673.47" cy="821.22" r="3.6" fill="#c0c000" stroke="#747400" stroke-width="0.55"/>
<circle cx="681.29" cy="819.11" r="2.8" fill="#c0c000" stroke="#747400" stroke-width="0.55"/>
<circle cx="686.83" cy="818.01" r="2.2" fill="#c0c000" stroke="#747400" stroke-width="0.55"/>
<circle cx="693.81" cy="817.08" r="3.1" fill="#c0c000" stroke="#747400" stroke-width="0.55"/>
<circle cx="699.26" cy="816.7" r="3.4" fill="#c0c000" stroke="#747400" stroke-width="0.55"/>
<circle cx="707.55" cy="816.67" r="3.1" fill="#c0c000" stroke="#747400" stroke-width="0.55"/>
<circle cx="713.17" cy="817.05" r="3.1" fill="#c0c000" stroke="#747400" stroke-width="0.55"/>
<circle cx="646.32" cy="834.46" r="1.8" fill="#c0c000" stroke="#747400" stroke-width="0.55"/>
<circle cx="637.28" cy="841.49" r="3.7" fill="#c0c000" stroke="#747400" stroke-width="0.55"/>
<circle cx="628.14" cy="850.54" r="2.9" fill="#c0c000" stroke="#747400" stroke-width="0.55"/>
<circle cx="620.23" cy="860.68" r="3" fill="#c0c000" stroke="#747400" stroke-width="0.55"/>
<circle cx="604.59" cy="897.98" r="3.7" fill="#c0c000" stroke="#747400" stroke-width="0.55"/>
<circle cx="602.8" cy="922.71" r="3" fill="#c0c000" stroke="#747400" stroke-width="0.55"/>
<circle cx="603.53" cy="930.78" r="3" fill="#c0c000" stroke="#747400" stroke-width="0.55"/>
<circle cx="605.8" cy="942.55" r="3.7" fill="#c0c000" stroke="#747400" stroke-width="0.55"/>
<circle cx="661.63" cy="1009.43" r="2.4" fill="#c0c000" stroke="#747400" stroke-width="0.55"/>
<circle cx="672.12" cy="1013.55" r="3.2" fill="#c0c000" stroke="#747400" stroke-width="0.55"/>
<circle cx="686.83" cy="1017.19" r="3" fill="#c0c000" stroke="#747400" stroke-width="0.55"/>
<circle cx="696.45" cy="1018.34" r="2.6" fill="#c0c000" stroke="#747400" stroke-width="0.55"/>
<circle cx="790.52" cy="969.16" r="2.4" fill="#c0c000" stroke="#747400" stroke-width="0.55"/>
<circle cx="786.3" cy="975.68" r="2.6" fill="#c0c000" stroke="#747400" stroke-width="0.55"/>
<circle cx="781.94" cy="981.43" r="3" fill="#c0c000" stroke="#747400" stroke-width="0.55"/>
<circle cx="767.23" cy="996.09" r="3.8" fill="#c0c000" stroke="#747400" stroke-width="0.55"/>
<circle cx="738.88" cy="1012.27" r="2.4" fill="#c0c000" stroke="#747400" stroke-width="0.55"/>
<circle cx="730.32" cy="1015.02" r="2.6" fill="#c0c000" stroke="#747400" stroke-width="0.55"/>
<circle cx="710.72" cy="1018.35" r="2.6" fill="#c0c000" stroke="#747400" stroke-width="0.55"/>
<circle cx="719.3" cy="1017.38" r="2.8" fill="#c0c000" stroke="#747400" stroke-width="0.55"/>
<circle cx="804.04" cy="928.86" r="2.4" fill="#c0c000" stroke="#747400" stroke-width="0.55"/>
<circle cx="802.98" cy="936.01" r="2.6" fill="#c0c000" stroke="#747400" stroke-width="0.55"/>
<circle cx="794.37" cy="873.17" r="3.5" fill="#ff0000" stroke="#000" stroke-width="0.7"/>
<circle cx="751.24" cy="828.51" r="3.5" fill="#ff0000" stroke="#000" stroke-width="0.7"/>
<circle cx="641.91" cy="837.69" r="2.6" fill="#ff0000" stroke="#000" stroke-width="0.7"/>
<circle cx="617.46" cy="864.98" r="2.2" fill="#ff0000" stroke="#000" stroke-width="0.7"/>
<circle cx="613.36" cy="872.38" r="3.3" fill="#ff0000" stroke="#000" stroke-width="0.7"/>
<circle cx="619.25" cy="973.05" r="4" fill="#ff0000" stroke="#000" stroke-width="0.7"/>
<circle cx="647.48" cy="1001.53" r="3.6" fill="#ff0000" stroke="#000" stroke-width="0.7"/>
<circle cx="749.52" cy="1007.59" r="3.4" fill="#ff0000" stroke="#000" stroke-width="0.7"/>
<circle cx="705.43" cy="1018.58" r="2.9" fill="#ff0000" stroke="#000" stroke-width="0.7"/>
<circle cx="795.28" cy="960.12" r="3.6" fill="#ff0000" stroke="#000" stroke-width="0.7"/>
<circle cx="799.94" cy="948.14" r="2.6" fill="#ff0000" stroke="#000" stroke-width="0.7"/>
<circle cx="781.83" cy="897.1" r="3.3" fill="#c0c000" stroke="#747400" stroke-width="0.55"/>
<circle cx="784.04" cy="909.29" r="3.4" fill="#c0c000" stroke="#747400" stroke-width="0.55"/>
<circle cx="752.3" cy="853.07" r="4" fill="#c0c000" stroke="#747400" stroke-width="0.55"/>
<circle cx="729.17" cy="840.93" r="2.7" fill="#c0c000" stroke="#747400" stroke-width="0.55"/>
<circle cx="721.3" cy="838.75" r="2.2" fill="#c0c000" stroke="#747400" stroke-width="0.55"/>
<circle cx="674.58" cy="842.22" r="3.9" fill="#c0c000" stroke="#747400" stroke-width="0.55"/>
<circle cx="702.54" cy="836.81" r="3.5" fill="#c0c000" stroke="#747400" stroke-width="0.55"/>
<circle cx="677.36" cy="994" r="3.6" fill="#c0c000" stroke="#747400" stroke-width="0.55"/>
<circle cx="690.75" cy="997.36" r="3" fill="#c0c000" stroke="#747400" stroke-width="0.55"/>
<circle cx="698.03" cy="998.2" r="2.6" fill="#c0c000" stroke="#747400" stroke-width="0.55"/>
<circle cx="773.15" cy="958.85" r="2.4" fill="#c0c000" stroke="#747400" stroke-width="0.55"/>
<circle cx="769.94" cy="963.83" r="2.4" fill="#c0c000" stroke="#747400" stroke-width="0.55"/>
<circle cx="766.82" cy="968.01" r="2.4" fill="#c0c000" stroke="#747400" stroke-width="0.55"/>
<circle cx="755.28" cy="979.77" r="3.6" fill="#c0c000" stroke="#747400" stroke-width="0.55"/>
<circle cx="731.7" cy="993.38" r="2.4" fill="#c0c000" stroke="#747400" stroke-width="0.55"/>
<circle cx="726.08" cy="995.23" r="2.4" fill="#c0c000" stroke="#747400" stroke-width="0.55"/>
<circle cx="783.97" cy="926.61" r="2.4" fill="#c0c000" stroke="#747400" stroke-width="0.55"/>
<circle cx="783.29" cy="931.35" r="2.4" fill="#c0c000" stroke="#747400" stroke-width="0.55"/>
<circle cx="775.92" cy="881.42" r="3.8" fill="#ff0000" stroke="#000" stroke-width="0.7"/>
<circle cx="623.02" cy="912.67" r="4" fill="#ff0000" stroke="#000" stroke-width="0.7"/>
<circle cx="659.78" cy="985.44" r="3.6" fill="#ff0000" stroke="#000" stroke-width="0.7"/>
<circle cx="741.35" cy="989.07" r="3.3" fill="#ff0000" stroke="#000" stroke-width="0.7"/>
<circle cx="712.4" cy="997.93" r="3.3" fill="#ff0000" stroke="#000" stroke-width="0.7"/>
<circle cx="776.78" cy="952" r="3.6" fill="#ff0000" stroke="#000" stroke-width="0.7"/>
<circle cx="780.81" cy="941.63" r="2.6" fill="#ff0000" stroke="#000" stroke-width="0.7"/>
<circle cx="761.3" cy="898.87" r="3.8" fill="#c0c000" stroke="#747400" stroke-width="0.55"/>
<circle cx="739.55" cy="868.76" r="4" fill="#c0c000" stroke="#747400" stroke-width="0.55"/>
<circle cx="722.9" cy="860.13" r="2.7" fill="#c0c000" stroke="#747400" stroke-width="0.55"/>
<circle cx="716.79" cy="858.44" r="2.2" fill="#c0c000" stroke="#747400" stroke-width="0.55"/>
<circle cx="689.63" cy="858.65" r="3.9" fill="#c0c000" stroke="#747400" stroke-width="0.55"/>
<circle cx="684.14" cy="974.97" r="3.7" fill="#c0c000" stroke="#747400" stroke-width="0.55"/>
<circle cx="694.5" cy="977.5" r="3" fill="#c0c000" stroke="#747400" stroke-width="0.55"/>
<circle cx="699.55" cy="978.06" r="2.6" fill="#c0c000" stroke="#747400" stroke-width="0.55"/>
<circle cx="746.07" cy="960.9" r="4" fill="#c0c000" stroke="#747400" stroke-width="0.55"/>
<circle cx="724.79" cy="974.4" r="2.4" fill="#c0c000" stroke="#747400" stroke-width="0.55"/>
<circle cx="720.68" cy="975.76" r="2.4" fill="#c0c000" stroke="#747400" stroke-width="0.55"/>
<circle cx="763.75" cy="925.51" r="2.6" fill="#c0c000" stroke="#747400" stroke-width="0.55"/>
<circle cx="643.18" cy="914.01" r="4" fill="#ff0000" stroke="#000" stroke-width="0.7"/>
<circle cx="671.02" cy="968.65" r="3.9" fill="#ff0000" stroke="#000" stroke-width="0.7"/>
<circle cx="710.74" cy="977.79" r="3.2" fill="#ff0000" stroke="#000" stroke-width="0.7"/>
<circle cx="758.59" cy="943.21" r="3.6" fill="#ff0000" stroke="#000" stroke-width="0.7"/>
<circle cx="761.65" cy="935.22" r="2.6" fill="#ff0000" stroke="#000" stroke-width="0.7"/>
<circle cx="741.98" cy="904.78" r="4" fill="#c0c000" stroke="#747400" stroke-width="0.55"/>
<circle cx="727.64" cy="885.08" r="4.2" fill="#c0c000" stroke="#747400" stroke-width="0.55"/>
<circle cx="716.36" cy="879.24" r="2.7" fill="#c0c000" stroke="#747400" stroke-width="0.55"/>
<circle cx="712.21" cy="878.11" r="2.6" fill="#c0c000" stroke="#747400" stroke-width="0.55"/>
<circle cx="663.8" cy="911.07" r="4.3" fill="#c0c000" stroke="#747400" stroke-width="0.55"/>
<circle cx="698.05" cy="957.61" r="3" fill="#c0c000" stroke="#747400" stroke-width="0.55"/>
<circle cx="723.5" cy="952.8" r="4" fill="#c0c000" stroke="#747400" stroke-width="0.55"/>
<circle cx="743.75" cy="922.66" r="2.8" fill="#c0c000" stroke="#747400" stroke-width="0.55"/>
<circle cx="740.23" cy="934.8" r="3.6" fill="#ff0000" stroke="#000" stroke-width="0.7"/>
<circle cx="742.47" cy="928.87" r="2.6" fill="#ff0000" stroke="#000" stroke-width="0.7"/>
<circle cx="683.37" cy="917.6" r="4.3" fill="#c0c000" stroke="#747400" stroke-width="0.55"/>
<text transform="translate(536.37,904.65) rotate(-85.57)" class="dv" font-size="7.35" fill="#111" stroke="#111" stroke-width="0.18" text-anchor="middle" dominant-baseline="central">Clostridia</text>
<text transform="translate(610.14,1056.92) rotate(-146.12)" class="dv" font-size="7.35" fill="#111" stroke="#111" stroke-width="0.18" text-anchor="middle" dominant-baseline="central">Erysipelotrichia</text>
<text transform="translate(718.88,1084.71) rotate(-185.2)" class="dv" font-size="7.35" fill="#111" stroke="#111" stroke-width="0.18" text-anchor="middle" dominant-baseline="central">Betaproteobacteria</text>
<text transform="translate(856,987.98) rotate(-245.2)" class="dv" font-size="7.35" fill="#111" stroke="#111" stroke-width="0.18" text-anchor="middle" dominant-baseline="central">Spirochaetia</text>
<text transform="translate(863.33,969.24) rotate(-252.08)" class="dv" font-size="7.35" fill="#111" stroke="#111" stroke-width="0.18" text-anchor="middle" dominant-baseline="central">Synergistia</text>
<text transform="translate(842.74,850.07) rotate(64.1)" class="dv" font-size="7.35" fill="#111" stroke="#111" stroke-width="0.18" text-anchor="middle" dominant-baseline="central">Coriobacteriales</text>
<text transform="translate(549.53,905.67) rotate(-85.57)" class="dv" font-size="7.35" fill="#111" stroke="#111" stroke-width="0.18" text-anchor="middle" dominant-baseline="central">Clostridiales</text>
<text transform="translate(617.5,1045.96) rotate(-146.12)" class="dv" font-size="7.35" fill="#111" stroke="#111" stroke-width="0.18" text-anchor="middle" dominant-baseline="central">Erysipelotrichales</text>
<text transform="translate(772.59,1055.99) rotate(-206.48)" class="dv" font-size="7.35" fill="#111" stroke="#111" stroke-width="0.18" text-anchor="middle" dominant-baseline="central">Aeromonadales</text>
<text transform="translate(717.68,1071.56) rotate(-185.2)" class="dv" font-size="7.35" fill="#111" stroke="#111" stroke-width="0.18" text-anchor="middle" dominant-baseline="central">Burkholderiales</text>
<text transform="translate(844.01,982.45) rotate(-245.2)" class="dv" font-size="7.35" fill="#111" stroke="#111" stroke-width="0.18" text-anchor="middle" dominant-baseline="central">Spirochaetales</text>
<text transform="translate(850.77,965.18) rotate(-252.08)" class="dv" font-size="7.35" fill="#111" stroke="#111" stroke-width="0.18" text-anchor="middle" dominant-baseline="central">Synergistales</text>
<text transform="translate(831.23,855.66) rotate(64.1)" class="dv" font-size="7.35" fill="#111" stroke="#111" stroke-width="0.18" text-anchor="middle" dominant-baseline="central">Coriobacteriaceae</text>
<text transform="translate(769.2,791.85) rotate(27.52)" class="dv" font-size="7.35" fill="#111" stroke="#111" stroke-width="0.18" text-anchor="middle" dominant-baseline="central">Prevotellaceae</text>
<text transform="translate(616.86,805.48) rotate(-37.75)" class="dv" font-size="7.35" fill="#111" stroke="#111" stroke-width="0.18" text-anchor="middle" dominant-baseline="central">Christensenellaceae</text>
<text transform="translate(582.22,844.41) rotate(-58.92)" class="dv" font-size="7.35" fill="#111" stroke="#111" stroke-width="0.18" text-anchor="middle" dominant-baseline="central">Defluviitaleaceae</text>
<text transform="translate(577.41,853.06) rotate(-62.93)" class="dv" font-size="7.35" fill="#111" stroke="#111" stroke-width="0.18" text-anchor="middle" dominant-baseline="central">Eubacteriaceae</text>
<text transform="translate(585.42,995.86) rotate(-123.5)" class="dv" font-size="7.35" fill="#111" stroke="#111" stroke-width="0.18" text-anchor="middle" dominant-baseline="central">Ruminococcaceae</text>
<text transform="translate(624.63,1035.33) rotate(-146.12)" class="dv" font-size="7.35" fill="#111" stroke="#111" stroke-width="0.18" text-anchor="middle" dominant-baseline="central">Erysipelotrichaceae</text>
<text transform="translate(766.89,1044.53) rotate(-206.48)" class="dv" font-size="7.35" fill="#111" stroke="#111" stroke-width="0.18" text-anchor="middle" dominant-baseline="central">Succinivibrionaceae</text>
<text transform="translate(705.22,1059.39) rotate(-180.62)" class="dv" font-size="7.35" fill="#111" stroke="#111" stroke-width="0.18" text-anchor="middle" dominant-baseline="central">Comamonadaceae</text>
<text transform="translate(832.39,977.08) rotate(-245.2)" class="dv" font-size="7.35" fill="#111" stroke="#111" stroke-width="0.18" text-anchor="middle" dominant-baseline="central">Spirochaetaceae</text>
<text transform="translate(838.59,961.24) rotate(-252.08)" class="dv" font-size="7.35" fill="#111" stroke="#111" stroke-width="0.18" text-anchor="middle" dominant-baseline="central">Synergistaceae</text>
<text transform="translate(822.06,867.37) rotate(67.01)" class="dv" font-size="7.35" fill="#111" stroke="#111" stroke-width="0.18" text-anchor="middle" dominant-baseline="central">a</text>
<text transform="translate(819.43,861.58) rotate(64.18)" class="dv" font-size="7.35" fill="#111" stroke="#111" stroke-width="0.18" text-anchor="middle" dominant-baseline="central">b</text>
<text transform="translate(811.73,847.88) rotate(57.17)" class="dv" font-size="7.35" fill="#111" stroke="#111" stroke-width="0.18" text-anchor="middle" dominant-baseline="central">c</text>
<text transform="translate(762.4,803.2) rotate(27.17)" class="dv" font-size="7.35" fill="#111" stroke="#111" stroke-width="0.18" text-anchor="middle" dominant-baseline="central">e</text>
<text transform="translate(792.07,824.2) rotate(43.43)" class="dv" font-size="7.35" fill="#111" stroke="#111" stroke-width="0.18" text-anchor="middle" dominant-baseline="central">d</text>
<text transform="translate(657.58,797.54) rotate(-21)" class="dv" font-size="7.35" fill="#111" stroke="#111" stroke-width="0.18" text-anchor="middle" dominant-baseline="central">f</text>
<text transform="translate(624.94,815.92) rotate(-37.75)" class="dv" font-size="7.35" fill="#111" stroke="#111" stroke-width="0.18" text-anchor="middle" dominant-baseline="central">g</text>
<text transform="translate(593.53,851.22) rotate(-58.92)" class="dv" font-size="7.35" fill="#111" stroke="#111" stroke-width="0.18" text-anchor="middle" dominant-baseline="central">h</text>
<text transform="translate(587.84,861.73) rotate(-64.25)" class="dv" font-size="7.35" fill="#111" stroke="#111" stroke-width="0.18" text-anchor="middle" dominant-baseline="central">i</text>
<text transform="translate(582.97,873.22) rotate(-69.81)" class="dv" font-size="7.35" fill="#111" stroke="#111" stroke-width="0.18" text-anchor="middle" dominant-baseline="central">j</text>
<text transform="translate(580.04,882.21) rotate(-74.03)" class="dv" font-size="7.35" fill="#111" stroke="#111" stroke-width="0.18" text-anchor="middle" dominant-baseline="central">k</text>
<text transform="translate(575.14,913.4) rotate(-88.13)" class="dv" font-size="7.35" fill="#111" stroke="#111" stroke-width="0.18" text-anchor="middle" dominant-baseline="central">l</text>
<text transform="translate(582.28,960.06) rotate(-109.28)" class="dv" font-size="7.35" fill="#111" stroke="#111" stroke-width="0.18" text-anchor="middle" dominant-baseline="central">m</text>
<text transform="translate(591.9,981.21) rotate(-119.64)" class="dv" font-size="7.35" fill="#111" stroke="#111" stroke-width="0.18" text-anchor="middle" dominant-baseline="central">n</text>
<text transform="translate(595.42,987.03) rotate(-122.68)" class="dv" font-size="7.35" fill="#111" stroke="#111" stroke-width="0.18" text-anchor="middle" dominant-baseline="central">o</text>
<text transform="translate(601.8,996.09) rotate(-127.62)" class="dv" font-size="7.35" fill="#111" stroke="#111" stroke-width="0.18" text-anchor="middle" dominant-baseline="central">p</text>
<text transform="translate(612.96,1008.76) rotate(-135.14)" class="dv" font-size="7.35" fill="#111" stroke="#111" stroke-width="0.18" text-anchor="middle" dominant-baseline="central">q</text>
<text transform="translate(635.71,1026.78) rotate(-148.1)" class="dv" font-size="7.35" fill="#111" stroke="#111" stroke-width="0.18" text-anchor="middle" dominant-baseline="central">r</text>
<text transform="translate(764.79,1030.75) rotate(-208.38)" class="dv" font-size="7.35" fill="#111" stroke="#111" stroke-width="0.18" text-anchor="middle" dominant-baseline="central">t</text>
<text transform="translate(705.07,1046.19) rotate(-180.62)" class="dv" font-size="7.35" fill="#111" stroke="#111" stroke-width="0.18" text-anchor="middle" dominant-baseline="central">s</text>
<text transform="translate(820.41,971.54) rotate(-245.2)" class="dv" font-size="7.35" fill="#111" stroke="#111" stroke-width="0.18" text-anchor="middle" dominant-baseline="central">u</text>
<text x="513.07" y="739.3" font-size="43.7" font-weight="bold" font-style="italic">Blastocystis</text>
<rect x="538.27" y="753.1" width="20.5" height="7.6" fill="#ff0000" stroke="#000" stroke-width="0.8"/>
<rect x="538.27" y="768.1" width="20.5" height="7.4" fill="#008000" stroke="#000" stroke-width="0.8"/>
<text x="566.57" y="760.7" class="dv" font-size="9.6" font-weight="bold">Pos</text>
<text x="566.57" y="775.3" class="dv" font-size="9.6" font-weight="bold">Neg</text>
<rect x="897.37" y="747.2" width="14.7" height="5.4" fill="#ff0000" stroke="#000" stroke-width="0.7"/>
<text x="917.77" y="752.6" class="dv" font-size="7.1" fill="#1a1a1a">a: Collinsella</text>
<rect x="897.37" y="757.95" width="14.7" height="5.4" fill="#ff0000" stroke="#000" stroke-width="0.7"/>
<text x="917.77" y="763.35" class="dv" font-size="7.1" fill="#1a1a1a">b: Enterorhabdus</text>
<rect x="897.37" y="768.7" width="14.7" height="5.4" fill="#ff0000" stroke="#000" stroke-width="0.7"/>
<text x="917.77" y="774.1" class="dv" font-size="7.1" fill="#1a1a1a">c: Senegalimassilia</text>
<rect x="897.37" y="779.45" width="14.7" height="5.4" fill="#ff0000" stroke="#000" stroke-width="0.7"/>
<text x="917.77" y="784.85" class="dv" font-size="7.1" fill="#1a1a1a">d: Barnesiella</text>
<rect x="897.37" y="790.2" width="14.7" height="5.4" fill="#ff0000" stroke="#000" stroke-width="0.7"/>
<text x="917.77" y="795.6" class="dv" font-size="7.1" fill="#1a1a1a">e: Prevotella</text>
<rect x="897.37" y="800.95" width="14.7" height="5.4" fill="#008000" stroke="#000" stroke-width="0.7"/>
<text x="917.77" y="806.35" class="dv" font-size="7.1" fill="#1a1a1a">f: Lactobacillus</text>
<rect x="897.37" y="811.7" width="14.7" height="5.4" fill="#ff0000" stroke="#000" stroke-width="0.7"/>
<text x="917.77" y="817.1" class="dv" font-size="7.1" fill="#1a1a1a">g: Christensenella</text>
<rect x="897.37" y="822.45" width="14.7" height="5.4" fill="#ff0000" stroke="#000" stroke-width="0.7"/>
<text x="917.77" y="827.85" class="dv" font-size="7.1" fill="#1a1a1a">h: Defluviitalea</text>
<rect x="897.37" y="833.2" width="14.7" height="5.4" fill="#ff0000" stroke="#000" stroke-width="0.7"/>
<text x="917.77" y="838.6" class="dv" font-size="7.1" fill="#1a1a1a">i: Eubacterium</text>
<rect x="897.37" y="843.95" width="14.7" height="5.4" fill="#ff0000" stroke="#000" stroke-width="0.7"/>
<text x="917.77" y="849.35" class="dv" font-size="7.1" fill="#1a1a1a">j: Butyrivibrio</text>
<rect x="897.37" y="854.7" width="14.7" height="5.4" fill="#ff0000" stroke="#000" stroke-width="0.7"/>
<text x="917.77" y="860.1" class="dv" font-size="7.1" fill="#1a1a1a">k: Coprococcus</text>
<rect x="897.37" y="865.45" width="14.7" height="5.4" fill="#ff0000" stroke="#000" stroke-width="0.7"/>
<text x="917.77" y="870.85" class="dv" font-size="7.1" fill="#1a1a1a">l: Roseburia</text>
<rect x="897.37" y="876.2" width="14.7" height="5.4" fill="#ff0000" stroke="#000" stroke-width="0.7"/>
<text x="917.77" y="881.6" class="dv" font-size="7.1" fill="#1a1a1a">m: Acetanaerobacterium</text>
<rect x="897.37" y="886.95" width="14.7" height="5.4" fill="#ff0000" stroke="#000" stroke-width="0.7"/>
<text x="917.77" y="892.35" class="dv" font-size="7.1" fill="#1a1a1a">n: Clostridium_IV</text>
<rect x="897.37" y="897.7" width="14.7" height="5.4" fill="#ff0000" stroke="#000" stroke-width="0.7"/>
<text x="917.77" y="903.1" class="dv" font-size="7.1" fill="#1a1a1a">o: Flavonifractor</text>
<rect x="897.37" y="908.45" width="14.7" height="5.4" fill="#ff0000" stroke="#000" stroke-width="0.7"/>
<text x="917.77" y="913.85" class="dv" font-size="7.1" fill="#1a1a1a">p: Oscillibacter</text>
<rect x="897.37" y="919.2" width="14.7" height="5.4" fill="#ff0000" stroke="#000" stroke-width="0.7"/>
<text x="917.77" y="924.6" class="dv" font-size="7.1" fill="#1a1a1a">q: Sporobacter</text>
<rect x="897.37" y="929.95" width="14.7" height="5.4" fill="#ff0000" stroke="#000" stroke-width="0.7"/>
<text x="917.77" y="935.35" class="dv" font-size="7.1" fill="#1a1a1a">r: Holdemania</text>
<rect x="897.37" y="940.7" width="14.7" height="5.4" fill="#ff0000" stroke="#000" stroke-width="0.7"/>
<text x="917.77" y="946.1" class="dv" font-size="7.1" fill="#1a1a1a">s: Comamonas</text>
<rect x="897.37" y="951.45" width="14.7" height="5.4" fill="#ff0000" stroke="#000" stroke-width="0.7"/>
<text x="917.77" y="956.85" class="dv" font-size="7.1" fill="#1a1a1a">t: Succinivibrio</text>
<rect x="897.37" y="962.2" width="14.7" height="5.4" fill="#ff0000" stroke="#000" stroke-width="0.7"/>
<text x="917.77" y="967.6" class="dv" font-size="7.1" fill="#1a1a1a">u: Treponema</text>
<path d="M1365.52 999.02A174 174 0 0 0 1373.41 981.94L1267.77 939.9A60.3 60.3 0 0 1 1265.03 945.82Z" fill="#ff0000" fill-opacity="0.2" stroke="#ff0000" stroke-opacity="0.15" stroke-width="0.8"/>
<path d="M1353.58 992.7A160.5 160.5 0 0 0 1360.87 976.94L1286.54 947.36A80.5 80.5 0 0 1 1282.88 955.27Z" fill="#ff0000" fill-opacity="0.2" stroke="#ff0000" stroke-opacity="0.15" stroke-width="0.8"/>
<path d="M1320.05 817.48A147.5 147.5 0 0 0 1287.05 790.77L1263.15 831.01A100.7 100.7 0 0 1 1285.69 849.24Z" fill="#ff0000" fill-opacity="0.2" stroke="#ff0000" stroke-opacity="0.15" stroke-width="0.8"/>
<path d="M1071.66 963.79A147.5 147.5 0 0 0 1114.49 1028.5L1145.34 993.31A100.7 100.7 0 0 1 1116.11 949.14Z" fill="#ff0000" fill-opacity="0.2" stroke="#ff0000" stroke-opacity="0.15" stroke-width="0.8"/>
<path d="M1218.56 1064.94A147.5 147.5 0 0 0 1227.29 1064.28L1222.35 1017.74A100.7 100.7 0 0 1 1216.4 1018.19Z" fill="#008000" fill-opacity="0.2" stroke="#008000" stroke-opacity="0.15" stroke-width="0.8"/>
<path d="M1342.1 986.62A147.5 147.5 0 0 0 1348.79 972.14L1305.3 954.83A100.7 100.7 0 0 1 1300.74 964.72Z" fill="#ff0000" fill-opacity="0.2" stroke="#ff0000" stroke-opacity="0.15" stroke-width="0.8"/>
<path d="M1337.86 869.45A135 135 0 0 0 1336.69 866.48L1323.27 871.97A120.5 120.5 0 0 1 1324.32 874.62Z" fill="#ff0000" fill-opacity="0.2" stroke="#ff0000" stroke-opacity="0.15" stroke-width="0.8"/>
<path d="M1327.75 848.56A135 135 0 0 0 1322.46 840.36L1310.57 848.66A120.5 120.5 0 0 1 1315.29 855.98Z" fill="#ff0000" fill-opacity="0.2" stroke="#ff0000" stroke-opacity="0.15" stroke-width="0.8"/>
<path d="M1305.63 820.59A135 135 0 0 0 1303.45 818.53L1293.6 829.17A120.5 120.5 0 0 1 1295.54 831.01Z" fill="#ff0000" fill-opacity="0.2" stroke="#ff0000" stroke-opacity="0.15" stroke-width="0.8"/>
<path d="M1166.34 790.46A135 135 0 0 0 1160.4 792.74L1165.92 806.15A120.5 120.5 0 0 1 1171.22 804.12Z" fill="#008000" fill-opacity="0.2" stroke="#008000" stroke-opacity="0.15" stroke-width="0.8"/>
<path d="M1080.59 949.6A135 135 0 0 0 1081.2 952.02L1095.22 948.32A120.5 120.5 0 0 1 1094.67 946.16Z" fill="#ff0000" fill-opacity="0.2" stroke="#ff0000" stroke-opacity="0.15" stroke-width="0.8"/>
<path d="M1093.76 983.22A135 135 0 0 0 1095.07 985.52L1107.6 978.22A120.5 120.5 0 0 1 1106.43 976.17Z" fill="#ff0000" fill-opacity="0.2" stroke="#ff0000" stroke-opacity="0.15" stroke-width="0.8"/>
<path d="M1097.4 989.37A135 135 0 0 0 1098.82 991.59L1110.95 983.64A120.5 120.5 0 0 1 1109.68 981.66Z" fill="#ff0000" fill-opacity="0.2" stroke="#ff0000" stroke-opacity="0.15" stroke-width="0.8"/>
<path d="M1104 998.95A135 135 0 0 0 1105.62 1001.04L1117.01 992.08A120.5 120.5 0 0 1 1115.58 990.21Z" fill="#ff0000" fill-opacity="0.2" stroke="#ff0000" stroke-opacity="0.15" stroke-width="0.8"/>
<path d="M1115.58 1012.36A135 135 0 0 0 1117.45 1014.22L1127.58 1003.84A120.5 120.5 0 0 1 1125.91 1002.18Z" fill="#ff0000" fill-opacity="0.2" stroke="#ff0000" stroke-opacity="0.15" stroke-width="0.8"/>
<path d="M1139.27 1031.5A135 135 0 0 0 1141.54 1032.91L1149.08 1020.53A120.5 120.5 0 0 1 1147.05 1019.27Z" fill="#ff0000" fill-opacity="0.2" stroke="#ff0000" stroke-opacity="0.15" stroke-width="0.8"/>
<path d="M1217.98 1052.46A135 135 0 0 0 1225.97 1051.85L1224.44 1037.43A120.5 120.5 0 0 1 1217.31 1037.97Z" fill="#008000" fill-opacity="0.2" stroke="#008000" stroke-opacity="0.15" stroke-width="0.8"/>
<path d="M1331.05 980.77A135 135 0 0 0 1337.17 967.52L1323.7 962.15A120.5 120.5 0 0 1 1318.23 973.99Z" fill="#ff0000" fill-opacity="0.2" stroke="#ff0000" stroke-opacity="0.15" stroke-width="0.8"/>
<path d="M1302.44 873.17L1326.41 878.34M1302.44 873.17L1325.42 875.57M1302.44 873.17L1324.51 873.18M1302.44 873.17L1323.31 870.24M1302.44 873.17L1322.07 867.42M1302.44 873.17L1320.86 864.85M1302.44 873.17L1319.51 862.14M1302.44 873.17L1318.13 859.54M1302.44 873.17L1316.69 856.98M1302.44 873.17L1315.08 854.27M1309.57 892.48L1328.86 886.44M1309.57 892.48L1329.74 889.92M1311.68 903.02L1331.24 897.39M1311.68 903.02L1331.58 899.48M1312.54 911.26L1332.7 909.99M1312.73 916.37L1332.93 916.33M1253.14 825.48L1259.87 806.37M1259.31 828.51L1271.61 812.22M1259.31 828.51L1266.58 809.51M1259.31 828.51L1263.54 808.03M1275.16 839L1298.63 833.1M1275.16 839L1296.73 831.19M1275.16 839L1292.81 827.51M1275.16 839L1290.79 825.73M1275.16 839L1288.73 823.99M1275.16 839L1286.63 822.31M1275.16 839L1284.5 820.67M1275.16 839L1281.78 818.68M1275.16 839L1280.12 817.53M1275.16 839L1277.88 816.04M1275.16 839L1275.61 814.59M1287.73 851.07L1302.79 837.61M1291.44 855.56L1306.85 842.48M1243.62 821.76L1249.19 802.33M1233.94 819.07L1238.39 799.37M1161.7 829.87L1152.98 811.6M1161.7 829.87L1150.41 813.06M1169.06 826.06L1160.71 807.67M1169.06 826.06L1163.61 806.37M1173.74 824.02L1167.71 804.68M1181.54 821.22L1174.29 802.33M1181.54 821.22L1177.32 801.39M1189.36 819.11L1184.68 799.46M1194.9 818.01L1191.32 798.13M1201.88 817.08L1199.91 796.98M1207.33 816.7L1205.61 796.56M1207.33 816.7L1209.41 796.42M1215.62 816.67L1216.39 796.49M1221.24 817.05L1221.25 796.77M1221.24 817.05L1225.04 797.13M1154.39 834.46L1143.27 817.6M1149.98 837.69L1137.46 821.83M1145.35 841.49L1132.23 826.13M1136.21 850.54L1126.64 831.3M1136.21 850.54L1125.1 832.84M1136.21 850.54L1123.6 834.41M1136.21 850.54L1122.12 836.01M1136.21 850.54L1120.67 837.63M1136.21 850.54L1119.25 839.28M1136.21 850.54L1117.85 840.95M1136.21 850.54L1116.49 842.65M1128.3 860.68L1112.95 847.39M1128.3 860.68L1111.02 850.18M1125.53 864.98L1108.29 854.45M1121.43 872.38L1104.43 861.26M1121.43 872.38L1102.9 864.28M1112.66 897.98L1100.26 870.05M1112.66 897.98L1099.43 872.04M1112.66 897.98L1098.63 874.05M1112.66 897.98L1098.14 875.35M1112.66 897.98L1097.07 878.34M1112.66 897.98L1096.47 880.16M1112.66 897.98L1095.82 882.23M1112.66 897.98L1095.24 884.19M1112.66 897.98L1094.63 886.38M1112.66 897.98L1094.09 888.48M1112.66 897.98L1093.59 890.58M1112.66 897.98L1093.13 892.69M1112.66 897.98L1092.7 894.81M1112.66 897.98L1092.31 896.93M1112.66 897.98L1091.97 899.07M1112.66 897.98L1091.65 901.21M1112.66 897.98L1091.38 903.35M1112.66 897.98L1091.15 905.5M1112.66 897.98L1090.95 907.65M1112.66 897.98L1090.79 909.81M1112.66 897.98L1090.67 911.96M1112.66 897.98L1090.62 913.16M1112.66 897.98L1090.55 916.28M1112.66 897.98L1090.54 918.45M1110.87 922.71L1090.7 923.73M1111.6 930.78L1091.3 931.11M1111.6 930.78L1091.69 934.26M1113.87 942.55L1092.85 941.14M1113.87 942.55L1093.3 943.34M1113.87 942.55L1093.8 945.52M1113.87 942.55L1094.19 947.13M1113.87 942.55L1094.91 949.87M1113.87 942.55L1095.53 952.02M1127.32 973.05L1097.85 959.05M1127.32 973.05L1098.31 960.28M1127.32 973.05L1099.16 962.5M1127.32 973.05L1100.06 964.69M1127.32 973.05L1101 966.86M1127.32 973.05L1101.99 969.02M1127.32 973.05L1103.02 971.16M1127.32 973.05L1104.08 973.27M1127.32 973.05L1105.19 975.37M1127.32 973.05L1107.53 979.49M1127.32 973.05L1108.77 981.52M1127.32 973.05L1111.34 985.5M1127.32 973.05L1112.69 987.45M1127.32 973.05L1114.08 989.37M1127.32 973.05L1116.96 993.14M1127.32 973.05L1118.46 994.98M1127.32 973.05L1119.99 996.79M1127.32 973.05L1121.55 998.57M1127.32 973.05L1123.15 1000.32M1127.32 973.05L1124.79 1002.03M1127.32 973.05L1128.16 1005.37M1155.55 1001.53L1135.63 1011.92M1155.55 1001.53L1137.51 1013.41M1155.55 1001.53L1139.42 1014.86M1155.55 1001.53L1141.36 1016.27M1155.55 1001.53L1143.32 1017.64M1155.55 1001.53L1145.32 1018.98M1155.55 1001.53L1148.05 1020.72M1155.55 1001.53L1149.38 1021.52M1155.55 1001.53L1151.45 1022.74M1155.55 1001.53L1153.54 1023.91M1169.7 1009.43L1161.86 1028.06M1180.19 1013.55L1168.11 1030.67M1180.19 1013.55L1170.01 1031.39M1180.19 1013.55L1171.92 1032.07M1180.19 1013.55L1173.84 1032.72M1180.19 1013.55L1175.78 1033.34M1180.19 1013.55L1177.72 1033.93M1194.9 1017.19L1189.24 1036.69M1194.9 1017.19L1192.36 1037.24M1204.52 1018.34L1203.29 1038.5M1298.59 969.16L1315.85 979.66M1294.37 975.68L1311.02 987.12M1290.01 981.43L1304.58 995.51M1290.01 981.43L1305.66 994.2M1290.01 981.43L1306.72 992.88M1275.3 996.09L1275.25 1020.83M1275.3 996.09L1277.62 1019.33M1275.3 996.09L1279.96 1017.78M1275.3 996.09L1282.26 1016.17M1275.3 996.09L1284.53 1014.51M1275.3 996.09L1286.75 1012.8M1275.3 996.09L1288.94 1011.04M1275.3 996.09L1291.08 1009.22M1275.3 996.09L1293.18 1007.36M1275.3 996.09L1295.24 1005.45M1275.3 996.09L1297.25 1003.49M1275.3 996.09L1299.22 1001.49M1257.59 1007.59L1265.06 1026.44M1257.59 1007.59L1268.45 1024.71M1246.95 1012.27L1253.79 1031.27M1238.39 1015.02L1241.27 1035.15M1238.39 1015.02L1244.94 1034.16M1213.5 1018.58L1214.28 1038.77M1227.37 1017.38L1228.61 1037.62M1227.37 1017.38L1231.74 1037.14M1308.01 948.14L1327.71 952.83M1308.01 948.14L1326.74 955.86M1312.11 928.86L1332.23 930.69M1311.05 936.01L1331.17 938.23M1311.05 936.01L1330.55 941.56" fill="none" stroke="#000" stroke-width="0.72"/>
<path d="M1191.44 917.6L1171.34 917.6M1250.05 904.78L1269.21 898.37M1269.37 898.87L1288.59 892.63M1283.99 881.42L1302.05 872.38M1289.9 897.1L1309.43 891.97M1292.11 909.29L1312.2 907.22M1235.71 885.08L1247.7 868.82M1247.62 868.76L1259.57 852.48M1260.37 853.07L1272.52 836.94M1224.43 879.24L1230.77 860.06M1230.97 860.13L1237.38 840.98M1237.24 840.93L1243.62 821.76M1220.28 878.11L1224.55 858.37M1224.86 858.44L1229.23 838.72M1229.37 838.75L1233.77 819.03M1171.87 911.07L1151.94 907.81M1197.7 858.65L1193.01 839M1182.65 842.22L1175.38 823.37M1210.61 836.81L1210.33 816.61M1151.25 914.01L1131.08 912.81M1131.09 912.67L1110.93 911.43M1179.09 968.65L1168.21 985.67M1167.85 985.44L1156.88 1002.4M1192.21 974.97L1185.7 994.09M1185.43 994L1178.86 1013.1M1206.12 957.61L1203.31 977.61M1202.57 977.5L1199.52 997.47M1198.82 997.36L1195.59 1017.3M1207.62 978.06L1206.24 998.21M1206.1 998.2L1204.69 1018.35M1231.57 952.8L1241.49 970.4M1254.14 960.9L1268.27 975.33M1281.22 958.85L1298.59 969.16M1278.01 963.83L1294.58 975.39M1274.89 968.01L1290.67 980.61M1263.35 979.77L1276.26 995.31M1249.42 989.07L1258.85 1006.94M1232.86 974.4L1239.9 993.33M1239.77 993.38L1246.78 1012.33M1228.75 975.76L1234.42 995.15M1234.15 995.23L1239.75 1014.64M1218.81 977.79L1221.17 997.85M1220.47 997.93L1222.65 1018.01M1250.54 928.87L1269.93 934.51M1269.72 935.22L1289.05 941.09M1288.88 941.63L1308.17 947.63M1251.82 922.66L1271.86 925.2M1271.82 925.51L1291.85 928.15M1292.04 926.61L1312.11 928.86M1291.36 931.35L1311.27 934.79" fill="none" stroke="#000" stroke-width="1.0"/>
<path d="M1250.05 904.78A40.4 40.4 0 1 0 1251.82 922.66M1269.37 898.87A60.6 60.6 0 0 0 1269.21 898.37M1292.11 909.29A80.8 80.8 0 0 0 1283.99 881.42M1302.44 873.17A101 101 0 0 0 1302.05 872.38M1309.57 892.48A101 101 0 0 0 1309.43 891.97M1312.73 916.37A101 101 0 0 0 1311.68 903.02M1247.7 868.82A60.6 60.6 0 0 0 1247.62 868.76M1260.37 853.07A80.8 80.8 0 0 0 1259.57 852.48M1291.44 855.56A101 101 0 0 0 1253.14 825.48M1230.97 860.13A60.6 60.6 0 0 0 1230.77 860.06M1237.38 840.98A80.8 80.8 0 0 0 1237.24 840.93M1224.86 858.44A60.6 60.6 0 0 0 1224.55 858.37M1229.37 838.75A80.8 80.8 0 0 0 1229.23 838.72M1233.94 819.07A101 101 0 0 0 1233.77 819.03M1197.7 858.65A60.6 60.6 0 0 0 1192.21 974.97M1210.61 836.81A80.8 80.8 0 0 0 1182.65 842.22M1194.9 818.01A101 101 0 0 0 1161.7 829.87M1221.24 817.05A101 101 0 0 0 1201.88 817.08M1131.09 912.67A80.8 80.8 0 0 0 1131.08 912.81M1154.39 834.46A101 101 0 0 0 1127.32 973.05M1167.85 985.44A80.8 80.8 0 0 0 1168.21 985.67M1155.55 1001.53A101 101 0 0 0 1156.88 1002.4M1185.43 994A80.8 80.8 0 0 0 1185.7 994.09M1169.7 1009.43A101 101 0 0 0 1180.19 1013.55M1202.57 977.5A60.6 60.6 0 0 0 1207.62 978.06M1198.82 997.36A80.8 80.8 0 0 0 1199.52 997.47M1194.9 1017.19A101 101 0 0 0 1195.59 1017.3M1206.1 998.2A80.8 80.8 0 0 0 1206.24 998.21M1204.52 1018.34A101 101 0 0 0 1204.69 1018.35M1218.81 977.79A60.6 60.6 0 0 0 1254.14 960.9M1249.42 989.07A80.8 80.8 0 0 0 1281.22 958.85M1294.37 975.68A101 101 0 0 0 1294.58 975.39M1290.01 981.43A101 101 0 0 0 1290.67 980.61M1275.3 996.09A101 101 0 0 0 1276.26 995.31M1257.59 1007.59A101 101 0 0 0 1258.85 1006.94M1239.77 993.38A80.8 80.8 0 0 0 1239.9 993.33M1246.78 1012.33A101 101 0 0 0 1246.95 1012.27M1234.15 995.23A80.8 80.8 0 0 0 1234.42 995.15M1238.39 1015.02A101 101 0 0 0 1239.75 1014.64M1220.47 997.93A80.8 80.8 0 0 0 1221.17 997.85M1213.5 1018.58A101 101 0 0 0 1227.37 1017.38M1269.72 935.22A60.6 60.6 0 0 0 1269.93 934.51M1288.88 941.63A80.8 80.8 0 0 0 1289.05 941.09M1308.01 948.14A101 101 0 0 0 1308.17 947.63M1271.82 925.51A60.6 60.6 0 0 0 1271.86 925.2M1291.36 931.35A80.8 80.8 0 0 0 1292.04 926.61M1311.05 936.01A101 101 0 0 0 1311.27 934.79" fill="none" stroke="#000" stroke-width="1.85"/>
<line x1="1275.16" y1="839" x2="1295.32" y2="829.83" stroke="#000" stroke-width="3.2"/>
<line x1="1275.16" y1="839" x2="1295.32" y2="829.83" stroke="#ff0000" stroke-width="2.2"/>
<line x1="1127.32" y1="973.05" x2="1106.46" y2="977.65" stroke="#000" stroke-width="3.2"/>
<line x1="1127.32" y1="973.05" x2="1106.46" y2="977.65" stroke="#ff0000" stroke-width="2.2"/>
<line x1="1127.32" y1="973.05" x2="1109.41" y2="982.54" stroke="#000" stroke-width="3.2"/>
<line x1="1127.32" y1="973.05" x2="1109.41" y2="982.54" stroke="#ff0000" stroke-width="2.2"/>
<line x1="1127.32" y1="973.05" x2="1115.97" y2="991.88" stroke="#000" stroke-width="3.2"/>
<line x1="1127.32" y1="973.05" x2="1115.97" y2="991.88" stroke="#ff0000" stroke-width="2.2"/>
<line x1="1127.32" y1="973.05" x2="1126.04" y2="1003.3" stroke="#000" stroke-width="3.2"/>
<line x1="1127.32" y1="973.05" x2="1126.04" y2="1003.3" stroke="#ff0000" stroke-width="2.2"/>
<line x1="1218.79" y1="1018.35" x2="1220.41" y2="1038.49" stroke="#000" stroke-width="3.2"/>
<line x1="1218.79" y1="1018.35" x2="1220.41" y2="1038.49" stroke="#008000" stroke-width="2.2"/>
<line x1="1248.3" y1="934.8" x2="1266.66" y2="943.21" stroke="#000" stroke-width="3.2"/>
<line x1="1248.3" y1="934.8" x2="1266.66" y2="943.21" stroke="#ff0000" stroke-width="2.2"/>
<line x1="1266.66" y1="943.21" x2="1284.85" y2="952" stroke="#000" stroke-width="3.2"/>
<line x1="1266.66" y1="943.21" x2="1284.85" y2="952" stroke="#ff0000" stroke-width="2.2"/>
<line x1="1284.85" y1="952" x2="1303.35" y2="960.12" stroke="#000" stroke-width="3.2"/>
<line x1="1284.85" y1="952" x2="1303.35" y2="960.12" stroke="#ff0000" stroke-width="2.2"/>
<line x1="1303.35" y1="960.12" x2="1321.58" y2="968.82" stroke="#000" stroke-width="3.2"/>
<line x1="1303.35" y1="960.12" x2="1321.58" y2="968.82" stroke="#ff0000" stroke-width="2.2"/>
<circle cx="1211.74" cy="917.6" r="0.9" fill="#c0c000"/>
<circle cx="1326.41" cy="878.34" r="3" fill="#c0c000" stroke="#747400" stroke-width="0.55"/>
<circle cx="1325.42" cy="875.57" r="2.4" fill="#c0c000" stroke="#747400" stroke-width="0.55"/>
<circle cx="1323.31" cy="870.24" r="2.2" fill="#c0c000" stroke="#747400" stroke-width="0.55"/>
<circle cx="1322.07" cy="867.42" r="2.9" fill="#c0c000" stroke="#747400" stroke-width="0.55"/>
<circle cx="1320.86" cy="864.85" r="2.6" fill="#c0c000" stroke="#747400" stroke-width="0.55"/>
<circle cx="1319.51" cy="862.14" r="3.3" fill="#c0c000" stroke="#747400" stroke-width="0.55"/>
<circle cx="1318.13" cy="859.54" r="2.5" fill="#c0c000" stroke="#747400" stroke-width="0.55"/>
<circle cx="1316.69" cy="856.98" r="3" fill="#c0c000" stroke="#747400" stroke-width="0.55"/>
<circle cx="1328.86" cy="886.44" r="2.6" fill="#c0c000" stroke="#747400" stroke-width="0.55"/>
<circle cx="1329.74" cy="889.92" r="3" fill="#c0c000" stroke="#747400" stroke-width="0.55"/>
<circle cx="1331.24" cy="897.39" r="3" fill="#c0c000" stroke="#747400" stroke-width="0.55"/>
<circle cx="1331.58" cy="899.48" r="2.6" fill="#c0c000" stroke="#747400" stroke-width="0.55"/>
<circle cx="1332.7" cy="909.99" r="2.8" fill="#c0c000" stroke="#747400" stroke-width="0.55"/>
<circle cx="1332.93" cy="916.33" r="2.8" fill="#c0c000" stroke="#747400" stroke-width="0.55"/>
<circle cx="1259.87" cy="806.37" r="3.4" fill="#c0c000" stroke="#747400" stroke-width="0.55"/>
<circle cx="1271.61" cy="812.22" r="2.8" fill="#c0c000" stroke="#747400" stroke-width="0.55"/>
<circle cx="1266.58" cy="809.51" r="3" fill="#c0c000" stroke="#747400" stroke-width="0.55"/>
<circle cx="1263.54" cy="808.03" r="2.8" fill="#c0c000" stroke="#747400" stroke-width="0.55"/>
<circle cx="1298.63" cy="833.1" r="3" fill="#c0c000" stroke="#747400" stroke-width="0.55"/>
<circle cx="1296.73" cy="831.19" r="2.4" fill="#c0c000" stroke="#747400" stroke-width="0.55"/>
<circle cx="1292.81" cy="827.51" r="2.2" fill="#c0c000" stroke="#747400" stroke-width="0.55"/>
<circle cx="1290.79" cy="825.73" r="2.9" fill="#c0c000" stroke="#747400" stroke-width="0.55"/>
<circle cx="1288.73" cy="823.99" r="2.6" fill="#c0c000" stroke="#747400" stroke-width="0.55"/>
<circle cx="1286.63" cy="822.31" r="3.3" fill="#c0c000" stroke="#747400" stroke-width="0.55"/>
<circle cx="1284.5" cy="820.67" r="2.5" fill="#c0c000" stroke="#747400" stroke-width="0.55"/>
<circle cx="1281.78" cy="818.68" r="3" fill="#c0c000" stroke="#747400" stroke-width="0.55"/>
<circle cx="1280.12" cy="817.53" r="2.4" fill="#c0c000" stroke="#747400" stroke-width="0.55"/>
<circle cx="1277.88" cy="816.04" r="3.2" fill="#c0c000" stroke="#747400" stroke-width="0.55"/>
<circle cx="1275.61" cy="814.59" r="2.2" fill="#c0c000" stroke="#747400" stroke-width="0.55"/>
<circle cx="1302.79" cy="837.61" r="3" fill="#c0c000" stroke="#747400" stroke-width="0.55"/>
<circle cx="1306.85" cy="842.48" r="3.5" fill="#c0c000" stroke="#747400" stroke-width="0.55"/>
<circle cx="1249.19" cy="802.33" r="2.6" fill="#c0c000" stroke="#747400" stroke-width="0.55"/>
<circle cx="1238.39" cy="799.37" r="2.2" fill="#c0c000" stroke="#747400" stroke-width="0.55"/>
<circle cx="1152.98" cy="811.6" r="3.2" fill="#c0c000" stroke="#747400" stroke-width="0.55"/>
<circle cx="1150.41" cy="813.06" r="3.3" fill="#c0c000" stroke="#747400" stroke-width="0.55"/>
<circle cx="1160.71" cy="807.67" r="3.2" fill="#c0c000" stroke="#747400" stroke-width="0.55"/>
<circle cx="1163.61" cy="806.37" r="2.8" fill="#c0c000" stroke="#747400" stroke-width="0.55"/>
<circle cx="1174.29" cy="802.33" r="3" fill="#c0c000" stroke="#747400" stroke-width="0.55"/>
<circle cx="1177.32" cy="801.39" r="3.3" fill="#c0c000" stroke="#747400" stroke-width="0.55"/>
<circle cx="1184.68" cy="799.46" r="3" fill="#c0c000" stroke="#747400" stroke-width="0.55"/>
<circle cx="1191.32" cy="798.13" r="2.3" fill="#c0c000" stroke="#747400" stroke-width="0.55"/>
<circle cx="1199.91" cy="796.98" r="3.2" fill="#c0c000" stroke="#747400" stroke-width="0.55"/>
<circle cx="1205.61" cy="796.56" r="3.3" fill="#c0c000" stroke="#747400" stroke-width="0.55"/>
<circle cx="1209.41" cy="796.42" r="3" fill="#c0c000" stroke="#747400" stroke-width="0.55"/>
<circle cx="1216.39" cy="796.49" r="3" fill="#c0c000" stroke="#747400" stroke-width="0.55"/>
<circle cx="1221.25" cy="796.77" r="2.8" fill="#c0c000" stroke="#747400" stroke-width="0.55"/>
<circle cx="1225.04" cy="797.13" r="2.6" fill="#c0c000" stroke="#747400" stroke-width="0.55"/>
<circle cx="1143.27" cy="817.6" r="1.8" fill="#c0c000" stroke="#747400" stroke-width="0.55"/>
<circle cx="1137.46" cy="821.83" r="2.6" fill="#c0c000" stroke="#747400" stroke-width="0.55"/>
<circle cx="1132.23" cy="826.13" r="3.4" fill="#c0c000" stroke="#747400" stroke-width="0.55"/>
<circle cx="1126.64" cy="831.3" r="3" fill="#c0c000" stroke="#747400" stroke-width="0.55"/>
<circle cx="1125.1" cy="832.84" r="2.6" fill="#c0c000" stroke="#747400" stroke-width="0.55"/>
<circle cx="1123.6" cy="834.41" r="3.3" fill="#c0c000" stroke="#747400" stroke-width="0.55"/>
<circle cx="1122.12" cy="836.01" r="2.8" fill="#c0c000" stroke="#747400" stroke-width="0.55"/>
<circle cx="1120.67" cy="837.63" r="3" fill="#c0c000" stroke="#747400" stroke-width="0.55"/>
<circle cx="1119.25" cy="839.28" r="2.6" fill="#c0c000" stroke="#747400" stroke-width="0.55"/>
<circle cx="1117.85" cy="840.95" r="3.3" fill="#c0c000" stroke="#747400" stroke-width="0.55"/>
<circle cx="1116.49" cy="842.65" r="2.8" fill="#c0c000" stroke="#747400" stroke-width="0.55"/>
<circle cx="1112.95" cy="847.39" r="2.9" fill="#c0c000" stroke="#747400" stroke-width="0.55"/>
<circle cx="1111.02" cy="850.18" r="2.6" fill="#c0c000" stroke="#747400" stroke-width="0.55"/>
<circle cx="1108.29" cy="854.45" r="2.3" fill="#c0c000" stroke="#747400" stroke-width="0.55"/>
<circle cx="1104.43" cy="861.26" r="3" fill="#c0c000" stroke="#747400" stroke-width="0.55"/>
<circle cx="1102.9" cy="864.28" r="2.8" fill="#c0c000" stroke="#747400" stroke-width="0.55"/>
<circle cx="1100.26" cy="870.05" r="3.3" fill="#c0c000" stroke="#747400" stroke-width="0.55"/>
<circle cx="1099.43" cy="872.04" r="2.9" fill="#c0c000" stroke="#747400" stroke-width="0.55"/>
<circle cx="1098.63" cy="874.05" r="3.6" fill="#c0c000" stroke="#747400" stroke-width="0.55"/>
<circle cx="1098.14" cy="875.35" r="3" fill="#c0c000" stroke="#747400" stroke-width="0.55"/>
<circle cx="1097.07" cy="878.34" r="3.5" fill="#c0c000" stroke="#747400" stroke-width="0.55"/>
<circle cx="1096.47" cy="880.16" r="2.8" fill="#c0c000" stroke="#747400" stroke-width="0.55"/>
<circle cx="1095.82" cy="882.23" r="3.3" fill="#c0c000" stroke="#747400" stroke-width="0.55"/>
<circle cx="1095.24" cy="884.19" r="2.9" fill="#c0c000" stroke="#747400" stroke-width="0.55"/>
<circle cx="1094.63" cy="886.38" r="3.6" fill="#c0c000" stroke="#747400" stroke-width="0.55"/>
<circle cx="1094.09" cy="888.48" r="3" fill="#c0c000" stroke="#747400" stroke-width="0.55"/>
<circle cx="1093.59" cy="890.58" r="3.5" fill="#c0c000" stroke="#747400" stroke-width="0.55"/>
<circle cx="1093.13" cy="892.69" r="2.8" fill="#c0c000" stroke="#747400" stroke-width="0.55"/>
<circle cx="1092.7" cy="894.81" r="3.3" fill="#c0c000" stroke="#747400" stroke-width="0.55"/>
<circle cx="1092.31" cy="896.93" r="2.9" fill="#c0c000" stroke="#747400" stroke-width="0.55"/>
<circle cx="1091.97" cy="899.07" r="3.6" fill="#c0c000" stroke="#747400" stroke-width="0.55"/>
<circle cx="1091.65" cy="901.21" r="3" fill="#c0c000" stroke="#747400" stroke-width="0.55"/>
<circle cx="1091.38" cy="903.35" r="3.5" fill="#c0c000" stroke="#747400" stroke-width="0.55"/>
<circle cx="1091.15" cy="905.5" r="2.8" fill="#c0c000" stroke="#747400" stroke-width="0.55"/>
<circle cx="1090.95" cy="907.65" r="3.3" fill="#c0c000" stroke="#747400" stroke-width="0.55"/>
<circle cx="1090.79" cy="909.81" r="2.9" fill="#c0c000" stroke="#747400" stroke-width="0.55"/>
<circle cx="1090.67" cy="911.96" r="3.6" fill="#c0c000" stroke="#747400" stroke-width="0.55"/>
<circle cx="1090.62" cy="913.16" r="3" fill="#c0c000" stroke="#747400" stroke-width="0.55"/>
<circle cx="1090.55" cy="916.28" r="3.5" fill="#c0c000" stroke="#747400" stroke-width="0.55"/>
<circle cx="1090.54" cy="918.45" r="2.8" fill="#c0c000" stroke="#747400" stroke-width="0.55"/>
<circle cx="1090.7" cy="923.73" r="2.9" fill="#c0c000" stroke="#747400" stroke-width="0.55"/>
<circle cx="1091.3" cy="931.11" r="3" fill="#c0c000" stroke="#747400" stroke-width="0.55"/>
<circle cx="1091.69" cy="934.26" r="2.8" fill="#c0c000" stroke="#747400" stroke-width="0.55"/>
<circle cx="1092.85" cy="941.14" r="3" fill="#c0c000" stroke="#747400" stroke-width="0.55"/>
<circle cx="1093.3" cy="943.34" r="2.6" fill="#c0c000" stroke="#747400" stroke-width="0.55"/>
<circle cx="1093.8" cy="945.52" r="3.2" fill="#c0c000" stroke="#747400" stroke-width="0.55"/>
<circle cx="1094.91" cy="949.87" r="2.6" fill="#c0c000" stroke="#747400" stroke-width="0.55"/>
<circle cx="1095.53" cy="952.02" r="3.2" fill="#c0c000" stroke="#747400" stroke-width="0.55"/>
<circle cx="1097.85" cy="959.05" r="3.2" fill="#c0c000" stroke="#747400" stroke-width="0.55"/>
<circle cx="1098.31" cy="960.28" r="2.8" fill="#c0c000" stroke="#747400" stroke-width="0.55"/>
<circle cx="1099.16" cy="962.5" r="3.4" fill="#c0c000" stroke="#747400" stroke-width="0.55"/>
<circle cx="1100.06" cy="964.69" r="2.6" fill="#c0c000" stroke="#747400" stroke-width="0.55"/>
<circle cx="1101" cy="966.86" r="3" fill="#c0c000" stroke="#747400" stroke-width="0.55"/>
<circle cx="1101.99" cy="969.02" r="3.2" fill="#c0c000" stroke="#747400" stroke-width="0.55"/>
<circle cx="1103.02" cy="971.16" r="2.8" fill="#c0c000" stroke="#747400" stroke-width="0.55"/>
<circle cx="1104.08" cy="973.27" r="3.4" fill="#c0c000" stroke="#747400" stroke-width="0.55"/>
<circle cx="1105.19" cy="975.37" r="2.6" fill="#c0c000" stroke="#747400" stroke-width="0.55"/>
<circle cx="1107.53" cy="979.49" r="3.2" fill="#c0c000" stroke="#747400" stroke-width="0.55"/>
<circle cx="1108.77" cy="981.52" r="2.8" fill="#c0c000" stroke="#747400" stroke-width="0.55"/>
<circle cx="1111.34" cy="985.5" r="2.6" fill="#c0c000" stroke="#747400" stroke-width="0.55"/>
<circle cx="1112.69" cy="987.45" r="3" fill="#c0c000" stroke="#747400" stroke-width="0.55"/>
<circle cx="1114.08" cy="989.37" r="3.2" fill="#c0c000" stroke="#747400" stroke-width="0.55"/>
<circle cx="1116.96" cy="993.14" r="3.4" fill="#c0c000" stroke="#747400" stroke-width="0.55"/>
<circle cx="1118.46" cy="994.98" r="2.6" fill="#c0c000" stroke="#747400" stroke-width="0.55"/>
<circle cx="1119.99" cy="996.79" r="3" fill="#c0c000" stroke="#747400" stroke-width="0.55"/>
<circle cx="1121.55" cy="998.57" r="3.2" fill="#c0c000" stroke="#747400" stroke-width="0.55"/>
<circle cx="1123.15" cy="1000.32" r="2.8" fill="#c0c000" stroke="#747400" stroke-width="0.55"/>
<circle cx="1124.79" cy="1002.03" r="3.4" fill="#c0c000" stroke="#747400" stroke-width="0.55"/>
<circle cx="1128.16" cy="1005.37" r="3" fill="#c0c000" stroke="#747400" stroke-width="0.55"/>
<circle cx="1135.63" cy="1011.92" r="3" fill="#c0c000" stroke="#747400" stroke-width="0.55"/>
<circle cx="1137.51" cy="1013.41" r="2.6" fill="#c0c000" stroke="#747400" stroke-width="0.55"/>
<circle cx="1139.42" cy="1014.86" r="3.3" fill="#c0c000" stroke="#747400" stroke-width="0.55"/>
<circle cx="1141.36" cy="1016.27" r="2.8" fill="#c0c000" stroke="#747400" stroke-width="0.55"/>
<circle cx="1143.32" cy="1017.64" r="3" fill="#c0c000" stroke="#747400" stroke-width="0.55"/>
<circle cx="1145.32" cy="1018.98" r="2.6" fill="#c0c000" stroke="#747400" stroke-width="0.55"/>
<circle cx="1149.38" cy="1021.52" r="2.8" fill="#c0c000" stroke="#747400" stroke-width="0.55"/>
<circle cx="1151.45" cy="1022.74" r="3" fill="#c0c000" stroke="#747400" stroke-width="0.55"/>
<circle cx="1153.54" cy="1023.91" r="2.6" fill="#c0c000" stroke="#747400" stroke-width="0.55"/>
<circle cx="1161.86" cy="1028.06" r="2.4" fill="#c0c000" stroke="#747400" stroke-width="0.55"/>
<circle cx="1168.11" cy="1030.67" r="2.8" fill="#c0c000" stroke="#747400" stroke-width="0.55"/>
<circle cx="1170.01" cy="1031.39" r="2.5" fill="#c0c000" stroke="#747400" stroke-width="0.55"/>
<circle cx="1171.92" cy="1032.07" r="3" fill="#c0c000" stroke="#747400" stroke-width="0.55"/>
<circle cx="1173.84" cy="1032.72" r="2.8" fill="#c0c000" stroke="#747400" stroke-width="0.55"/>
<circle cx="1175.78" cy="1033.34" r="2.5" fill="#c0c000" stroke="#747400" stroke-width="0.55"/>
<circle cx="1177.72" cy="1033.93" r="3" fill="#c0c000" stroke="#747400" stroke-width="0.55"/>
<circle cx="1189.24" cy="1036.69" r="2.8" fill="#c0c000" stroke="#747400" stroke-width="0.55"/>
<circle cx="1192.36" cy="1037.24" r="2.8" fill="#c0c000" stroke="#747400" stroke-width="0.55"/>
<circle cx="1203.29" cy="1038.5" r="2.6" fill="#c0c000" stroke="#747400" stroke-width="0.55"/>
<circle cx="1315.85" cy="979.66" r="2.6" fill="#c0c000" stroke="#747400" stroke-width="0.55"/>
<circle cx="1311.02" cy="987.12" r="2.6" fill="#c0c000" stroke="#747400" stroke-width="0.55"/>
<circle cx="1304.58" cy="995.51" r="2.6" fill="#c0c000" stroke="#747400" stroke-width="0.55"/>
<circle cx="1305.66" cy="994.2" r="2.4" fill="#c0c000" stroke="#747400" stroke-width="0.55"/>
<circle cx="1306.72" cy="992.88" r="2.6" fill="#c0c000" stroke="#747400" stroke-width="0.55"/>
<circle cx="1275.25" cy="1020.83" r="2.8" fill="#c0c000" stroke="#747400" stroke-width="0.55"/>
<circle cx="1277.62" cy="1019.33" r="2.5" fill="#c0c000" stroke="#747400" stroke-width="0.55"/>
<circle cx="1279.96" cy="1017.78" r="3" fill="#c0c000" stroke="#747400" stroke-width="0.55"/>
<circle cx="1282.26" cy="1016.17" r="2.6" fill="#c0c000" stroke="#747400" stroke-width="0.55"/>
<circle cx="1284.53" cy="1014.51" r="2.8" fill="#c0c000" stroke="#747400" stroke-width="0.55"/>
<circle cx="1286.75" cy="1012.8" r="2.5" fill="#c0c000" stroke="#747400" stroke-width="0.55"/>
<circle cx="1288.94" cy="1011.04" r="3" fill="#c0c000" stroke="#747400" stroke-width="0.55"/>
<circle cx="1291.08" cy="1009.22" r="2.6" fill="#c0c000" stroke="#747400" stroke-width="0.55"/>
<circle cx="1293.18" cy="1007.36" r="2.8" fill="#c0c000" stroke="#747400" stroke-width="0.55"/>
<circle cx="1295.24" cy="1005.45" r="2.5" fill="#c0c000" stroke="#747400" stroke-width="0.55"/>
<circle cx="1297.25" cy="1003.49" r="3" fill="#c0c000" stroke="#747400" stroke-width="0.55"/>
<circle cx="1299.22" cy="1001.49" r="2.6" fill="#c0c000" stroke="#747400" stroke-width="0.55"/>
<circle cx="1265.06" cy="1026.44" r="3" fill="#c0c000" stroke="#747400" stroke-width="0.55"/>
<circle cx="1268.45" cy="1024.71" r="3" fill="#c0c000" stroke="#747400" stroke-width="0.55"/>
<circle cx="1253.79" cy="1031.27" r="2.4" fill="#c0c000" stroke="#747400" stroke-width="0.55"/>
<circle cx="1241.27" cy="1035.15" r="2.8" fill="#c0c000" stroke="#747400" stroke-width="0.55"/>
<circle cx="1244.94" cy="1034.16" r="2.8" fill="#c0c000" stroke="#747400" stroke-width="0.55"/>
<circle cx="1214.28" cy="1038.77" r="3" fill="#c0c000" stroke="#747400" stroke-width="0.55"/>
<circle cx="1228.61" cy="1037.62" r="2.6" fill="#c0c000" stroke="#747400" stroke-width="0.55"/>
<circle cx="1231.74" cy="1037.14" r="2.6" fill="#c0c000" stroke="#747400" stroke-width="0.55"/>
<circle cx="1327.71" cy="952.83" r="2.6" fill="#c0c000" stroke="#747400" stroke-width="0.55"/>
<circle cx="1326.74" cy="955.86" r="2.6" fill="#c0c000" stroke="#747400" stroke-width="0.55"/>
<circle cx="1332.23" cy="930.69" r="2.4" fill="#c0c000" stroke="#747400" stroke-width="0.55"/>
<circle cx="1331.17" cy="938.23" r="2.6" fill="#c0c000" stroke="#747400" stroke-width="0.55"/>
<circle cx="1330.55" cy="941.56" r="2.6" fill="#c0c000" stroke="#747400" stroke-width="0.55"/>
<circle cx="1324.51" cy="873.18" r="2.2" fill="#ff0000" stroke="#000" stroke-width="0.7"/>
<circle cx="1315.08" cy="854.27" r="3.35" fill="#ff0000" stroke="#000" stroke-width="0.7"/>
<circle cx="1295.32" cy="829.83" r="3.35" fill="#ff0000" stroke="#000" stroke-width="0.7"/>
<circle cx="1167.71" cy="804.68" r="3.35" fill="#008000" stroke="#000" stroke-width="0.7"/>
<circle cx="1094.19" cy="947.13" r="2.3" fill="#ff0000" stroke="#000" stroke-width="0.7"/>
<circle cx="1106.46" cy="977.65" r="3.35" fill="#ff0000" stroke="#000" stroke-width="0.7"/>
<circle cx="1109.41" cy="982.54" r="3.4" fill="#ff0000" stroke="#000" stroke-width="0.7"/>
<circle cx="1115.97" cy="991.88" r="3.35" fill="#ff0000" stroke="#000" stroke-width="0.7"/>
<circle cx="1126.04" cy="1003.3" r="3.35" fill="#ff0000" stroke="#000" stroke-width="0.7"/>
<circle cx="1148.05" cy="1020.72" r="3.35" fill="#ff0000" stroke="#000" stroke-width="0.7"/>
<circle cx="1220.41" cy="1038.49" r="2.1" fill="#008000" stroke="#000" stroke-width="0.7"/>
<circle cx="1321.58" cy="968.82" r="3.6" fill="#ff0000" stroke="#000" stroke-width="0.7"/>
<circle cx="1302.44" cy="873.17" r="3.5" fill="#c0c000" stroke="#747400" stroke-width="0.55"/>
<circle cx="1309.57" cy="892.48" r="3.3" fill="#c0c000" stroke="#747400" stroke-width="0.55"/>
<circle cx="1311.68" cy="903.02" r="3.2" fill="#c0c000" stroke="#747400" stroke-width="0.55"/>
<circle cx="1312.54" cy="911.26" r="2.8" fill="#c0c000" stroke="#747400" stroke-width="0.55"/>
<circle cx="1312.73" cy="916.37" r="2.8" fill="#c0c000" stroke="#747400" stroke-width="0.55"/>
<circle cx="1253.14" cy="825.48" r="3" fill="#c0c000" stroke="#747400" stroke-width="0.55"/>
<circle cx="1259.31" cy="828.51" r="3.5" fill="#c0c000" stroke="#747400" stroke-width="0.55"/>
<circle cx="1287.73" cy="851.07" r="3" fill="#c0c000" stroke="#747400" stroke-width="0.55"/>
<circle cx="1291.44" cy="855.56" r="3.3" fill="#c0c000" stroke="#747400" stroke-width="0.55"/>
<circle cx="1243.62" cy="821.76" r="2.7" fill="#c0c000" stroke="#747400" stroke-width="0.55"/>
<circle cx="1233.94" cy="819.07" r="2.2" fill="#c0c000" stroke="#747400" stroke-width="0.55"/>
<circle cx="1161.7" cy="829.87" r="3.7" fill="#c0c000" stroke="#747400" stroke-width="0.55"/>
<circle cx="1169.06" cy="826.06" r="3.2" fill="#c0c000" stroke="#747400" stroke-width="0.55"/>
<circle cx="1173.74" cy="824.02" r="3.4" fill="#c0c000" stroke="#747400" stroke-width="0.55"/>
<circle cx="1181.54" cy="821.22" r="3.6" fill="#c0c000" stroke="#747400" stroke-width="0.55"/>
<circle cx="1189.36" cy="819.11" r="2.8" fill="#c0c000" stroke="#747400" stroke-width="0.55"/>
<circle cx="1194.9" cy="818.01" r="2.2" fill="#c0c000" stroke="#747400" stroke-width="0.55"/>
<circle cx="1201.88" cy="817.08" r="3.1" fill="#c0c000" stroke="#747400" stroke-width="0.55"/>
<circle cx="1207.33" cy="816.7" r="3.4" fill="#c0c000" stroke="#747400" stroke-width="0.55"/>
<circle cx="1215.62" cy="816.67" r="3.1" fill="#c0c000" stroke="#747400" stroke-width="0.55"/>
<circle cx="1221.24" cy="817.05" r="3.1" fill="#c0c000" stroke="#747400" stroke-width="0.55"/>
<circle cx="1154.39" cy="834.46" r="1.8" fill="#c0c000" stroke="#747400" stroke-width="0.55"/>
<circle cx="1149.98" cy="837.69" r="2.6" fill="#c0c000" stroke="#747400" stroke-width="0.55"/>
<circle cx="1145.35" cy="841.49" r="3.7" fill="#c0c000" stroke="#747400" stroke-width="0.55"/>
<circle cx="1136.21" cy="850.54" r="2.9" fill="#c0c000" stroke="#747400" stroke-width="0.55"/>
<circle cx="1128.3" cy="860.68" r="3" fill="#c0c000" stroke="#747400" stroke-width="0.55"/>
<circle cx="1125.53" cy="864.98" r="2.4" fill="#c0c000" stroke="#747400" stroke-width="0.55"/>
<circle cx="1121.43" cy="872.38" r="3.3" fill="#c0c000" stroke="#747400" stroke-width="0.55"/>
<circle cx="1112.66" cy="897.98" r="3.7" fill="#c0c000" stroke="#747400" stroke-width="0.55"/>
<circle cx="1110.87" cy="922.71" r="3" fill="#c0c000" stroke="#747400" stroke-width="0.55"/>
<circle cx="1111.6" cy="930.78" r="3" fill="#c0c000" stroke="#747400" stroke-width="0.55"/>
<circle cx="1113.87" cy="942.55" r="3.7" fill="#c0c000" stroke="#747400" stroke-width="0.55"/>
<circle cx="1155.55" cy="1001.53" r="3.6" fill="#c0c000" stroke="#747400" stroke-width="0.55"/>
<circle cx="1169.7" cy="1009.43" r="2.4" fill="#c0c000" stroke="#747400" stroke-width="0.55"/>
<circle cx="1180.19" cy="1013.55" r="3.2" fill="#c0c000" stroke="#747400" stroke-width="0.55"/>
<circle cx="1194.9" cy="1017.19" r="3" fill="#c0c000" stroke="#747400" stroke-width="0.55"/>
<circle cx="1204.52" cy="1018.34" r="2.6" fill="#c0c000" stroke="#747400" stroke-width="0.55"/>
<circle cx="1298.59" cy="969.16" r="2.4" fill="#c0c000" stroke="#747400" stroke-width="0.55"/>
<circle cx="1294.37" cy="975.68" r="2.6" fill="#c0c000" stroke="#747400" stroke-width="0.55"/>
<circle cx="1290.01" cy="981.43" r="3" fill="#c0c000" stroke="#747400" stroke-width="0.55"/>
<circle cx="1275.3" cy="996.09" r="3.8" fill="#c0c000" stroke="#747400" stroke-width="0.55"/>
<circle cx="1257.59" cy="1007.59" r="3.4" fill="#c0c000" stroke="#747400" stroke-width="0.55"/>
<circle cx="1246.95" cy="1012.27" r="2.4" fill="#c0c000" stroke="#747400" stroke-width="0.55"/>
<circle cx="1238.39" cy="1015.02" r="2.6" fill="#c0c000" stroke="#747400" stroke-width="0.55"/>
<circle cx="1213.5" cy="1018.58" r="2.9" fill="#c0c000" stroke="#747400" stroke-width="0.55"/>
<circle cx="1227.37" cy="1017.38" r="2.8" fill="#c0c000" stroke="#747400" stroke-width="0.55"/>
<circle cx="1308.01" cy="948.14" r="2.6" fill="#c0c000" stroke="#747400" stroke-width="0.55"/>
<circle cx="1312.11" cy="928.86" r="2.4" fill="#c0c000" stroke="#747400" stroke-width="0.55"/>
<circle cx="1311.05" cy="936.01" r="2.6" fill="#c0c000" stroke="#747400" stroke-width="0.55"/>
<circle cx="1275.16" cy="839" r="3.6" fill="#ff0000" stroke="#000" stroke-width="0.7"/>
<circle cx="1127.32" cy="973.05" r="4" fill="#ff0000" stroke="#000" stroke-width="0.7"/>
<circle cx="1218.79" cy="1018.35" r="2" fill="#008000" stroke="#000" stroke-width="0.7"/>
<circle cx="1303.35" cy="960.12" r="3.6" fill="#ff0000" stroke="#000" stroke-width="0.7"/>
<circle cx="1283.99" cy="881.42" r="3.8" fill="#c0c000" stroke="#747400" stroke-width="0.55"/>
<circle cx="1289.9" cy="897.1" r="3.3" fill="#c0c000" stroke="#747400" stroke-width="0.55"/>
<circle cx="1292.11" cy="909.29" r="3.4" fill="#c0c000" stroke="#747400" stroke-width="0.55"/>
<circle cx="1260.37" cy="853.07" r="4" fill="#c0c000" stroke="#747400" stroke-width="0.55"/>
<circle cx="1237.24" cy="840.93" r="2.7" fill="#c0c000" stroke="#747400" stroke-width="0.55"/>
<circle cx="1229.37" cy="838.75" r="2.2" fill="#c0c000" stroke="#747400" stroke-width="0.55"/>
<circle cx="1182.65" cy="842.22" r="3.9" fill="#c0c000" stroke="#747400" stroke-width="0.55"/>
<circle cx="1210.61" cy="836.81" r="3.5" fill="#c0c000" stroke="#747400" stroke-width="0.55"/>
<circle cx="1131.09" cy="912.67" r="4" fill="#c0c000" stroke="#747400" stroke-width="0.55"/>
<circle cx="1167.85" cy="985.44" r="3.6" fill="#c0c000" stroke="#747400" stroke-width="0.55"/>
<circle cx="1185.43" cy="994" r="3.6" fill="#c0c000" stroke="#747400" stroke-width="0.55"/>
<circle cx="1198.82" cy="997.36" r="3" fill="#c0c000" stroke="#747400" stroke-width="0.55"/>
<circle cx="1206.1" cy="998.2" r="2.6" fill="#c0c000" stroke="#747400" stroke-width="0.55"/>
<circle cx="1281.22" cy="958.85" r="2.4" fill="#c0c000" stroke="#747400" stroke-width="0.55"/>
<circle cx="1278.01" cy="963.83" r="2.4" fill="#c0c000" stroke="#747400" stroke-width="0.55"/>
<circle cx="1274.89" cy="968.01" r="2.4" fill="#c0c000" stroke="#747400" stroke-width="0.55"/>
<circle cx="1263.35" cy="979.77" r="3.6" fill="#c0c000" stroke="#747400" stroke-width="0.55"/>
<circle cx="1249.42" cy="989.07" r="3.3" fill="#c0c000" stroke="#747400" stroke-width="0.55"/>
<circle cx="1239.77" cy="993.38" r="2.4" fill="#c0c000" stroke="#747400" stroke-width="0.55"/>
<circle cx="1234.15" cy="995.23" r="2.4" fill="#c0c000" stroke="#747400" stroke-width="0.55"/>
<circle cx="1220.47" cy="997.93" r="3.3" fill="#c0c000" stroke="#747400" stroke-width="0.55"/>
<circle cx="1288.88" cy="941.63" r="2.6" fill="#c0c000" stroke="#747400" stroke-width="0.55"/>
<circle cx="1292.04" cy="926.61" r="2.4" fill="#c0c000" stroke="#747400" stroke-width="0.55"/>
<circle cx="1291.36" cy="931.35" r="2.4" fill="#c0c000" stroke="#747400" stroke-width="0.55"/>
<circle cx="1284.85" cy="952" r="3.6" fill="#ff0000" stroke="#000" stroke-width="0.7"/>
<circle cx="1269.37" cy="898.87" r="3.8" fill="#c0c000" stroke="#747400" stroke-width="0.55"/>
<circle cx="1247.62" cy="868.76" r="4" fill="#c0c000" stroke="#747400" stroke-width="0.55"/>
<circle cx="1230.97" cy="860.13" r="2.7" fill="#c0c000" stroke="#747400" stroke-width="0.55"/>
<circle cx="1224.86" cy="858.44" r="2.2" fill="#c0c000" stroke="#747400" stroke-width="0.55"/>
<circle cx="1197.7" cy="858.65" r="3.9" fill="#c0c000" stroke="#747400" stroke-width="0.55"/>
<circle cx="1151.25" cy="914.01" r="4" fill="#c0c000" stroke="#747400" stroke-width="0.55"/>
<circle cx="1179.09" cy="968.65" r="3.9" fill="#c0c000" stroke="#747400" stroke-width="0.55"/>
<circle cx="1192.21" cy="974.97" r="3.7" fill="#c0c000" stroke="#747400" stroke-width="0.55"/>
<circle cx="1202.57" cy="977.5" r="3" fill="#c0c000" stroke="#747400" stroke-width="0.55"/>
<circle cx="1207.62" cy="978.06" r="2.6" fill="#c0c000" stroke="#747400" stroke-width="0.55"/>
<circle cx="1254.14" cy="960.9" r="4" fill="#c0c000" stroke="#747400" stroke-width="0.55"/>
<circle cx="1232.86" cy="974.4" r="2.4" fill="#c0c000" stroke="#747400" stroke-width="0.55"/>
<circle cx="1228.75" cy="975.76" r="2.4" fill="#c0c000" stroke="#747400" stroke-width="0.55"/>
<circle cx="1218.81" cy="977.79" r="3.2" fill="#c0c000" stroke="#747400" stroke-width="0.55"/>
<circle cx="1269.72" cy="935.22" r="2.6" fill="#c0c000" stroke="#747400" stroke-width="0.55"/>
<circle cx="1271.82" cy="925.51" r="2.6" fill="#c0c000" stroke="#747400" stroke-width="0.55"/>
<circle cx="1266.66" cy="943.21" r="3.6" fill="#ff0000" stroke="#000" stroke-width="0.7"/>
<circle cx="1250.05" cy="904.78" r="4" fill="#c0c000" stroke="#747400" stroke-width="0.55"/>
<circle cx="1235.71" cy="885.08" r="4.2" fill="#c0c000" stroke="#747400" stroke-width="0.55"/>
<circle cx="1224.43" cy="879.24" r="2.7" fill="#c0c000" stroke="#747400" stroke-width="0.55"/>
<circle cx="1220.28" cy="878.11" r="2.6" fill="#c0c000" stroke="#747400" stroke-width="0.55"/>
<circle cx="1171.87" cy="911.07" r="4.3" fill="#c0c000" stroke="#747400" stroke-width="0.55"/>
<circle cx="1206.12" cy="957.61" r="3" fill="#c0c000" stroke="#747400" stroke-width="0.55"/>
<circle cx="1231.57" cy="952.8" r="4" fill="#c0c000" stroke="#747400" stroke-width="0.55"/>
<circle cx="1250.54" cy="928.87" r="2.6" fill="#c0c000" stroke="#747400" stroke-width="0.55"/>
<circle cx="1251.82" cy="922.66" r="2.8" fill="#c0c000" stroke="#747400" stroke-width="0.55"/>
<circle cx="1248.3" cy="934.8" r="3.6" fill="#ff0000" stroke="#000" stroke-width="0.7"/>
<circle cx="1191.44" cy="917.6" r="4.3" fill="#c0c000" stroke="#747400" stroke-width="0.55"/>
<text transform="translate(1364.07,987.98) rotate(-245.2)" class="dv" font-size="7.35" fill="#111" stroke="#111" stroke-width="0.18" text-anchor="middle" dominant-baseline="central">Spirochaetia</text>
<text transform="translate(1352.08,982.45) rotate(-245.2)" class="dv" font-size="7.35" fill="#111" stroke="#111" stroke-width="0.18" text-anchor="middle" dominant-baseline="central">Spirochaetales</text>
<text transform="translate(1300.93,807.36) rotate(38.98)" class="dv" font-size="7.35" fill="#111" stroke="#111" stroke-width="0.18" text-anchor="middle" dominant-baseline="central">Porphyromonadaceae</text>
<text transform="translate(1093.49,995.86) rotate(-123.5)" class="dv" font-size="7.35" fill="#111" stroke="#111" stroke-width="0.18" text-anchor="middle" dominant-baseline="central">Ruminococcaceae</text>
<text transform="translate(1222.5,1058.99) rotate(-184.35)" class="dv" font-size="7.35" fill="#111" stroke="#111" stroke-width="0.18" text-anchor="middle" dominant-baseline="central">Oxalobacteraceae</text>
<text transform="translate(1340.46,977.08) rotate(-245.2)" class="dv" font-size="7.35" fill="#111" stroke="#111" stroke-width="0.18" text-anchor="middle" dominant-baseline="central">Spirochaetaceae</text>
<text transform="translate(1331.33,870.32) rotate(68.43)" class="dv" font-size="7.35" fill="#111" stroke="#111" stroke-width="0.18" text-anchor="middle" dominant-baseline="central">a</text>
<text transform="translate(1319.8,847.88) rotate(57.17)" class="dv" font-size="7.35" fill="#111" stroke="#111" stroke-width="0.18" text-anchor="middle" dominant-baseline="central">b</text>
<text transform="translate(1300.14,824.2) rotate(43.43)" class="dv" font-size="7.35" fill="#111" stroke="#111" stroke-width="0.18" text-anchor="middle" dominant-baseline="central">c</text>
<text transform="translate(1165.65,797.54) rotate(-21)" class="dv" font-size="7.35" fill="#111" stroke="#111" stroke-width="0.18" text-anchor="middle" dominant-baseline="central">d</text>
<text transform="translate(1087.09,949.23) rotate(-104.24)" class="dv" font-size="7.35" fill="#111" stroke="#111" stroke-width="0.18" text-anchor="middle" dominant-baseline="central">e</text>
<text transform="translate(1099.97,981.21) rotate(-119.64)" class="dv" font-size="7.35" fill="#111" stroke="#111" stroke-width="0.18" text-anchor="middle" dominant-baseline="central">f</text>
<text transform="translate(1103.49,987.03) rotate(-122.68)" class="dv" font-size="7.35" fill="#111" stroke="#111" stroke-width="0.18" text-anchor="middle" dominant-baseline="central">g</text>
<text transform="translate(1109.87,996.09) rotate(-127.62)" class="dv" font-size="7.35" fill="#111" stroke="#111" stroke-width="0.18" text-anchor="middle" dominant-baseline="central">h</text>
<text transform="translate(1121.03,1008.76) rotate(-135.14)" class="dv" font-size="7.35" fill="#111" stroke="#111" stroke-width="0.18" text-anchor="middle" dominant-baseline="central">i</text>
<text transform="translate(1143.78,1026.78) rotate(-148.1)" class="dv" font-size="7.35" fill="#111" stroke="#111" stroke-width="0.18" text-anchor="middle" dominant-baseline="central">j</text>
<text transform="translate(1221.49,1045.83) rotate(-184.35)" class="dv" font-size="7.35" fill="#111" stroke="#111" stroke-width="0.18" text-anchor="middle" dominant-baseline="central">k</text>
<text transform="translate(1328.48,971.54) rotate(-245.2)" class="dv" font-size="7.35" fill="#111" stroke="#111" stroke-width="0.18" text-anchor="middle" dominant-baseline="central">l</text>
<text x="1021.14" y="739.3" font-size="43.7" font-weight="bold" font-style="italic">C. mesnili</text>
<rect x="1046.34" y="753.1" width="20.5" height="7.6" fill="#ff0000" stroke="#000" stroke-width="0.8"/>
<rect x="1046.34" y="768.1" width="20.5" height="7.4" fill="#008000" stroke="#000" stroke-width="0.8"/>
<text x="1074.64" y="760.7" class="dv" font-size="9.6" font-weight="bold">Pos</text>
<text x="1074.64" y="775.3" class="dv" font-size="9.6" font-weight="bold">Neg</text>
<rect x="1405.44" y="747.2" width="14.7" height="5.4" fill="#ff0000" stroke="#000" stroke-width="0.7"/>
<text x="1425.84" y="752.6" class="dv" font-size="7.1" fill="#1a1a1a">a: Atopobium</text>
<rect x="1405.44" y="757.95" width="14.7" height="5.4" fill="#ff0000" stroke="#000" stroke-width="0.7"/>
<text x="1425.84" y="763.35" class="dv" font-size="7.1" fill="#1a1a1a">b: Senegalimassilia</text>
<rect x="1405.44" y="768.7" width="14.7" height="5.4" fill="#ff0000" stroke="#000" stroke-width="0.7"/>
<text x="1425.84" y="774.1" class="dv" font-size="7.1" fill="#1a1a1a">c: Barnesiella</text>
<rect x="1405.44" y="779.45" width="14.7" height="5.4" fill="#008000" stroke="#000" stroke-width="0.7"/>
<text x="1425.84" y="784.85" class="dv" font-size="7.1" fill="#1a1a1a">d: Lactobacillus</text>
<rect x="1405.44" y="790.2" width="14.7" height="5.4" fill="#ff0000" stroke="#000" stroke-width="0.7"/>
<text x="1425.84" y="795.6" class="dv" font-size="7.1" fill="#1a1a1a">e: Peptostreptococcus</text>
<rect x="1405.44" y="800.95" width="14.7" height="5.4" fill="#ff0000" stroke="#000" stroke-width="0.7"/>
<text x="1425.84" y="806.35" class="dv" font-size="7.1" fill="#1a1a1a">f: Clostridium_IV</text>
<rect x="1405.44" y="811.7" width="14.7" height="5.4" fill="#ff0000" stroke="#000" stroke-width="0.7"/>
<text x="1425.84" y="817.1" class="dv" font-size="7.1" fill="#1a1a1a">g: Flavonifractor</text>
<rect x="1405.44" y="822.45" width="14.7" height="5.4" fill="#ff0000" stroke="#000" stroke-width="0.7"/>
<text x="1425.84" y="827.85" class="dv" font-size="7.1" fill="#1a1a1a">h: Oscillibacter</text>
<rect x="1405.44" y="833.2" width="14.7" height="5.4" fill="#ff0000" stroke="#000" stroke-width="0.7"/>
<text x="1425.84" y="838.6" class="dv" font-size="7.1" fill="#1a1a1a">i: Sporobacter</text>
<rect x="1405.44" y="843.95" width="14.7" height="5.4" fill="#ff0000" stroke="#000" stroke-width="0.7"/>
<text x="1425.84" y="849.35" class="dv" font-size="7.1" fill="#1a1a1a">j: Holdemania</text>
<rect x="1405.44" y="854.7" width="14.7" height="5.4" fill="#008000" stroke="#000" stroke-width="0.7"/>
<text x="1425.84" y="860.1" class="dv" font-size="7.1" fill="#1a1a1a">k: Oxalobacter</text>
<rect x="1405.44" y="865.45" width="14.7" height="5.4" fill="#ff0000" stroke="#000" stroke-width="0.7"/>
<text x="1425.84" y="870.85" class="dv" font-size="7.1" fill="#1a1a1a">l: Treponema</text>
<path d="M1893.79 920.33A174 174 0 0 0 1862.52 818.05L1769.27 883.1A60.3 60.3 0 0 1 1780.1 918.55Z" fill="#ff0000" fill-opacity="0.2" stroke="#ff0000" stroke-opacity="0.15" stroke-width="0.8"/>
<path d="M1873.59 999.02A174 174 0 0 0 1881.48 981.94L1775.84 939.9A60.3 60.3 0 0 1 1773.1 945.82Z" fill="#ff0000" fill-opacity="0.2" stroke="#ff0000" stroke-opacity="0.15" stroke-width="0.8"/>
<path d="M1873.38 870.94A160.5 160.5 0 0 0 1851.44 825.77L1785.83 871.54A80.5 80.5 0 0 1 1796.83 894.2Z" fill="#ff0000" fill-opacity="0.2" stroke="#ff0000" stroke-opacity="0.15" stroke-width="0.8"/>
<path d="M1861.65 992.7A160.5 160.5 0 0 0 1868.94 976.94L1794.61 947.36A80.5 80.5 0 0 1 1790.95 955.27Z" fill="#ff0000" fill-opacity="0.2" stroke="#ff0000" stroke-opacity="0.15" stroke-width="0.8"/>
<path d="M1860.94 874.72A147.5 147.5 0 0 0 1840.78 833.21L1802.4 859.98A100.7 100.7 0 0 1 1816.16 888.33Z" fill="#ff0000" fill-opacity="0.2" stroke="#ff0000" stroke-opacity="0.15" stroke-width="0.8"/>
<path d="M1840.78 833.21A147.5 147.5 0 0 0 1833.13 823.18L1797.18 853.14A100.7 100.7 0 0 1 1802.4 859.98Z" fill="#008000" fill-opacity="0.2" stroke="#008000" stroke-opacity="0.15" stroke-width="0.8"/>
<path d="M1850.17 986.62A147.5 147.5 0 0 0 1856.86 972.14L1813.37 954.83A100.7 100.7 0 0 1 1808.81 964.72Z" fill="#ff0000" fill-opacity="0.2" stroke="#ff0000" stroke-opacity="0.15" stroke-width="0.8"/>
<path d="M1844.76 866.48A135 135 0 0 0 1843.4 863.28L1830.12 869.11A120.5 120.5 0 0 1 1831.34 871.97Z" fill="#ff0000" fill-opacity="0.2" stroke="#ff0000" stroke-opacity="0.15" stroke-width="0.8"/>
<path d="M1842.03 860.27A135 135 0 0 0 1840.61 857.33L1827.63 863.8A120.5 120.5 0 0 1 1828.91 866.43Z" fill="#ff0000" fill-opacity="0.2" stroke="#ff0000" stroke-opacity="0.15" stroke-width="0.8"/>
<path d="M1835.82 848.56A135 135 0 0 0 1830.53 840.36L1818.64 848.66A120.5 120.5 0 0 1 1823.36 855.98Z" fill="#ff0000" fill-opacity="0.2" stroke="#ff0000" stroke-opacity="0.15" stroke-width="0.8"/>
<path d="M1799.34 808.52A135 135 0 0 0 1796.9 806.78L1788.62 818.68A120.5 120.5 0 0 1 1790.8 820.23Z" fill="#008000" fill-opacity="0.2" stroke="#008000" stroke-opacity="0.15" stroke-width="0.8"/>
<path d="M1830.53 840.36A135 135 0 0 0 1823.53 831.19L1812.39 840.47A120.5 120.5 0 0 1 1818.64 848.66Z" fill="#008000" fill-opacity="0.2" stroke="#008000" stroke-opacity="0.15" stroke-width="0.8"/>
<path d="M1647.34 1031.5A135 135 0 0 0 1649.61 1032.91L1657.15 1020.53A120.5 120.5 0 0 1 1655.12 1019.27Z" fill="#ff0000" fill-opacity="0.2" stroke="#ff0000" stroke-opacity="0.15" stroke-width="0.8"/>
<path d="M1839.12 980.77A135 135 0 0 0 1845.24 967.52L1831.77 962.15A120.5 120.5 0 0 1 1826.3 973.99Z" fill="#ff0000" fill-opacity="0.2" stroke="#ff0000" stroke-opacity="0.15" stroke-width="0.8"/>
<path d="M1810.51 873.17L1834.48 878.34M1810.51 873.17L1833.49 875.57M1810.51 873.17L1832.58 873.18M1810.51 873.17L1830.14 867.42M1810.51 873.17L1827.58 862.14M1810.51 873.17L1826.2 859.54M1810.51 873.17L1824.76 856.98M1817.64 892.48L1836.93 886.44M1817.64 892.48L1837.81 889.92M1819.75 903.02L1839.31 897.39M1819.75 903.02L1839.65 899.48M1820.61 911.26L1840.77 909.99M1820.8 916.37L1841 916.33M1761.21 825.48L1767.94 806.37M1767.38 828.51L1779.68 812.22M1767.38 828.51L1774.65 809.51M1767.38 828.51L1771.61 808.03M1783.23 839L1806.7 833.1M1783.23 839L1804.8 831.19M1783.23 839L1803.39 829.83M1783.23 839L1800.88 827.51M1783.23 839L1798.86 825.73M1783.23 839L1796.8 823.99M1783.23 839L1794.7 822.31M1783.23 839L1792.57 820.67M1783.23 839L1789.85 818.68M1783.23 839L1788.19 817.53M1783.23 839L1785.95 816.04M1783.23 839L1783.68 814.59M1795.8 851.07L1810.86 837.61M1751.69 821.76L1757.26 802.33M1742.01 819.07L1746.46 799.37M1669.77 829.87L1661.05 811.6M1669.77 829.87L1658.48 813.06M1677.13 826.06L1668.78 807.67M1677.13 826.06L1671.68 806.37M1681.81 824.02L1675.78 804.68M1689.61 821.22L1682.36 802.33M1689.61 821.22L1685.39 801.39M1697.43 819.11L1692.75 799.46M1702.97 818.01L1699.39 798.13M1709.95 817.08L1707.98 796.98M1715.4 816.7L1713.68 796.56M1715.4 816.7L1717.48 796.42M1723.69 816.67L1724.46 796.49M1729.31 817.05L1729.32 796.77M1729.31 817.05L1733.11 797.13M1662.46 834.46L1651.34 817.6M1658.05 837.69L1645.53 821.83M1653.42 841.49L1640.3 826.13M1644.28 850.54L1634.71 831.3M1644.28 850.54L1633.17 832.84M1644.28 850.54L1631.67 834.41M1644.28 850.54L1630.19 836.01M1644.28 850.54L1628.74 837.63M1644.28 850.54L1627.32 839.28M1644.28 850.54L1625.92 840.95M1644.28 850.54L1624.56 842.65M1636.37 860.68L1621.02 847.39M1636.37 860.68L1619.09 850.18M1633.6 864.98L1616.36 854.45M1629.5 872.38L1612.5 861.26M1629.5 872.38L1610.97 864.28M1620.73 897.98L1608.33 870.05M1620.73 897.98L1607.5 872.04M1620.73 897.98L1606.7 874.05M1620.73 897.98L1606.21 875.35M1620.73 897.98L1605.14 878.34M1620.73 897.98L1604.54 880.16M1620.73 897.98L1603.89 882.23M1620.73 897.98L1603.31 884.19M1620.73 897.98L1602.7 886.38M1620.73 897.98L1602.16 888.48M1620.73 897.98L1601.66 890.58M1620.73 897.98L1601.2 892.69M1620.73 897.98L1600.77 894.81M1620.73 897.98L1600.38 896.93M1620.73 897.98L1600.04 899.07M1620.73 897.98L1599.72 901.21M1620.73 897.98L1599.45 903.35M1620.73 897.98L1599.22 905.5M1620.73 897.98L1599.02 907.65M1620.73 897.98L1598.86 909.81M1620.73 897.98L1598.74 911.96M1620.73 897.98L1598.69 913.16M1620.73 897.98L1598.62 916.28M1620.73 897.98L1598.61 918.45M1618.94 922.71L1598.77 923.73M1619.67 930.78L1599.37 931.11M1619.67 930.78L1599.76 934.26M1621.94 942.55L1600.92 941.14M1621.94 942.55L1601.37 943.34M1621.94 942.55L1601.87 945.52M1621.94 942.55L1602.26 947.13M1621.94 942.55L1602.98 949.87M1621.94 942.55L1603.6 952.02M1635.39 973.05L1605.92 959.05M1635.39 973.05L1606.38 960.28M1635.39 973.05L1607.23 962.5M1635.39 973.05L1608.13 964.69M1635.39 973.05L1609.07 966.86M1635.39 973.05L1610.06 969.02M1635.39 973.05L1611.09 971.16M1635.39 973.05L1612.15 973.27M1635.39 973.05L1613.26 975.37M1635.39 973.05L1614.53 977.65M1635.39 973.05L1615.6 979.49M1635.39 973.05L1616.84 981.52M1635.39 973.05L1617.48 982.54M1635.39 973.05L1619.41 985.5M1635.39 973.05L1620.76 987.45M1635.39 973.05L1622.15 989.37M1635.39 973.05L1624.04 991.88M1635.39 973.05L1625.03 993.14M1635.39 973.05L1626.53 994.98M1635.39 973.05L1628.06 996.79M1635.39 973.05L1629.62 998.57M1635.39 973.05L1631.22 1000.32M1635.39 973.05L1632.86 1002.03M1635.39 973.05L1634.11 1003.3M1635.39 973.05L1636.23 1005.37M1663.62 1001.53L1643.7 1011.92M1663.62 1001.53L1645.58 1013.41M1663.62 1001.53L1647.49 1014.86M1663.62 1001.53L1649.43 1016.27M1663.62 1001.53L1651.39 1017.64M1663.62 1001.53L1653.39 1018.98M1663.62 1001.53L1656.12 1020.72M1663.62 1001.53L1657.45 1021.52M1663.62 1001.53L1659.52 1022.74M1663.62 1001.53L1661.61 1023.91M1677.77 1009.43L1669.93 1028.06M1688.26 1013.55L1676.18 1030.67M1688.26 1013.55L1678.08 1031.39M1688.26 1013.55L1679.99 1032.07M1688.26 1013.55L1681.91 1032.72M1688.26 1013.55L1683.85 1033.34M1688.26 1013.55L1685.79 1033.93M1702.97 1017.19L1697.31 1036.69M1702.97 1017.19L1700.43 1037.24M1712.59 1018.34L1711.36 1038.5M1806.66 969.16L1823.92 979.66M1802.44 975.68L1819.09 987.12M1798.08 981.43L1812.65 995.51M1798.08 981.43L1813.73 994.2M1798.08 981.43L1814.79 992.88M1783.37 996.09L1783.32 1020.83M1783.37 996.09L1785.69 1019.33M1783.37 996.09L1788.03 1017.78M1783.37 996.09L1790.33 1016.17M1783.37 996.09L1792.6 1014.51M1783.37 996.09L1794.82 1012.8M1783.37 996.09L1797.01 1011.04M1783.37 996.09L1799.15 1009.22M1783.37 996.09L1801.25 1007.36M1783.37 996.09L1803.31 1005.45M1783.37 996.09L1805.32 1003.49M1783.37 996.09L1807.29 1001.49M1765.66 1007.59L1773.13 1026.44M1765.66 1007.59L1776.52 1024.71M1755.02 1012.27L1761.86 1031.27M1746.46 1015.02L1749.34 1035.15M1746.46 1015.02L1753.01 1034.16M1721.57 1018.58L1722.35 1038.77M1726.86 1018.35L1728.48 1038.49M1735.44 1017.38L1736.68 1037.62M1735.44 1017.38L1739.81 1037.14M1816.08 948.14L1835.78 952.83M1816.08 948.14L1834.81 955.86M1820.18 928.86L1840.3 930.69M1819.12 936.01L1839.24 938.23M1819.12 936.01L1838.62 941.56" fill="none" stroke="#000" stroke-width="0.72"/>
<path d="M1699.51 917.6L1679.41 917.6M1777.44 898.87L1796.66 892.63M1797.97 897.1L1817.5 891.97M1800.18 909.29L1820.27 907.22M1743.78 885.08L1755.77 868.82M1755.69 868.76L1767.64 852.48M1768.44 853.07L1780.59 836.94M1732.5 879.24L1738.84 860.06M1739.04 860.13L1745.45 840.98M1745.31 840.93L1751.69 821.76M1728.35 878.11L1732.62 858.37M1732.93 858.44L1737.3 838.72M1737.44 838.75L1741.84 819.03M1679.94 911.07L1660.01 907.81M1705.77 858.65L1701.08 839M1690.72 842.22L1683.45 823.37M1718.68 836.81L1718.4 816.61M1659.32 914.01L1639.15 912.81M1639.16 912.67L1619 911.43M1687.16 968.65L1676.28 985.67M1675.92 985.44L1664.95 1002.4M1700.28 974.97L1693.77 994.09M1693.5 994L1686.93 1013.1M1714.19 957.61L1711.38 977.61M1710.64 977.5L1707.59 997.47M1706.89 997.36L1703.66 1017.3M1715.69 978.06L1714.31 998.21M1714.17 998.2L1712.76 1018.35M1739.64 952.8L1749.56 970.4M1762.21 960.9L1776.34 975.33M1789.29 958.85L1806.66 969.16M1786.08 963.83L1802.65 975.39M1782.96 968.01L1798.74 980.61M1771.42 979.77L1784.33 995.31M1757.49 989.07L1766.92 1006.94M1740.93 974.4L1747.97 993.33M1747.84 993.38L1754.85 1012.33M1736.82 975.76L1742.49 995.15M1742.22 995.23L1747.82 1014.64M1726.88 977.79L1729.24 997.85M1728.54 997.93L1730.72 1018.01M1758.61 928.87L1778 934.51M1777.79 935.22L1797.12 941.09M1796.95 941.63L1816.24 947.63M1759.89 922.66L1779.93 925.2M1779.89 925.51L1799.92 928.15M1800.11 926.61L1820.18 928.86M1799.43 931.35L1819.34 934.79" fill="none" stroke="#000" stroke-width="1.0"/>
<path d="M1758.12 904.78A40.4 40.4 0 1 0 1759.89 922.66M1800.18 909.29A80.8 80.8 0 0 0 1792.06 881.42M1817.64 892.48A101 101 0 0 0 1817.5 891.97M1820.8 916.37A101 101 0 0 0 1819.75 903.02M1755.77 868.82A60.6 60.6 0 0 0 1755.69 868.76M1768.44 853.07A80.8 80.8 0 0 0 1767.64 852.48M1799.51 855.56A101 101 0 0 0 1761.21 825.48M1739.04 860.13A60.6 60.6 0 0 0 1738.84 860.06M1745.45 840.98A80.8 80.8 0 0 0 1745.31 840.93M1732.93 858.44A60.6 60.6 0 0 0 1732.62 858.37M1737.44 838.75A80.8 80.8 0 0 0 1737.3 838.72M1742.01 819.07A101 101 0 0 0 1741.84 819.03M1705.77 858.65A60.6 60.6 0 0 0 1700.28 974.97M1718.68 836.81A80.8 80.8 0 0 0 1690.72 842.22M1702.97 818.01A101 101 0 0 0 1669.77 829.87M1729.31 817.05A101 101 0 0 0 1709.95 817.08M1639.16 912.67A80.8 80.8 0 0 0 1639.15 912.81M1662.46 834.46A101 101 0 0 0 1635.39 973.05M1675.92 985.44A80.8 80.8 0 0 0 1676.28 985.67M1663.62 1001.53A101 101 0 0 0 1664.95 1002.4M1693.5 994A80.8 80.8 0 0 0 1693.77 994.09M1677.77 1009.43A101 101 0 0 0 1688.26 1013.55M1710.64 977.5A60.6 60.6 0 0 0 1715.69 978.06M1706.89 997.36A80.8 80.8 0 0 0 1707.59 997.47M1702.97 1017.19A101 101 0 0 0 1703.66 1017.3M1714.17 998.2A80.8 80.8 0 0 0 1714.31 998.21M1712.59 1018.34A101 101 0 0 0 1712.76 1018.35M1726.88 977.79A60.6 60.6 0 0 0 1762.21 960.9M1757.49 989.07A80.8 80.8 0 0 0 1789.29 958.85M1802.44 975.68A101 101 0 0 0 1802.65 975.39M1798.08 981.43A101 101 0 0 0 1798.74 980.61M1783.37 996.09A101 101 0 0 0 1784.33 995.31M1765.66 1007.59A101 101 0 0 0 1766.92 1006.94M1747.84 993.38A80.8 80.8 0 0 0 1747.97 993.33M1754.85 1012.33A101 101 0 0 0 1755.02 1012.27M1742.22 995.23A80.8 80.8 0 0 0 1742.49 995.15M1746.46 1015.02A101 101 0 0 0 1747.82 1014.64M1728.54 997.93A80.8 80.8 0 0 0 1729.24 997.85M1721.57 1018.58A101 101 0 0 0 1735.44 1017.38M1777.79 935.22A60.6 60.6 0 0 0 1778 934.51M1796.95 941.63A80.8 80.8 0 0 0 1797.12 941.09M1816.08 948.14A101 101 0 0 0 1816.24 947.63M1779.89 925.51A60.6 60.6 0 0 0 1779.93 925.2M1799.43 931.35A80.8 80.8 0 0 0 1800.11 926.61M1819.12 936.01A101 101 0 0 0 1819.34 934.79" fill="none" stroke="#000" stroke-width="1.85"/>
<line x1="1758.12" y1="904.78" x2="1777.44" y2="898.87" stroke="#000" stroke-width="3.2"/>
<line x1="1758.12" y1="904.78" x2="1777.44" y2="898.87" stroke="#ff0000" stroke-width="2.2"/>
<line x1="1792.06" y1="881.42" x2="1810.51" y2="873.17" stroke="#000" stroke-width="3.2"/>
<line x1="1792.06" y1="881.42" x2="1810.51" y2="873.17" stroke="#ff0000" stroke-width="2.2"/>
<line x1="1810.51" y1="873.17" x2="1831.38" y2="870.24" stroke="#000" stroke-width="3.2"/>
<line x1="1810.51" y1="873.17" x2="1831.38" y2="870.24" stroke="#ff0000" stroke-width="2.2"/>
<line x1="1810.51" y1="873.17" x2="1828.93" y2="864.85" stroke="#000" stroke-width="3.2"/>
<line x1="1810.51" y1="873.17" x2="1828.93" y2="864.85" stroke="#ff0000" stroke-width="2.2"/>
<line x1="1810.51" y1="873.17" x2="1823.15" y2="854.27" stroke="#000" stroke-width="3.2"/>
<line x1="1810.51" y1="873.17" x2="1823.15" y2="854.27" stroke="#ff0000" stroke-width="2.2"/>
<line x1="1799.51" y1="855.56" x2="1814.92" y2="842.48" stroke="#000" stroke-width="3.2"/>
<line x1="1799.51" y1="855.56" x2="1814.92" y2="842.48" stroke="#008000" stroke-width="2.2"/>
<line x1="1756.37" y1="934.8" x2="1774.73" y2="943.21" stroke="#000" stroke-width="3.2"/>
<line x1="1756.37" y1="934.8" x2="1774.73" y2="943.21" stroke="#ff0000" stroke-width="2.2"/>
<line x1="1774.73" y1="943.21" x2="1792.92" y2="952" stroke="#000" stroke-width="3.2"/>
<line x1="1774.73" y1="943.21" x2="1792.92" y2="952" stroke="#ff0000" stroke-width="2.2"/>
<line x1="1792.92" y1="952" x2="1811.42" y2="960.12" stroke="#000" stroke-width="3.2"/>
<line x1="1792.92" y1="952" x2="1811.42" y2="960.12" stroke="#ff0000" stroke-width="2.2"/>
<line x1="1811.42" y1="960.12" x2="1829.65" y2="968.82" stroke="#000" stroke-width="3.2"/>
<line x1="1811.42" y1="960.12" x2="1829.65" y2="968.82" stroke="#ff0000" stroke-width="2.2"/>
<circle cx="1719.81" cy="917.6" r="0.9" fill="#c0c000"/>
<circle cx="1834.48" cy="878.34" r="3" fill="#c0c000" stroke="#747400" stroke-width="0.55"/>
<circle cx="1833.49" cy="875.57" r="2.4" fill="#c0c000" stroke="#747400" stroke-width="0.55"/>
<circle cx="1832.58" cy="873.18" r="3.2" fill="#c0c000" stroke="#747400" stroke-width="0.55"/>
<circle cx="1830.14" cy="867.42" r="2.9" fill="#c0c000" stroke="#747400" stroke-width="0.55"/>
<circle cx="1827.58" cy="862.14" r="3.3" fill="#c0c000" stroke="#747400" stroke-width="0.55"/>
<circle cx="1826.2" cy="859.54" r="2.5" fill="#c0c000" stroke="#747400" stroke-width="0.55"/>
<circle cx="1824.76" cy="856.98" r="3" fill="#c0c000" stroke="#747400" stroke-width="0.55"/>
<circle cx="1836.93" cy="886.44" r="2.6" fill="#c0c000" stroke="#747400" stroke-width="0.55"/>
<circle cx="1837.81" cy="889.92" r="3" fill="#c0c000" stroke="#747400" stroke-width="0.55"/>
<circle cx="1839.31" cy="897.39" r="3" fill="#c0c000" stroke="#747400" stroke-width="0.55"/>
<circle cx="1839.65" cy="899.48" r="2.6" fill="#c0c000" stroke="#747400" stroke-width="0.55"/>
<circle cx="1840.77" cy="909.99" r="2.8" fill="#c0c000" stroke="#747400" stroke-width="0.55"/>
<circle cx="1841" cy="916.33" r="2.8" fill="#c0c000" stroke="#747400" stroke-width="0.55"/>
<circle cx="1767.94" cy="806.37" r="3.4" fill="#c0c000" stroke="#747400" stroke-width="0.55"/>
<circle cx="1779.68" cy="812.22" r="2.8" fill="#c0c000" stroke="#747400" stroke-width="0.55"/>
<circle cx="1774.65" cy="809.51" r="3" fill="#c0c000" stroke="#747400" stroke-width="0.55"/>
<circle cx="1771.61" cy="808.03" r="2.8" fill="#c0c000" stroke="#747400" stroke-width="0.55"/>
<circle cx="1806.7" cy="833.1" r="3" fill="#c0c000" stroke="#747400" stroke-width="0.55"/>
<circle cx="1804.8" cy="831.19" r="2.4" fill="#c0c000" stroke="#747400" stroke-width="0.55"/>
<circle cx="1803.39" cy="829.83" r="3.2" fill="#c0c000" stroke="#747400" stroke-width="0.55"/>
<circle cx="1800.88" cy="827.51" r="2.2" fill="#c0c000" stroke="#747400" stroke-width="0.55"/>
<circle cx="1798.86" cy="825.73" r="2.9" fill="#c0c000" stroke="#747400" stroke-width="0.55"/>
<circle cx="1796.8" cy="823.99" r="2.6" fill="#c0c000" stroke="#747400" stroke-width="0.55"/>
<circle cx="1794.7" cy="822.31" r="3.3" fill="#c0c000" stroke="#747400" stroke-width="0.55"/>
<circle cx="1792.57" cy="820.67" r="2.5" fill="#c0c000" stroke="#747400" stroke-width="0.55"/>
<circle cx="1788.19" cy="817.53" r="2.4" fill="#c0c000" stroke="#747400" stroke-width="0.55"/>
<circle cx="1785.95" cy="816.04" r="3.2" fill="#c0c000" stroke="#747400" stroke-width="0.55"/>
<circle cx="1783.68" cy="814.59" r="2.2" fill="#c0c000" stroke="#747400" stroke-width="0.55"/>
<circle cx="1810.86" cy="837.61" r="3" fill="#c0c000" stroke="#747400" stroke-width="0.55"/>
<circle cx="1757.26" cy="802.33" r="2.6" fill="#c0c000" stroke="#747400" stroke-width="0.55"/>
<circle cx="1746.46" cy="799.37" r="2.2" fill="#c0c000" stroke="#747400" stroke-width="0.55"/>
<circle cx="1661.05" cy="811.6" r="3.2" fill="#c0c000" stroke="#747400" stroke-width="0.55"/>
<circle cx="1658.48" cy="813.06" r="3.3" fill="#c0c000" stroke="#747400" stroke-width="0.55"/>
<circle cx="1668.78" cy="807.67" r="3.2" fill="#c0c000" stroke="#747400" stroke-width="0.55"/>
<circle cx="1671.68" cy="806.37" r="2.8" fill="#c0c000" stroke="#747400" stroke-width="0.55"/>
<circle cx="1675.78" cy="804.68" r="3.2" fill="#c0c000" stroke="#747400" stroke-width="0.55"/>
<circle cx="1682.36" cy="802.33" r="3" fill="#c0c000" stroke="#747400" stroke-width="0.55"/>
<circle cx="1685.39" cy="801.39" r="3.3" fill="#c0c000" stroke="#747400" stroke-width="0.55"/>
<circle cx="1692.75" cy="799.46" r="3" fill="#c0c000" stroke="#747400" stroke-width="0.55"/>
<circle cx="1699.39" cy="798.13" r="2.3" fill="#c0c000" stroke="#747400" stroke-width="0.55"/>
<circle cx="1707.98" cy="796.98" r="3.2" fill="#c0c000" stroke="#747400" stroke-width="0.55"/>
<circle cx="1713.68" cy="796.56" r="3.3" fill="#c0c000" stroke="#747400" stroke-width="0.55"/>
<circle cx="1717.48" cy="796.42" r="3" fill="#c0c000" stroke="#747400" stroke-width="0.55"/>
<circle cx="1724.46" cy="796.49" r="3" fill="#c0c000" stroke="#747400" stroke-width="0.55"/>
<circle cx="1729.32" cy="796.77" r="2.8" fill="#c0c000" stroke="#747400" stroke-width="0.55"/>
<circle cx="1733.11" cy="797.13" r="2.6" fill="#c0c000" stroke="#747400" stroke-width="0.55"/>
<circle cx="1651.34" cy="817.6" r="1.8" fill="#c0c000" stroke="#747400" stroke-width="0.55"/>
<circle cx="1645.53" cy="821.83" r="2.6" fill="#c0c000" stroke="#747400" stroke-width="0.55"/>
<circle cx="1640.3" cy="826.13" r="3.4" fill="#c0c000" stroke="#747400" stroke-width="0.55"/>
<circle cx="1634.71" cy="831.3" r="3" fill="#c0c000" stroke="#747400" stroke-width="0.55"/>
<circle cx="1633.17" cy="832.84" r="2.6" fill="#c0c000" stroke="#747400" stroke-width="0.55"/>
<circle cx="1631.67" cy="834.41" r="3.3" fill="#c0c000" stroke="#747400" stroke-width="0.55"/>
<circle cx="1630.19" cy="836.01" r="2.8" fill="#c0c000" stroke="#747400" stroke-width="0.55"/>
<circle cx="1628.74" cy="837.63" r="3" fill="#c0c000" stroke="#747400" stroke-width="0.55"/>
<circle cx="1627.32" cy="839.28" r="2.6" fill="#c0c000" stroke="#747400" stroke-width="0.55"/>
<circle cx="1625.92" cy="840.95" r="3.3" fill="#c0c000" stroke="#747400" stroke-width="0.55"/>
<circle cx="1624.56" cy="842.65" r="2.8" fill="#c0c000" stroke="#747400" stroke-width="0.55"/>
<circle cx="1621.02" cy="847.39" r="2.9" fill="#c0c000" stroke="#747400" stroke-width="0.55"/>
<circle cx="1619.09" cy="850.18" r="2.6" fill="#c0c000" stroke="#747400" stroke-width="0.55"/>
<circle cx="1616.36" cy="854.45" r="2.3" fill="#c0c000" stroke="#747400" stroke-width="0.55"/>
<circle cx="1612.5" cy="861.26" r="3" fill="#c0c000" stroke="#747400" stroke-width="0.55"/>
<circle cx="1610.97" cy="864.28" r="2.8" fill="#c0c000" stroke="#747400" stroke-width="0.55"/>
<circle cx="1608.33" cy="870.05" r="3.3" fill="#c0c000" stroke="#747400" stroke-width="0.55"/>
<circle cx="1607.5" cy="872.04" r="2.9" fill="#c0c000" stroke="#747400" stroke-width="0.55"/>
<circle cx="1606.7" cy="874.05" r="3.6" fill="#c0c000" stroke="#747400" stroke-width="0.55"/>
<circle cx="1606.21" cy="875.35" r="3" fill="#c0c000" stroke="#747400" stroke-width="0.55"/>
<circle cx="1605.14" cy="878.34" r="3.5" fill="#c0c000" stroke="#747400" stroke-width="0.55"/>
<circle cx="1604.54" cy="880.16" r="2.8" fill="#c0c000" stroke="#747400" stroke-width="0.55"/>
<circle cx="1603.89" cy="882.23" r="3.3" fill="#c0c000" stroke="#747400" stroke-width="0.55"/>
<circle cx="1603.31" cy="884.19" r="2.9" fill="#c0c000" stroke="#747400" stroke-width="0.55"/>
<circle cx="1602.7" cy="886.38" r="3.6" fill="#c0c000" stroke="#747400" stroke-width="0.55"/>
<circle cx="1602.16" cy="888.48" r="3" fill="#c0c000" stroke="#747400" stroke-width="0.55"/>
<circle cx="1601.66" cy="890.58" r="3.5" fill="#c0c000" stroke="#747400" stroke-width="0.55"/>
<circle cx="1601.2" cy="892.69" r="2.8" fill="#c0c000" stroke="#747400" stroke-width="0.55"/>
<circle cx="1600.77" cy="894.81" r="3.3" fill="#c0c000" stroke="#747400" stroke-width="0.55"/>
<circle cx="1600.38" cy="896.93" r="2.9" fill="#c0c000" stroke="#747400" stroke-width="0.55"/>
<circle cx="1600.04" cy="899.07" r="3.6" fill="#c0c000" stroke="#747400" stroke-width="0.55"/>
<circle cx="1599.72" cy="901.21" r="3" fill="#c0c000" stroke="#747400" stroke-width="0.55"/>
<circle cx="1599.45" cy="903.35" r="3.5" fill="#c0c000" stroke="#747400" stroke-width="0.55"/>
<circle cx="1599.22" cy="905.5" r="2.8" fill="#c0c000" stroke="#747400" stroke-width="0.55"/>
<circle cx="1599.02" cy="907.65" r="3.3" fill="#c0c000" stroke="#747400" stroke-width="0.55"/>
<circle cx="1598.86" cy="909.81" r="2.9" fill="#c0c000" stroke="#747400" stroke-width="0.55"/>
<circle cx="1598.74" cy="911.96" r="3.6" fill="#c0c000" stroke="#747400" stroke-width="0.55"/>
<circle cx="1598.69" cy="913.16" r="3" fill="#c0c000" stroke="#747400" stroke-width="0.55"/>
<circle cx="1598.62" cy="916.28" r="3.5" fill="#c0c000" stroke="#747400" stroke-width="0.55"/>
<circle cx="1598.61" cy="918.45" r="2.8" fill="#c0c000" stroke="#747400" stroke-width="0.55"/>
<circle cx="1598.77" cy="923.73" r="2.9" fill="#c0c000" stroke="#747400" stroke-width="0.55"/>
<circle cx="1599.37" cy="931.11" r="3" fill="#c0c000" stroke="#747400" stroke-width="0.55"/>
<circle cx="1599.76" cy="934.26" r="2.8" fill="#c0c000" stroke="#747400" stroke-width="0.55"/>
<circle cx="1600.92" cy="941.14" r="3" fill="#c0c000" stroke="#747400" stroke-width="0.55"/>
<circle cx="1601.37" cy="943.34" r="2.6" fill="#c0c000" stroke="#747400" stroke-width="0.55"/>
<circle cx="1601.87" cy="945.52" r="3.2" fill="#c0c000" stroke="#747400" stroke-width="0.55"/>
<circle cx="1602.26" cy="947.13" r="3" fill="#c0c000" stroke="#747400" stroke-width="0.55"/>
<circle cx="1602.98" cy="949.87" r="2.6" fill="#c0c000" stroke="#747400" stroke-width="0.55"/>
<circle cx="1603.6" cy="952.02" r="3.2" fill="#c0c000" stroke="#747400" stroke-width="0.55"/>
<circle cx="1605.92" cy="959.05" r="3.2" fill="#c0c000" stroke="#747400" stroke-width="0.55"/>
<circle cx="1606.38" cy="960.28" r="2.8" fill="#c0c000" stroke="#747400" stroke-width="0.55"/>
<circle cx="1607.23" cy="962.5" r="3.4" fill="#c0c000" stroke="#747400" stroke-width="0.55"/>
<circle cx="1608.13" cy="964.69" r="2.6" fill="#c0c000" stroke="#747400" stroke-width="0.55"/>
<circle cx="1609.07" cy="966.86" r="3" fill="#c0c000" stroke="#747400" stroke-width="0.55"/>
<circle cx="1610.06" cy="969.02" r="3.2" fill="#c0c000" stroke="#747400" stroke-width="0.55"/>
<circle cx="1611.09" cy="971.16" r="2.8" fill="#c0c000" stroke="#747400" stroke-width="0.55"/>
<circle cx="1612.15" cy="973.27" r="3.4" fill="#c0c000" stroke="#747400" stroke-width="0.55"/>
<circle cx="1613.26" cy="975.37" r="2.6" fill="#c0c000" stroke="#747400" stroke-width="0.55"/>
<circle cx="1614.53" cy="977.65" r="3" fill="#c0c000" stroke="#747400" stroke-width="0.55"/>
<circle cx="1615.6" cy="979.49" r="3.2" fill="#c0c000" stroke="#747400" stroke-width="0.55"/>
<circle cx="1616.84" cy="981.52" r="2.8" fill="#c0c000" stroke="#747400" stroke-width="0.55"/>
<circle cx="1617.48" cy="982.54" r="3.4" fill="#c0c000" stroke="#747400" stroke-width="0.55"/>
<circle cx="1619.41" cy="985.5" r="2.6" fill="#c0c000" stroke="#747400" stroke-width="0.55"/>
<circle cx="1620.76" cy="987.45" r="3" fill="#c0c000" stroke="#747400" stroke-width="0.55"/>
<circle cx="1622.15" cy="989.37" r="3.2" fill="#c0c000" stroke="#747400" stroke-width="0.55"/>
<circle cx="1624.04" cy="991.88" r="2.8" fill="#c0c000" stroke="#747400" stroke-width="0.55"/>
<circle cx="1625.03" cy="993.14" r="3.4" fill="#c0c000" stroke="#747400" stroke-width="0.55"/>
<circle cx="1626.53" cy="994.98" r="2.6" fill="#c0c000" stroke="#747400" stroke-width="0.55"/>
<circle cx="1628.06" cy="996.79" r="3" fill="#c0c000" stroke="#747400" stroke-width="0.55"/>
<circle cx="1629.62" cy="998.57" r="3.2" fill="#c0c000" stroke="#747400" stroke-width="0.55"/>
<circle cx="1631.22" cy="1000.32" r="2.8" fill="#c0c000" stroke="#747400" stroke-width="0.55"/>
<circle cx="1632.86" cy="1002.03" r="3.4" fill="#c0c000" stroke="#747400" stroke-width="0.55"/>
<circle cx="1634.11" cy="1003.3" r="2.6" fill="#c0c000" stroke="#747400" stroke-width="0.55"/>
<circle cx="1636.23" cy="1005.37" r="3" fill="#c0c000" stroke="#747400" stroke-width="0.55"/>
<circle cx="1643.7" cy="1011.92" r="3" fill="#c0c000" stroke="#747400" stroke-width="0.55"/>
<circle cx="1645.58" cy="1013.41" r="2.6" fill="#c0c000" stroke="#747400" stroke-width="0.55"/>
<circle cx="1647.49" cy="1014.86" r="3.3" fill="#c0c000" stroke="#747400" stroke-width="0.55"/>
<circle cx="1649.43" cy="1016.27" r="2.8" fill="#c0c000" stroke="#747400" stroke-width="0.55"/>
<circle cx="1651.39" cy="1017.64" r="3" fill="#c0c000" stroke="#747400" stroke-width="0.55"/>
<circle cx="1653.39" cy="1018.98" r="2.6" fill="#c0c000" stroke="#747400" stroke-width="0.55"/>
<circle cx="1657.45" cy="1021.52" r="2.8" fill="#c0c000" stroke="#747400" stroke-width="0.55"/>
<circle cx="1659.52" cy="1022.74" r="3" fill="#c0c000" stroke="#747400" stroke-width="0.55"/>
<circle cx="1661.61" cy="1023.91" r="2.6" fill="#c0c000" stroke="#747400" stroke-width="0.55"/>
<circle cx="1669.93" cy="1028.06" r="2.4" fill="#c0c000" stroke="#747400" stroke-width="0.55"/>
<circle cx="1676.18" cy="1030.67" r="2.8" fill="#c0c000" stroke="#747400" stroke-width="0.55"/>
<circle cx="1678.08" cy="1031.39" r="2.5" fill="#c0c000" stroke="#747400" stroke-width="0.55"/>
<circle cx="1679.99" cy="1032.07" r="3" fill="#c0c000" stroke="#747400" stroke-width="0.55"/>
<circle cx="1681.91" cy="1032.72" r="2.8" fill="#c0c000" stroke="#747400" stroke-width="0.55"/>
<circle cx="1683.85" cy="1033.34" r="2.5" fill="#c0c000" stroke="#747400" stroke-width="0.55"/>
<circle cx="1685.79" cy="1033.93" r="3" fill="#c0c000" stroke="#747400" stroke-width="0.55"/>
<circle cx="1697.31" cy="1036.69" r="2.8" fill="#c0c000" stroke="#747400" stroke-width="0.55"/>
<circle cx="1700.43" cy="1037.24" r="2.8" fill="#c0c000" stroke="#747400" stroke-width="0.55"/>
<circle cx="1711.36" cy="1038.5" r="2.6" fill="#c0c000" stroke="#747400" stroke-width="0.55"/>
<circle cx="1823.92" cy="979.66" r="2.6" fill="#c0c000" stroke="#747400" stroke-width="0.55"/>
<circle cx="1819.09" cy="987.12" r="2.6" fill="#c0c000" stroke="#747400" stroke-width="0.55"/>
<circle cx="1812.65" cy="995.51" r="2.6" fill="#c0c000" stroke="#747400" stroke-width="0.55"/>
<circle cx="1813.73" cy="994.2" r="2.4" fill="#c0c000" stroke="#747400" stroke-width="0.55"/>
<circle cx="1814.79" cy="992.88" r="2.6" fill="#c0c000" stroke="#747400" stroke-width="0.55"/>
<circle cx="1783.32" cy="1020.83" r="2.8" fill="#c0c000" stroke="#747400" stroke-width="0.55"/>
<circle cx="1785.69" cy="1019.33" r="2.5" fill="#c0c000" stroke="#747400" stroke-width="0.55"/>
<circle cx="1788.03" cy="1017.78" r="3" fill="#c0c000" stroke="#747400" stroke-width="0.55"/>
<circle cx="1790.33" cy="1016.17" r="2.6" fill="#c0c000" stroke="#747400" stroke-width="0.55"/>
<circle cx="1792.6" cy="1014.51" r="2.8" fill="#c0c000" stroke="#747400" stroke-width="0.55"/>
<circle cx="1794.82" cy="1012.8" r="2.5" fill="#c0c000" stroke="#747400" stroke-width="0.55"/>
<circle cx="1797.01" cy="1011.04" r="3" fill="#c0c000" stroke="#747400" stroke-width="0.55"/>
<circle cx="1799.15" cy="1009.22" r="2.6" fill="#c0c000" stroke="#747400" stroke-width="0.55"/>
<circle cx="1801.25" cy="1007.36" r="2.8" fill="#c0c000" stroke="#747400" stroke-width="0.55"/>
<circle cx="1803.31" cy="1005.45" r="2.5" fill="#c0c000" stroke="#747400" stroke-width="0.55"/>
<circle cx="1805.32" cy="1003.49" r="3" fill="#c0c000" stroke="#747400" stroke-width="0.55"/>
<circle cx="1807.29" cy="1001.49" r="2.6" fill="#c0c000" stroke="#747400" stroke-width="0.55"/>
<circle cx="1773.13" cy="1026.44" r="3" fill="#c0c000" stroke="#747400" stroke-width="0.55"/>
<circle cx="1776.52" cy="1024.71" r="3" fill="#c0c000" stroke="#747400" stroke-width="0.55"/>
<circle cx="1761.86" cy="1031.27" r="2.4" fill="#c0c000" stroke="#747400" stroke-width="0.55"/>
<circle cx="1749.34" cy="1035.15" r="2.8" fill="#c0c000" stroke="#747400" stroke-width="0.55"/>
<circle cx="1753.01" cy="1034.16" r="2.8" fill="#c0c000" stroke="#747400" stroke-width="0.55"/>
<circle cx="1722.35" cy="1038.77" r="3" fill="#c0c000" stroke="#747400" stroke-width="0.55"/>
<circle cx="1728.48" cy="1038.49" r="2.6" fill="#c0c000" stroke="#747400" stroke-width="0.55"/>
<circle cx="1736.68" cy="1037.62" r="2.6" fill="#c0c000" stroke="#747400" stroke-width="0.55"/>
<circle cx="1739.81" cy="1037.14" r="2.6" fill="#c0c000" stroke="#747400" stroke-width="0.55"/>
<circle cx="1835.78" cy="952.83" r="2.6" fill="#c0c000" stroke="#747400" stroke-width="0.55"/>
<circle cx="1834.81" cy="955.86" r="2.6" fill="#c0c000" stroke="#747400" stroke-width="0.55"/>
<circle cx="1840.3" cy="930.69" r="2.4" fill="#c0c000" stroke="#747400" stroke-width="0.55"/>
<circle cx="1839.24" cy="938.23" r="2.6" fill="#c0c000" stroke="#747400" stroke-width="0.55"/>
<circle cx="1838.62" cy="941.56" r="2.6" fill="#c0c000" stroke="#747400" stroke-width="0.55"/>
<circle cx="1831.38" cy="870.24" r="3.35" fill="#ff0000" stroke="#000" stroke-width="0.7"/>
<circle cx="1828.93" cy="864.85" r="3.35" fill="#ff0000" stroke="#000" stroke-width="0.7"/>
<circle cx="1823.15" cy="854.27" r="3.35" fill="#ff0000" stroke="#000" stroke-width="0.7"/>
<circle cx="1789.85" cy="818.68" r="3.35" fill="#008000" stroke="#000" stroke-width="0.7"/>
<circle cx="1814.92" cy="842.48" r="3.5" fill="#008000" stroke="#000" stroke-width="0.7"/>
<circle cx="1656.12" cy="1020.72" r="3.35" fill="#ff0000" stroke="#000" stroke-width="0.7"/>
<circle cx="1829.65" cy="968.82" r="3.6" fill="#ff0000" stroke="#000" stroke-width="0.7"/>
<circle cx="1817.64" cy="892.48" r="3.3" fill="#c0c000" stroke="#747400" stroke-width="0.55"/>
<circle cx="1819.75" cy="903.02" r="3.2" fill="#c0c000" stroke="#747400" stroke-width="0.55"/>
<circle cx="1820.61" cy="911.26" r="2.8" fill="#c0c000" stroke="#747400" stroke-width="0.55"/>
<circle cx="1820.8" cy="916.37" r="2.8" fill="#c0c000" stroke="#747400" stroke-width="0.55"/>
<circle cx="1761.21" cy="825.48" r="3" fill="#c0c000" stroke="#747400" stroke-width="0.55"/>
<circle cx="1767.38" cy="828.51" r="3.5" fill="#c0c000" stroke="#747400" stroke-width="0.55"/>
<circle cx="1783.23" cy="839" r="3.6" fill="#c0c000" stroke="#747400" stroke-width="0.55"/>
<circle cx="1795.8" cy="851.07" r="3" fill="#c0c000" stroke="#747400" stroke-width="0.55"/>
<circle cx="1751.69" cy="821.76" r="2.7" fill="#c0c000" stroke="#747400" stroke-width="0.55"/>
<circle cx="1742.01" cy="819.07" r="2.2" fill="#c0c000" stroke="#747400" stroke-width="0.55"/>
<circle cx="1669.77" cy="829.87" r="3.7" fill="#c0c000" stroke="#747400" stroke-width="0.55"/>
<circle cx="1677.13" cy="826.06" r="3.2" fill="#c0c000" stroke="#747400" stroke-width="0.55"/>
<circle cx="1681.81" cy="824.02" r="3.4" fill="#c0c000" stroke="#747400" stroke-width="0.55"/>
<circle cx="1689.61" cy="821.22" r="3.6" fill="#c0c000" stroke="#747400" stroke-width="0.55"/>
<circle cx="1697.43" cy="819.11" r="2.8" fill="#c0c000" stroke="#747400" stroke-width="0.55"/>
<circle cx="1702.97" cy="818.01" r="2.2" fill="#c0c000" stroke="#747400" stroke-width="0.55"/>
<circle cx="1709.95" cy="817.08" r="3.1" fill="#c0c000" stroke="#747400" stroke-width="0.55"/>
<circle cx="1715.4" cy="816.7" r="3.4" fill="#c0c000" stroke="#747400" stroke-width="0.55"/>
<circle cx="1723.69" cy="816.67" r="3.1" fill="#c0c000" stroke="#747400" stroke-width="0.55"/>
<circle cx="1729.31" cy="817.05" r="3.1" fill="#c0c000" stroke="#747400" stroke-width="0.55"/>
<circle cx="1662.46" cy="834.46" r="1.8" fill="#c0c000" stroke="#747400" stroke-width="0.55"/>
<circle cx="1658.05" cy="837.69" r="2.6" fill="#c0c000" stroke="#747400" stroke-width="0.55"/>
<circle cx="1653.42" cy="841.49" r="3.7" fill="#c0c000" stroke="#747400" stroke-width="0.55"/>
<circle cx="1644.28" cy="850.54" r="2.9" fill="#c0c000" stroke="#747400" stroke-width="0.55"/>
<circle cx="1636.37" cy="860.68" r="3" fill="#c0c000" stroke="#747400" stroke-width="0.55"/>
<circle cx="1633.6" cy="864.98" r="2.4" fill="#c0c000" stroke="#747400" stroke-width="0.55"/>
<circle cx="1629.5" cy="872.38" r="3.3" fill="#c0c000" stroke="#747400" stroke-width="0.55"/>
<circle cx="1620.73" cy="897.98" r="3.7" fill="#c0c000" stroke="#747400" stroke-width="0.55"/>
<circle cx="1618.94" cy="922.71" r="3" fill="#c0c000" stroke="#747400" stroke-width="0.55"/>
<circle cx="1619.67" cy="930.78" r="3" fill="#c0c000" stroke="#747400" stroke-width="0.55"/>
<circle cx="1621.94" cy="942.55" r="3.7" fill="#c0c000" stroke="#747400" stroke-width="0.55"/>
<circle cx="1635.39" cy="973.05" r="4" fill="#c0c000" stroke="#747400" stroke-width="0.55"/>
<circle cx="1663.62" cy="1001.53" r="3.6" fill="#c0c000" stroke="#747400" stroke-width="0.55"/>
<circle cx="1677.77" cy="1009.43" r="2.4" fill="#c0c000" stroke="#747400" stroke-width="0.55"/>
<circle cx="1688.26" cy="1013.55" r="3.2" fill="#c0c000" stroke="#747400" stroke-width="0.55"/>
<circle cx="1702.97" cy="1017.19" r="3" fill="#c0c000" stroke="#747400" stroke-width="0.55"/>
<circle cx="1712.59" cy="1018.34" r="2.6" fill="#c0c000" stroke="#747400" stroke-width="0.55"/>
<circle cx="1806.66" cy="969.16" r="2.4" fill="#c0c000" stroke="#747400" stroke-width="0.55"/>
<circle cx="1802.44" cy="975.68" r="2.6" fill="#c0c000" stroke="#747400" stroke-width="0.55"/>
<circle cx="1798.08" cy="981.43" r="3" fill="#c0c000" stroke="#747400" stroke-width="0.55"/>
<circle cx="1783.37" cy="996.09" r="3.8" fill="#c0c000" stroke="#747400" stroke-width="0.55"/>
<circle cx="1765.66" cy="1007.59" r="3.4" fill="#c0c000" stroke="#747400" stroke-width="0.55"/>
<circle cx="1755.02" cy="1012.27" r="2.4" fill="#c0c000" stroke="#747400" stroke-width="0.55"/>
<circle cx="1746.46" cy="1015.02" r="2.6" fill="#c0c000" stroke="#747400" stroke-width="0.55"/>
<circle cx="1721.57" cy="1018.58" r="2.9" fill="#c0c000" stroke="#747400" stroke-width="0.55"/>
<circle cx="1726.86" cy="1018.35" r="2.6" fill="#c0c000" stroke="#747400" stroke-width="0.55"/>
<circle cx="1735.44" cy="1017.38" r="2.8" fill="#c0c000" stroke="#747400" stroke-width="0.55"/>
<circle cx="1816.08" cy="948.14" r="2.6" fill="#c0c000" stroke="#747400" stroke-width="0.55"/>
<circle cx="1820.18" cy="928.86" r="2.4" fill="#c0c000" stroke="#747400" stroke-width="0.55"/>
<circle cx="1819.12" cy="936.01" r="2.6" fill="#c0c000" stroke="#747400" stroke-width="0.55"/>
<circle cx="1810.51" cy="873.17" r="3.5" fill="#ff0000" stroke="#000" stroke-width="0.7"/>
<circle cx="1799.51" cy="855.56" r="3.3" fill="#008000" stroke="#000" stroke-width="0.7"/>
<circle cx="1811.42" cy="960.12" r="3.6" fill="#ff0000" stroke="#000" stroke-width="0.7"/>
<circle cx="1797.97" cy="897.1" r="3.3" fill="#c0c000" stroke="#747400" stroke-width="0.55"/>
<circle cx="1800.18" cy="909.29" r="3.4" fill="#c0c000" stroke="#747400" stroke-width="0.55"/>
<circle cx="1768.44" cy="853.07" r="4" fill="#c0c000" stroke="#747400" stroke-width="0.55"/>
<circle cx="1745.31" cy="840.93" r="2.7" fill="#c0c000" stroke="#747400" stroke-width="0.55"/>
<circle cx="1737.44" cy="838.75" r="2.2" fill="#c0c000" stroke="#747400" stroke-width="0.55"/>
<circle cx="1690.72" cy="842.22" r="3.9" fill="#c0c000" stroke="#747400" stroke-width="0.55"/>
<circle cx="1718.68" cy="836.81" r="3.5" fill="#c0c000" stroke="#747400" stroke-width="0.55"/>
<circle cx="1639.16" cy="912.67" r="4" fill="#c0c000" stroke="#747400" stroke-width="0.55"/>
<circle cx="1675.92" cy="985.44" r="3.6" fill="#c0c000" stroke="#747400" stroke-width="0.55"/>
<circle cx="1693.5" cy="994" r="3.6" fill="#c0c000" stroke="#747400" stroke-width="0.55"/>
<circle cx="1706.89" cy="997.36" r="3" fill="#c0c000" stroke="#747400" stroke-width="0.55"/>
<circle cx="1714.17" cy="998.2" r="2.6" fill="#c0c000" stroke="#747400" stroke-width="0.55"/>
<circle cx="1789.29" cy="958.85" r="2.4" fill="#c0c000" stroke="#747400" stroke-width="0.55"/>
<circle cx="1786.08" cy="963.83" r="2.4" fill="#c0c000" stroke="#747400" stroke-width="0.55"/>
<circle cx="1782.96" cy="968.01" r="2.4" fill="#c0c000" stroke="#747400" stroke-width="0.55"/>
<circle cx="1771.42" cy="979.77" r="3.6" fill="#c0c000" stroke="#747400" stroke-width="0.55"/>
<circle cx="1757.49" cy="989.07" r="3.3" fill="#c0c000" stroke="#747400" stroke-width="0.55"/>
<circle cx="1747.84" cy="993.38" r="2.4" fill="#c0c000" stroke="#747400" stroke-width="0.55"/>
<circle cx="1742.22" cy="995.23" r="2.4" fill="#c0c000" stroke="#747400" stroke-width="0.55"/>
<circle cx="1728.54" cy="997.93" r="3.3" fill="#c0c000" stroke="#747400" stroke-width="0.55"/>
<circle cx="1796.95" cy="941.63" r="2.6" fill="#c0c000" stroke="#747400" stroke-width="0.55"/>
<circle cx="1800.11" cy="926.61" r="2.4" fill="#c0c000" stroke="#747400" stroke-width="0.55"/>
<circle cx="1799.43" cy="931.35" r="2.4" fill="#c0c000" stroke="#747400" stroke-width="0.55"/>
<circle cx="1792.06" cy="881.42" r="3.8" fill="#ff0000" stroke="#000" stroke-width="0.7"/>
<circle cx="1792.92" cy="952" r="3.6" fill="#ff0000" stroke="#000" stroke-width="0.7"/>
<circle cx="1755.69" cy="868.76" r="4" fill="#c0c000" stroke="#747400" stroke-width="0.55"/>
<circle cx="1739.04" cy="860.13" r="2.7" fill="#c0c000" stroke="#747400" stroke-width="0.55"/>
<circle cx="1732.93" cy="858.44" r="2.2" fill="#c0c000" stroke="#747400" stroke-width="0.55"/>
<circle cx="1705.77" cy="858.65" r="3.9" fill="#c0c000" stroke="#747400" stroke-width="0.55"/>
<circle cx="1659.32" cy="914.01" r="4" fill="#c0c000" stroke="#747400" stroke-width="0.55"/>
<circle cx="1687.16" cy="968.65" r="3.9" fill="#c0c000" stroke="#747400" stroke-width="0.55"/>
<circle cx="1700.28" cy="974.97" r="3.7" fill="#c0c000" stroke="#747400" stroke-width="0.55"/>
<circle cx="1710.64" cy="977.5" r="3" fill="#c0c000" stroke="#747400" stroke-width="0.55"/>
<circle cx="1715.69" cy="978.06" r="2.6" fill="#c0c000" stroke="#747400" stroke-width="0.55"/>
<circle cx="1762.21" cy="960.9" r="4" fill="#c0c000" stroke="#747400" stroke-width="0.55"/>
<circle cx="1740.93" cy="974.4" r="2.4" fill="#c0c000" stroke="#747400" stroke-width="0.55"/>
<circle cx="1736.82" cy="975.76" r="2.4" fill="#c0c000" stroke="#747400" stroke-width="0.55"/>
<circle cx="1726.88" cy="977.79" r="3.2" fill="#c0c000" stroke="#747400" stroke-width="0.55"/>
<circle cx="1777.79" cy="935.22" r="2.6" fill="#c0c000" stroke="#747400" stroke-width="0.55"/>
<circle cx="1779.89" cy="925.51" r="2.6" fill="#c0c000" stroke="#747400" stroke-width="0.55"/>
<circle cx="1777.44" cy="898.87" r="3.8" fill="#ff0000" stroke="#000" stroke-width="0.7"/>
<circle cx="1774.73" cy="943.21" r="3.6" fill="#ff0000" stroke="#000" stroke-width="0.7"/>
<circle cx="1743.78" cy="885.08" r="4.2" fill="#c0c000" stroke="#747400" stroke-width="0.55"/>
<circle cx="1732.5" cy="879.24" r="2.7" fill="#c0c000" stroke="#747400" stroke-width="0.55"/>
<circle cx="1728.35" cy="878.11" r="2.6" fill="#c0c000" stroke="#747400" stroke-width="0.55"/>
<circle cx="1679.94" cy="911.07" r="4.3" fill="#c0c000" stroke="#747400" stroke-width="0.55"/>
<circle cx="1714.19" cy="957.61" r="3" fill="#c0c000" stroke="#747400" stroke-width="0.55"/>
<circle cx="1739.64" cy="952.8" r="4" fill="#c0c000" stroke="#747400" stroke-width="0.55"/>
<circle cx="1758.61" cy="928.87" r="2.6" fill="#c0c000" stroke="#747400" stroke-width="0.55"/>
<circle cx="1759.89" cy="922.66" r="2.8" fill="#c0c000" stroke="#747400" stroke-width="0.55"/>
<circle cx="1758.12" cy="904.78" r="4" fill="#ff0000" stroke="#000" stroke-width="0.7"/>
<circle cx="1756.37" cy="934.8" r="3.6" fill="#ff0000" stroke="#000" stroke-width="0.7"/>
<circle cx="1699.51" cy="917.6" r="4.3" fill="#c0c000" stroke="#747400" stroke-width="0.55"/>
<text transform="translate(1880.28,868.54) rotate(73)" class="dv" font-size="7.35" fill="#111" stroke="#111" stroke-width="0.18" text-anchor="middle" dominant-baseline="central">Actinobacteria</text>
<text transform="translate(1872.14,987.98) rotate(-245.2)" class="dv" font-size="7.35" fill="#111" stroke="#111" stroke-width="0.18" text-anchor="middle" dominant-baseline="central">Spirochaetia</text>
<text transform="translate(1858.88,850.07) rotate(64.1)" class="dv" font-size="7.35" fill="#111" stroke="#111" stroke-width="0.18" text-anchor="middle" dominant-baseline="central">Coriobacteriales</text>
<text transform="translate(1860.15,982.45) rotate(-245.2)" class="dv" font-size="7.35" fill="#111" stroke="#111" stroke-width="0.18" text-anchor="middle" dominant-baseline="central">Spirochaetales</text>
<text transform="translate(1847.37,855.66) rotate(64.1)" class="dv" font-size="7.35" fill="#111" stroke="#111" stroke-width="0.18" text-anchor="middle" dominant-baseline="central">Coriobacteriaceae</text>
<text transform="translate(1832.53,831.57) rotate(52.65)" class="dv" font-size="7.35" fill="#111" stroke="#111" stroke-width="0.18" text-anchor="middle" dominant-baseline="central">Bacteroidaceae</text>
<text transform="translate(1848.53,977.08) rotate(-245.2)" class="dv" font-size="7.35" fill="#111" stroke="#111" stroke-width="0.18" text-anchor="middle" dominant-baseline="central">Spirochaetaceae</text>
<text transform="translate(1838.2,867.37) rotate(67.01)" class="dv" font-size="7.35" fill="#111" stroke="#111" stroke-width="0.18" text-anchor="middle" dominant-baseline="central">a</text>
<text transform="translate(1835.57,861.58) rotate(64.18)" class="dv" font-size="7.35" fill="#111" stroke="#111" stroke-width="0.18" text-anchor="middle" dominant-baseline="central">b</text>
<text transform="translate(1827.87,847.88) rotate(57.17)" class="dv" font-size="7.35" fill="#111" stroke="#111" stroke-width="0.18" text-anchor="middle" dominant-baseline="central">c</text>
<text transform="translate(1794.41,812.85) rotate(35.46)" class="dv" font-size="7.35" fill="#111" stroke="#111" stroke-width="0.18" text-anchor="middle" dominant-baseline="central">e</text>
<text transform="translate(1822.04,839.58) rotate(52.65)" class="dv" font-size="7.35" fill="#111" stroke="#111" stroke-width="0.18" text-anchor="middle" dominant-baseline="central">d</text>
<text transform="translate(1651.85,1026.78) rotate(-148.1)" class="dv" font-size="7.35" fill="#111" stroke="#111" stroke-width="0.18" text-anchor="middle" dominant-baseline="central">f</text>
<text transform="translate(1836.55,971.54) rotate(-245.2)" class="dv" font-size="7.35" fill="#111" stroke="#111" stroke-width="0.18" text-anchor="middle" dominant-baseline="central">g</text>
<text x="1529.21" y="739.3" font-size="43.7" font-weight="bold" font-style="italic">E. histolytica/dispar</text>
<rect x="1554.41" y="753.1" width="20.5" height="7.6" fill="#ff0000" stroke="#000" stroke-width="0.8"/>
<rect x="1554.41" y="768.1" width="20.5" height="7.4" fill="#008000" stroke="#000" stroke-width="0.8"/>
<text x="1582.71" y="760.7" class="dv" font-size="9.6" font-weight="bold">Pos</text>
<text x="1582.71" y="775.3" class="dv" font-size="9.6" font-weight="bold">Neg</text>
<rect x="1913.51" y="747.2" width="14.7" height="5.4" fill="#ff0000" stroke="#000" stroke-width="0.7"/>
<text x="1933.91" y="752.6" class="dv" font-size="7.1" fill="#1a1a1a">a: Collinsella</text>
<rect x="1913.51" y="757.95" width="14.7" height="5.4" fill="#ff0000" stroke="#000" stroke-width="0.7"/>
<text x="1933.91" y="763.35" class="dv" font-size="7.1" fill="#1a1a1a">b: Enterorhabdus</text>
<rect x="1913.51" y="768.7" width="14.7" height="5.4" fill="#ff0000" stroke="#000" stroke-width="0.7"/>
<text x="1933.91" y="774.1" class="dv" font-size="7.1" fill="#1a1a1a">c: Senegalimassilia</text>
<rect x="1913.51" y="779.45" width="14.7" height="5.4" fill="#008000" stroke="#000" stroke-width="0.7"/>
<text x="1933.91" y="784.85" class="dv" font-size="7.1" fill="#1a1a1a">d: Bacteroides</text>
<rect x="1913.51" y="790.2" width="14.7" height="5.4" fill="#008000" stroke="#000" stroke-width="0.7"/>
<text x="1933.91" y="795.6" class="dv" font-size="7.1" fill="#1a1a1a">e: Parabacteroides</text>
<rect x="1913.51" y="800.95" width="14.7" height="5.4" fill="#ff0000" stroke="#000" stroke-width="0.7"/>
<text x="1933.91" y="806.35" class="dv" font-size="7.1" fill="#1a1a1a">f: Holdemania</text>
<rect x="1913.51" y="811.7" width="14.7" height="5.4" fill="#ff0000" stroke="#000" stroke-width="0.7"/>
<text x="1933.91" y="817.1" class="dv" font-size="7.1" fill="#1a1a1a">g: Treponema</text>
</svg>
</body></html>
